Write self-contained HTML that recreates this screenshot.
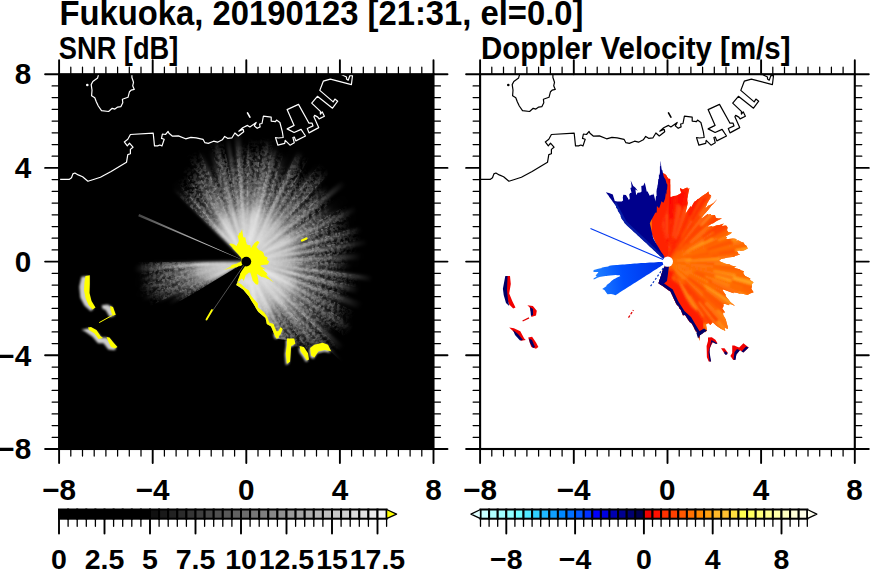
<!DOCTYPE html><html><head><meta charset="utf-8"><style>html,body{margin:0;padding:0;background:#fff;overflow:hidden}svg{display:block}text{font-family:"Liberation Sans",sans-serif;font-weight:bold}</style></head><body>
<svg width="870" height="570" viewBox="0 0 870 570">
<rect width="870" height="570" fill="#fff"/>
<text x="59.5" y="24.8" font-size="34.4" textLength="524" lengthAdjust="spacingAndGlyphs">Fukuoka, 20190123 [21:31, el=0.0]</text>
<text x="58.8" y="58.8" font-size="31.2" textLength="119.5" lengthAdjust="spacingAndGlyphs">SNR [dB]</text>
<text x="481" y="58.8" font-size="31.2" textLength="309.5" lengthAdjust="spacingAndGlyphs">Doppler Velocity [m/s]</text>
<rect x="59.1" y="74.2" width="374.4" height="374.8" fill="#000"/>
<defs><radialGradient id="g1" gradientUnits="userSpaceOnUse" cx="246.3" cy="261.6" r="99.5"><stop offset="0" stop-color="#fff" stop-opacity="0.79"/><stop offset="0.2" stop-color="#fff" stop-opacity="0.79"/><stop offset="0.4" stop-color="#fff" stop-opacity="0.55"/><stop offset="0.5" stop-color="#fff" stop-opacity="0.26"/><stop offset="0.7" stop-color="#fff" stop-opacity="0.08"/><stop offset="0.9" stop-color="#fff" stop-opacity="0.02"/><stop offset="1" stop-color="#fff" stop-opacity="0.00"/></radialGradient><radialGradient id="g2" gradientUnits="userSpaceOnUse" cx="246.3" cy="261.6" r="91.7"><stop offset="0" stop-color="#fff" stop-opacity="0.84"/><stop offset="0.2" stop-color="#fff" stop-opacity="0.84"/><stop offset="0.4" stop-color="#fff" stop-opacity="0.59"/><stop offset="0.5" stop-color="#fff" stop-opacity="0.28"/><stop offset="0.7" stop-color="#fff" stop-opacity="0.08"/><stop offset="0.9" stop-color="#fff" stop-opacity="0.02"/><stop offset="1" stop-color="#fff" stop-opacity="0.00"/></radialGradient><radialGradient id="g3" gradientUnits="userSpaceOnUse" cx="246.3" cy="261.6" r="99.2"><stop offset="0" stop-color="#fff" stop-opacity="0.75"/><stop offset="0.2" stop-color="#fff" stop-opacity="0.75"/><stop offset="0.4" stop-color="#fff" stop-opacity="0.53"/><stop offset="0.5" stop-color="#fff" stop-opacity="0.25"/><stop offset="0.7" stop-color="#fff" stop-opacity="0.08"/><stop offset="0.9" stop-color="#fff" stop-opacity="0.02"/><stop offset="1" stop-color="#fff" stop-opacity="0.00"/></radialGradient><radialGradient id="g4" gradientUnits="userSpaceOnUse" cx="246.3" cy="261.6" r="90.6"><stop offset="0" stop-color="#fff" stop-opacity="0.71"/><stop offset="0.2" stop-color="#fff" stop-opacity="0.71"/><stop offset="0.4" stop-color="#fff" stop-opacity="0.50"/><stop offset="0.5" stop-color="#fff" stop-opacity="0.23"/><stop offset="0.7" stop-color="#fff" stop-opacity="0.07"/><stop offset="0.9" stop-color="#fff" stop-opacity="0.01"/><stop offset="1" stop-color="#fff" stop-opacity="0.00"/></radialGradient><radialGradient id="g5" gradientUnits="userSpaceOnUse" cx="246.3" cy="261.6" r="93.3"><stop offset="0" stop-color="#fff" stop-opacity="0.84"/><stop offset="0.2" stop-color="#fff" stop-opacity="0.84"/><stop offset="0.4" stop-color="#fff" stop-opacity="0.59"/><stop offset="0.5" stop-color="#fff" stop-opacity="0.28"/><stop offset="0.7" stop-color="#fff" stop-opacity="0.08"/><stop offset="0.9" stop-color="#fff" stop-opacity="0.02"/><stop offset="1" stop-color="#fff" stop-opacity="0.00"/></radialGradient><radialGradient id="g6" gradientUnits="userSpaceOnUse" cx="246.3" cy="261.6" r="98"><stop offset="0" stop-color="#fff" stop-opacity="0.61"/><stop offset="0.2" stop-color="#fff" stop-opacity="0.61"/><stop offset="0.4" stop-color="#fff" stop-opacity="0.43"/><stop offset="0.5" stop-color="#fff" stop-opacity="0.20"/><stop offset="0.7" stop-color="#fff" stop-opacity="0.06"/><stop offset="0.9" stop-color="#fff" stop-opacity="0.01"/><stop offset="1" stop-color="#fff" stop-opacity="0.00"/></radialGradient><radialGradient id="g7" gradientUnits="userSpaceOnUse" cx="246.3" cy="261.6" r="110.3"><stop offset="0" stop-color="#fff" stop-opacity="0.86"/><stop offset="0.2" stop-color="#fff" stop-opacity="0.86"/><stop offset="0.4" stop-color="#fff" stop-opacity="0.60"/><stop offset="0.5" stop-color="#fff" stop-opacity="0.28"/><stop offset="0.7" stop-color="#fff" stop-opacity="0.09"/><stop offset="0.9" stop-color="#fff" stop-opacity="0.02"/><stop offset="1" stop-color="#fff" stop-opacity="0.00"/></radialGradient><radialGradient id="g8" gradientUnits="userSpaceOnUse" cx="246.3" cy="261.6" r="97.2"><stop offset="0" stop-color="#fff" stop-opacity="0.70"/><stop offset="0.2" stop-color="#fff" stop-opacity="0.70"/><stop offset="0.4" stop-color="#fff" stop-opacity="0.49"/><stop offset="0.5" stop-color="#fff" stop-opacity="0.23"/><stop offset="0.7" stop-color="#fff" stop-opacity="0.07"/><stop offset="0.9" stop-color="#fff" stop-opacity="0.01"/><stop offset="1" stop-color="#fff" stop-opacity="0.00"/></radialGradient><radialGradient id="g9" gradientUnits="userSpaceOnUse" cx="246.3" cy="261.6" r="100.4"><stop offset="0" stop-color="#fff" stop-opacity="0.89"/><stop offset="0.2" stop-color="#fff" stop-opacity="0.89"/><stop offset="0.4" stop-color="#fff" stop-opacity="0.62"/><stop offset="0.5" stop-color="#fff" stop-opacity="0.29"/><stop offset="0.7" stop-color="#fff" stop-opacity="0.09"/><stop offset="0.9" stop-color="#fff" stop-opacity="0.02"/><stop offset="1" stop-color="#fff" stop-opacity="0.00"/></radialGradient><radialGradient id="g10" gradientUnits="userSpaceOnUse" cx="246.3" cy="261.6" r="102.7"><stop offset="0" stop-color="#fff" stop-opacity="0.85"/><stop offset="0.2" stop-color="#fff" stop-opacity="0.85"/><stop offset="0.4" stop-color="#fff" stop-opacity="0.59"/><stop offset="0.5" stop-color="#fff" stop-opacity="0.28"/><stop offset="0.7" stop-color="#fff" stop-opacity="0.08"/><stop offset="0.9" stop-color="#fff" stop-opacity="0.02"/><stop offset="1" stop-color="#fff" stop-opacity="0.00"/></radialGradient><radialGradient id="g11" gradientUnits="userSpaceOnUse" cx="246.3" cy="261.6" r="121.2"><stop offset="0" stop-color="#fff" stop-opacity="0.74"/><stop offset="0.2" stop-color="#fff" stop-opacity="0.74"/><stop offset="0.4" stop-color="#fff" stop-opacity="0.52"/><stop offset="0.5" stop-color="#fff" stop-opacity="0.24"/><stop offset="0.7" stop-color="#fff" stop-opacity="0.07"/><stop offset="0.9" stop-color="#fff" stop-opacity="0.01"/><stop offset="1" stop-color="#fff" stop-opacity="0.00"/></radialGradient><radialGradient id="g12" gradientUnits="userSpaceOnUse" cx="246.3" cy="261.6" r="109.5"><stop offset="0" stop-color="#fff" stop-opacity="0.75"/><stop offset="0.2" stop-color="#fff" stop-opacity="0.75"/><stop offset="0.4" stop-color="#fff" stop-opacity="0.52"/><stop offset="0.5" stop-color="#fff" stop-opacity="0.25"/><stop offset="0.7" stop-color="#fff" stop-opacity="0.07"/><stop offset="0.9" stop-color="#fff" stop-opacity="0.01"/><stop offset="1" stop-color="#fff" stop-opacity="0.00"/></radialGradient><radialGradient id="g13" gradientUnits="userSpaceOnUse" cx="246.3" cy="261.6" r="103.9"><stop offset="0" stop-color="#fff" stop-opacity="0.86"/><stop offset="0.2" stop-color="#fff" stop-opacity="0.86"/><stop offset="0.4" stop-color="#fff" stop-opacity="0.60"/><stop offset="0.5" stop-color="#fff" stop-opacity="0.28"/><stop offset="0.7" stop-color="#fff" stop-opacity="0.09"/><stop offset="0.9" stop-color="#fff" stop-opacity="0.02"/><stop offset="1" stop-color="#fff" stop-opacity="0.00"/></radialGradient><radialGradient id="g14" gradientUnits="userSpaceOnUse" cx="246.3" cy="261.6" r="122.3"><stop offset="0" stop-color="#fff" stop-opacity="0.66"/><stop offset="0.2" stop-color="#fff" stop-opacity="0.66"/><stop offset="0.4" stop-color="#fff" stop-opacity="0.46"/><stop offset="0.5" stop-color="#fff" stop-opacity="0.22"/><stop offset="0.7" stop-color="#fff" stop-opacity="0.07"/><stop offset="0.9" stop-color="#fff" stop-opacity="0.01"/><stop offset="1" stop-color="#fff" stop-opacity="0.00"/></radialGradient><radialGradient id="g15" gradientUnits="userSpaceOnUse" cx="246.3" cy="261.6" r="126.7"><stop offset="0" stop-color="#fff" stop-opacity="0.83"/><stop offset="0.2" stop-color="#fff" stop-opacity="0.83"/><stop offset="0.4" stop-color="#fff" stop-opacity="0.58"/><stop offset="0.5" stop-color="#fff" stop-opacity="0.27"/><stop offset="0.7" stop-color="#fff" stop-opacity="0.08"/><stop offset="0.9" stop-color="#fff" stop-opacity="0.02"/><stop offset="1" stop-color="#fff" stop-opacity="0.00"/></radialGradient><radialGradient id="g16" gradientUnits="userSpaceOnUse" cx="246.3" cy="261.6" r="121.4"><stop offset="0" stop-color="#fff" stop-opacity="0.82"/><stop offset="0.2" stop-color="#fff" stop-opacity="0.82"/><stop offset="0.4" stop-color="#fff" stop-opacity="0.57"/><stop offset="0.5" stop-color="#fff" stop-opacity="0.27"/><stop offset="0.7" stop-color="#fff" stop-opacity="0.08"/><stop offset="0.9" stop-color="#fff" stop-opacity="0.02"/><stop offset="1" stop-color="#fff" stop-opacity="0.00"/></radialGradient><radialGradient id="g17" gradientUnits="userSpaceOnUse" cx="246.3" cy="261.6" r="120.4"><stop offset="0" stop-color="#fff" stop-opacity="0.85"/><stop offset="0.2" stop-color="#fff" stop-opacity="0.85"/><stop offset="0.4" stop-color="#fff" stop-opacity="0.59"/><stop offset="0.5" stop-color="#fff" stop-opacity="0.28"/><stop offset="0.7" stop-color="#fff" stop-opacity="0.08"/><stop offset="0.9" stop-color="#fff" stop-opacity="0.02"/><stop offset="1" stop-color="#fff" stop-opacity="0.00"/></radialGradient><radialGradient id="g18" gradientUnits="userSpaceOnUse" cx="246.3" cy="261.6" r="132.5"><stop offset="0" stop-color="#fff" stop-opacity="0.87"/><stop offset="0.2" stop-color="#fff" stop-opacity="0.87"/><stop offset="0.4" stop-color="#fff" stop-opacity="0.61"/><stop offset="0.5" stop-color="#fff" stop-opacity="0.29"/><stop offset="0.7" stop-color="#fff" stop-opacity="0.09"/><stop offset="0.9" stop-color="#fff" stop-opacity="0.02"/><stop offset="1" stop-color="#fff" stop-opacity="0.00"/></radialGradient><radialGradient id="g19" gradientUnits="userSpaceOnUse" cx="246.3" cy="261.6" r="119.8"><stop offset="0" stop-color="#fff" stop-opacity="0.74"/><stop offset="0.2" stop-color="#fff" stop-opacity="0.74"/><stop offset="0.4" stop-color="#fff" stop-opacity="0.51"/><stop offset="0.5" stop-color="#fff" stop-opacity="0.24"/><stop offset="0.7" stop-color="#fff" stop-opacity="0.07"/><stop offset="0.9" stop-color="#fff" stop-opacity="0.01"/><stop offset="1" stop-color="#fff" stop-opacity="0.00"/></radialGradient><radialGradient id="g20" gradientUnits="userSpaceOnUse" cx="246.3" cy="261.6" r="135.1"><stop offset="0" stop-color="#fff" stop-opacity="0.72"/><stop offset="0.2" stop-color="#fff" stop-opacity="0.72"/><stop offset="0.4" stop-color="#fff" stop-opacity="0.50"/><stop offset="0.5" stop-color="#fff" stop-opacity="0.24"/><stop offset="0.7" stop-color="#fff" stop-opacity="0.07"/><stop offset="0.9" stop-color="#fff" stop-opacity="0.01"/><stop offset="1" stop-color="#fff" stop-opacity="0.00"/></radialGradient><radialGradient id="g21" gradientUnits="userSpaceOnUse" cx="246.3" cy="261.6" r="112.7"><stop offset="0" stop-color="#fff" stop-opacity="0.82"/><stop offset="0.2" stop-color="#fff" stop-opacity="0.82"/><stop offset="0.4" stop-color="#fff" stop-opacity="0.57"/><stop offset="0.5" stop-color="#fff" stop-opacity="0.27"/><stop offset="0.7" stop-color="#fff" stop-opacity="0.08"/><stop offset="0.9" stop-color="#fff" stop-opacity="0.02"/><stop offset="1" stop-color="#fff" stop-opacity="0.00"/></radialGradient><radialGradient id="g22" gradientUnits="userSpaceOnUse" cx="246.3" cy="261.6" r="122.3"><stop offset="0" stop-color="#fff" stop-opacity="0.75"/><stop offset="0.2" stop-color="#fff" stop-opacity="0.75"/><stop offset="0.4" stop-color="#fff" stop-opacity="0.52"/><stop offset="0.5" stop-color="#fff" stop-opacity="0.25"/><stop offset="0.7" stop-color="#fff" stop-opacity="0.07"/><stop offset="0.9" stop-color="#fff" stop-opacity="0.01"/><stop offset="1" stop-color="#fff" stop-opacity="0.00"/></radialGradient><radialGradient id="g23" gradientUnits="userSpaceOnUse" cx="246.3" cy="261.6" r="128.2"><stop offset="0" stop-color="#fff" stop-opacity="0.67"/><stop offset="0.2" stop-color="#fff" stop-opacity="0.67"/><stop offset="0.4" stop-color="#fff" stop-opacity="0.47"/><stop offset="0.5" stop-color="#fff" stop-opacity="0.22"/><stop offset="0.7" stop-color="#fff" stop-opacity="0.07"/><stop offset="0.9" stop-color="#fff" stop-opacity="0.01"/><stop offset="1" stop-color="#fff" stop-opacity="0.00"/></radialGradient><radialGradient id="g24" gradientUnits="userSpaceOnUse" cx="246.3" cy="261.6" r="123.2"><stop offset="0" stop-color="#fff" stop-opacity="0.79"/><stop offset="0.2" stop-color="#fff" stop-opacity="0.79"/><stop offset="0.4" stop-color="#fff" stop-opacity="0.55"/><stop offset="0.5" stop-color="#fff" stop-opacity="0.26"/><stop offset="0.7" stop-color="#fff" stop-opacity="0.08"/><stop offset="0.9" stop-color="#fff" stop-opacity="0.02"/><stop offset="1" stop-color="#fff" stop-opacity="0.00"/></radialGradient><radialGradient id="g25" gradientUnits="userSpaceOnUse" cx="246.3" cy="261.6" r="113.6"><stop offset="0" stop-color="#fff" stop-opacity="0.70"/><stop offset="0.2" stop-color="#fff" stop-opacity="0.70"/><stop offset="0.4" stop-color="#fff" stop-opacity="0.49"/><stop offset="0.5" stop-color="#fff" stop-opacity="0.23"/><stop offset="0.7" stop-color="#fff" stop-opacity="0.07"/><stop offset="0.9" stop-color="#fff" stop-opacity="0.01"/><stop offset="1" stop-color="#fff" stop-opacity="0.00"/></radialGradient><radialGradient id="g26" gradientUnits="userSpaceOnUse" cx="246.3" cy="261.6" r="117.6"><stop offset="0" stop-color="#fff" stop-opacity="0.78"/><stop offset="0.2" stop-color="#fff" stop-opacity="0.78"/><stop offset="0.4" stop-color="#fff" stop-opacity="0.55"/><stop offset="0.5" stop-color="#fff" stop-opacity="0.26"/><stop offset="0.7" stop-color="#fff" stop-opacity="0.08"/><stop offset="0.9" stop-color="#fff" stop-opacity="0.02"/><stop offset="1" stop-color="#fff" stop-opacity="0.00"/></radialGradient><radialGradient id="g27" gradientUnits="userSpaceOnUse" cx="246.3" cy="261.6" r="111.4"><stop offset="0" stop-color="#fff" stop-opacity="0.62"/><stop offset="0.2" stop-color="#fff" stop-opacity="0.62"/><stop offset="0.4" stop-color="#fff" stop-opacity="0.43"/><stop offset="0.5" stop-color="#fff" stop-opacity="0.20"/><stop offset="0.7" stop-color="#fff" stop-opacity="0.06"/><stop offset="0.9" stop-color="#fff" stop-opacity="0.01"/><stop offset="1" stop-color="#fff" stop-opacity="0.00"/></radialGradient><radialGradient id="g28" gradientUnits="userSpaceOnUse" cx="246.3" cy="261.6" r="127.5"><stop offset="0" stop-color="#fff" stop-opacity="0.71"/><stop offset="0.2" stop-color="#fff" stop-opacity="0.71"/><stop offset="0.4" stop-color="#fff" stop-opacity="0.50"/><stop offset="0.5" stop-color="#fff" stop-opacity="0.24"/><stop offset="0.7" stop-color="#fff" stop-opacity="0.07"/><stop offset="0.9" stop-color="#fff" stop-opacity="0.01"/><stop offset="1" stop-color="#fff" stop-opacity="0.00"/></radialGradient><radialGradient id="g29" gradientUnits="userSpaceOnUse" cx="246.3" cy="261.6" r="124.7"><stop offset="0" stop-color="#fff" stop-opacity="0.87"/><stop offset="0.2" stop-color="#fff" stop-opacity="0.87"/><stop offset="0.4" stop-color="#fff" stop-opacity="0.61"/><stop offset="0.5" stop-color="#fff" stop-opacity="0.29"/><stop offset="0.7" stop-color="#fff" stop-opacity="0.09"/><stop offset="0.9" stop-color="#fff" stop-opacity="0.02"/><stop offset="1" stop-color="#fff" stop-opacity="0.00"/></radialGradient><radialGradient id="g30" gradientUnits="userSpaceOnUse" cx="246.3" cy="261.6" r="117.1"><stop offset="0" stop-color="#fff" stop-opacity="0.90"/><stop offset="0.2" stop-color="#fff" stop-opacity="0.90"/><stop offset="0.4" stop-color="#fff" stop-opacity="0.63"/><stop offset="0.5" stop-color="#fff" stop-opacity="0.30"/><stop offset="0.7" stop-color="#fff" stop-opacity="0.09"/><stop offset="0.9" stop-color="#fff" stop-opacity="0.02"/><stop offset="1" stop-color="#fff" stop-opacity="0.00"/></radialGradient><radialGradient id="g31" gradientUnits="userSpaceOnUse" cx="246.3" cy="261.6" r="119.9"><stop offset="0" stop-color="#fff" stop-opacity="0.86"/><stop offset="0.2" stop-color="#fff" stop-opacity="0.86"/><stop offset="0.4" stop-color="#fff" stop-opacity="0.61"/><stop offset="0.5" stop-color="#fff" stop-opacity="0.29"/><stop offset="0.7" stop-color="#fff" stop-opacity="0.09"/><stop offset="0.9" stop-color="#fff" stop-opacity="0.02"/><stop offset="1" stop-color="#fff" stop-opacity="0.00"/></radialGradient><radialGradient id="g32" gradientUnits="userSpaceOnUse" cx="246.3" cy="261.6" r="113.6"><stop offset="0" stop-color="#fff" stop-opacity="0.67"/><stop offset="0.2" stop-color="#fff" stop-opacity="0.67"/><stop offset="0.4" stop-color="#fff" stop-opacity="0.47"/><stop offset="0.5" stop-color="#fff" stop-opacity="0.22"/><stop offset="0.7" stop-color="#fff" stop-opacity="0.07"/><stop offset="0.9" stop-color="#fff" stop-opacity="0.01"/><stop offset="1" stop-color="#fff" stop-opacity="0.00"/></radialGradient><radialGradient id="g33" gradientUnits="userSpaceOnUse" cx="246.3" cy="261.6" r="107.5"><stop offset="0" stop-color="#fff" stop-opacity="0.62"/><stop offset="0.2" stop-color="#fff" stop-opacity="0.62"/><stop offset="0.4" stop-color="#fff" stop-opacity="0.43"/><stop offset="0.5" stop-color="#fff" stop-opacity="0.20"/><stop offset="0.7" stop-color="#fff" stop-opacity="0.06"/><stop offset="0.9" stop-color="#fff" stop-opacity="0.01"/><stop offset="1" stop-color="#fff" stop-opacity="0.00"/></radialGradient><radialGradient id="g34" gradientUnits="userSpaceOnUse" cx="246.3" cy="261.6" r="120.1"><stop offset="0" stop-color="#fff" stop-opacity="0.74"/><stop offset="0.2" stop-color="#fff" stop-opacity="0.74"/><stop offset="0.4" stop-color="#fff" stop-opacity="0.52"/><stop offset="0.5" stop-color="#fff" stop-opacity="0.25"/><stop offset="0.7" stop-color="#fff" stop-opacity="0.07"/><stop offset="0.9" stop-color="#fff" stop-opacity="0.01"/><stop offset="1" stop-color="#fff" stop-opacity="0.00"/></radialGradient><radialGradient id="g35" gradientUnits="userSpaceOnUse" cx="246.3" cy="261.6" r="102.5"><stop offset="0" stop-color="#fff" stop-opacity="0.68"/><stop offset="0.2" stop-color="#fff" stop-opacity="0.68"/><stop offset="0.4" stop-color="#fff" stop-opacity="0.47"/><stop offset="0.5" stop-color="#fff" stop-opacity="0.22"/><stop offset="0.7" stop-color="#fff" stop-opacity="0.07"/><stop offset="0.9" stop-color="#fff" stop-opacity="0.01"/><stop offset="1" stop-color="#fff" stop-opacity="0.00"/></radialGradient><radialGradient id="g36" gradientUnits="userSpaceOnUse" cx="246.3" cy="261.6" r="109.6"><stop offset="0" stop-color="#fff" stop-opacity="0.65"/><stop offset="0.2" stop-color="#fff" stop-opacity="0.65"/><stop offset="0.4" stop-color="#fff" stop-opacity="0.46"/><stop offset="0.5" stop-color="#fff" stop-opacity="0.21"/><stop offset="0.7" stop-color="#fff" stop-opacity="0.07"/><stop offset="0.9" stop-color="#fff" stop-opacity="0.01"/><stop offset="1" stop-color="#fff" stop-opacity="0.00"/></radialGradient><radialGradient id="g37" gradientUnits="userSpaceOnUse" cx="246.3" cy="261.6" r="106.9"><stop offset="0" stop-color="#fff" stop-opacity="0.87"/><stop offset="0.2" stop-color="#fff" stop-opacity="0.87"/><stop offset="0.4" stop-color="#fff" stop-opacity="0.61"/><stop offset="0.5" stop-color="#fff" stop-opacity="0.29"/><stop offset="0.7" stop-color="#fff" stop-opacity="0.09"/><stop offset="0.9" stop-color="#fff" stop-opacity="0.02"/><stop offset="1" stop-color="#fff" stop-opacity="0.00"/></radialGradient><radialGradient id="g38" gradientUnits="userSpaceOnUse" cx="246.3" cy="261.6" r="114.7"><stop offset="0" stop-color="#fff" stop-opacity="0.74"/><stop offset="0.2" stop-color="#fff" stop-opacity="0.74"/><stop offset="0.4" stop-color="#fff" stop-opacity="0.52"/><stop offset="0.5" stop-color="#fff" stop-opacity="0.25"/><stop offset="0.7" stop-color="#fff" stop-opacity="0.07"/><stop offset="0.9" stop-color="#fff" stop-opacity="0.01"/><stop offset="1" stop-color="#fff" stop-opacity="0.00"/></radialGradient><radialGradient id="g39" gradientUnits="userSpaceOnUse" cx="246.3" cy="261.6" r="119.5"><stop offset="0" stop-color="#fff" stop-opacity="0.76"/><stop offset="0.2" stop-color="#fff" stop-opacity="0.76"/><stop offset="0.4" stop-color="#fff" stop-opacity="0.53"/><stop offset="0.5" stop-color="#fff" stop-opacity="0.25"/><stop offset="0.7" stop-color="#fff" stop-opacity="0.08"/><stop offset="0.9" stop-color="#fff" stop-opacity="0.02"/><stop offset="1" stop-color="#fff" stop-opacity="0.00"/></radialGradient><radialGradient id="g40" gradientUnits="userSpaceOnUse" cx="246.3" cy="261.6" r="99.4"><stop offset="0" stop-color="#fff" stop-opacity="0.66"/><stop offset="0.2" stop-color="#fff" stop-opacity="0.66"/><stop offset="0.4" stop-color="#fff" stop-opacity="0.46"/><stop offset="0.5" stop-color="#fff" stop-opacity="0.22"/><stop offset="0.7" stop-color="#fff" stop-opacity="0.07"/><stop offset="0.9" stop-color="#fff" stop-opacity="0.01"/><stop offset="1" stop-color="#fff" stop-opacity="0.00"/></radialGradient><radialGradient id="g41" gradientUnits="userSpaceOnUse" cx="246.3" cy="261.6" r="116.6"><stop offset="0" stop-color="#fff" stop-opacity="0.86"/><stop offset="0.2" stop-color="#fff" stop-opacity="0.86"/><stop offset="0.4" stop-color="#fff" stop-opacity="0.61"/><stop offset="0.5" stop-color="#fff" stop-opacity="0.29"/><stop offset="0.7" stop-color="#fff" stop-opacity="0.09"/><stop offset="0.9" stop-color="#fff" stop-opacity="0.02"/><stop offset="1" stop-color="#fff" stop-opacity="0.00"/></radialGradient><radialGradient id="g42" gradientUnits="userSpaceOnUse" cx="246.3" cy="261.6" r="108.8"><stop offset="0" stop-color="#fff" stop-opacity="0.77"/><stop offset="0.2" stop-color="#fff" stop-opacity="0.77"/><stop offset="0.4" stop-color="#fff" stop-opacity="0.54"/><stop offset="0.5" stop-color="#fff" stop-opacity="0.26"/><stop offset="0.7" stop-color="#fff" stop-opacity="0.08"/><stop offset="0.9" stop-color="#fff" stop-opacity="0.02"/><stop offset="1" stop-color="#fff" stop-opacity="0.00"/></radialGradient><radialGradient id="g43" gradientUnits="userSpaceOnUse" cx="246.3" cy="261.6" r="106.5"><stop offset="0" stop-color="#fff" stop-opacity="0.76"/><stop offset="0.2" stop-color="#fff" stop-opacity="0.76"/><stop offset="0.4" stop-color="#fff" stop-opacity="0.53"/><stop offset="0.5" stop-color="#fff" stop-opacity="0.25"/><stop offset="0.7" stop-color="#fff" stop-opacity="0.08"/><stop offset="0.9" stop-color="#fff" stop-opacity="0.02"/><stop offset="1" stop-color="#fff" stop-opacity="0.00"/></radialGradient><radialGradient id="g44" gradientUnits="userSpaceOnUse" cx="246.3" cy="261.6" r="117"><stop offset="0" stop-color="#fff" stop-opacity="0.60"/><stop offset="0.2" stop-color="#fff" stop-opacity="0.60"/><stop offset="0.4" stop-color="#fff" stop-opacity="0.42"/><stop offset="0.5" stop-color="#fff" stop-opacity="0.20"/><stop offset="0.7" stop-color="#fff" stop-opacity="0.06"/><stop offset="0.9" stop-color="#fff" stop-opacity="0.01"/><stop offset="1" stop-color="#fff" stop-opacity="0.00"/></radialGradient><radialGradient id="g45" gradientUnits="userSpaceOnUse" cx="246.3" cy="261.6" r="121.4"><stop offset="0" stop-color="#fff" stop-opacity="0.61"/><stop offset="0.2" stop-color="#fff" stop-opacity="0.61"/><stop offset="0.4" stop-color="#fff" stop-opacity="0.42"/><stop offset="0.5" stop-color="#fff" stop-opacity="0.20"/><stop offset="0.7" stop-color="#fff" stop-opacity="0.06"/><stop offset="0.9" stop-color="#fff" stop-opacity="0.01"/><stop offset="1" stop-color="#fff" stop-opacity="0.00"/></radialGradient><radialGradient id="g46" gradientUnits="userSpaceOnUse" cx="246.3" cy="261.6" r="114.8"><stop offset="0" stop-color="#fff" stop-opacity="0.86"/><stop offset="0.2" stop-color="#fff" stop-opacity="0.86"/><stop offset="0.4" stop-color="#fff" stop-opacity="0.60"/><stop offset="0.5" stop-color="#fff" stop-opacity="0.28"/><stop offset="0.7" stop-color="#fff" stop-opacity="0.09"/><stop offset="0.9" stop-color="#fff" stop-opacity="0.02"/><stop offset="1" stop-color="#fff" stop-opacity="0.00"/></radialGradient><radialGradient id="g47" gradientUnits="userSpaceOnUse" cx="246.3" cy="261.6" r="106.5"><stop offset="0" stop-color="#fff" stop-opacity="0.72"/><stop offset="0.2" stop-color="#fff" stop-opacity="0.72"/><stop offset="0.4" stop-color="#fff" stop-opacity="0.51"/><stop offset="0.5" stop-color="#fff" stop-opacity="0.24"/><stop offset="0.7" stop-color="#fff" stop-opacity="0.07"/><stop offset="0.9" stop-color="#fff" stop-opacity="0.01"/><stop offset="1" stop-color="#fff" stop-opacity="0.00"/></radialGradient><radialGradient id="g48" gradientUnits="userSpaceOnUse" cx="246.3" cy="261.6" r="121.3"><stop offset="0" stop-color="#fff" stop-opacity="0.64"/><stop offset="0.2" stop-color="#fff" stop-opacity="0.64"/><stop offset="0.4" stop-color="#fff" stop-opacity="0.45"/><stop offset="0.5" stop-color="#fff" stop-opacity="0.21"/><stop offset="0.7" stop-color="#fff" stop-opacity="0.06"/><stop offset="0.9" stop-color="#fff" stop-opacity="0.01"/><stop offset="1" stop-color="#fff" stop-opacity="0.00"/></radialGradient><radialGradient id="g49" gradientUnits="userSpaceOnUse" cx="246.3" cy="261.6" r="103.4"><stop offset="0" stop-color="#fff" stop-opacity="0.61"/><stop offset="0.2" stop-color="#fff" stop-opacity="0.61"/><stop offset="0.4" stop-color="#fff" stop-opacity="0.43"/><stop offset="0.5" stop-color="#fff" stop-opacity="0.20"/><stop offset="0.7" stop-color="#fff" stop-opacity="0.06"/><stop offset="0.9" stop-color="#fff" stop-opacity="0.01"/><stop offset="1" stop-color="#fff" stop-opacity="0.00"/></radialGradient><radialGradient id="g50" gradientUnits="userSpaceOnUse" cx="246.3" cy="261.6" r="104.6"><stop offset="0" stop-color="#fff" stop-opacity="0.86"/><stop offset="0.2" stop-color="#fff" stop-opacity="0.86"/><stop offset="0.4" stop-color="#fff" stop-opacity="0.60"/><stop offset="0.5" stop-color="#fff" stop-opacity="0.28"/><stop offset="0.7" stop-color="#fff" stop-opacity="0.09"/><stop offset="0.9" stop-color="#fff" stop-opacity="0.02"/><stop offset="1" stop-color="#fff" stop-opacity="0.00"/></radialGradient><radialGradient id="g51" gradientUnits="userSpaceOnUse" cx="246.3" cy="261.6" r="104.6"><stop offset="0" stop-color="#fff" stop-opacity="0.76"/><stop offset="0.2" stop-color="#fff" stop-opacity="0.76"/><stop offset="0.4" stop-color="#fff" stop-opacity="0.53"/><stop offset="0.5" stop-color="#fff" stop-opacity="0.25"/><stop offset="0.7" stop-color="#fff" stop-opacity="0.08"/><stop offset="0.9" stop-color="#fff" stop-opacity="0.02"/><stop offset="1" stop-color="#fff" stop-opacity="0.00"/></radialGradient><radialGradient id="g52" gradientUnits="userSpaceOnUse" cx="246.3" cy="261.6" r="113.2"><stop offset="0" stop-color="#fff" stop-opacity="0.67"/><stop offset="0.2" stop-color="#fff" stop-opacity="0.67"/><stop offset="0.4" stop-color="#fff" stop-opacity="0.47"/><stop offset="0.5" stop-color="#fff" stop-opacity="0.22"/><stop offset="0.7" stop-color="#fff" stop-opacity="0.07"/><stop offset="0.9" stop-color="#fff" stop-opacity="0.01"/><stop offset="1" stop-color="#fff" stop-opacity="0.00"/></radialGradient><radialGradient id="g53" gradientUnits="userSpaceOnUse" cx="246.3" cy="261.6" r="106.4"><stop offset="0" stop-color="#fff" stop-opacity="0.71"/><stop offset="0.2" stop-color="#fff" stop-opacity="0.71"/><stop offset="0.4" stop-color="#fff" stop-opacity="0.50"/><stop offset="0.5" stop-color="#fff" stop-opacity="0.24"/><stop offset="0.7" stop-color="#fff" stop-opacity="0.07"/><stop offset="0.9" stop-color="#fff" stop-opacity="0.01"/><stop offset="1" stop-color="#fff" stop-opacity="0.00"/></radialGradient><radialGradient id="g54" gradientUnits="userSpaceOnUse" cx="246.3" cy="261.6" r="115"><stop offset="0" stop-color="#fff" stop-opacity="0.61"/><stop offset="0.2" stop-color="#fff" stop-opacity="0.61"/><stop offset="0.4" stop-color="#fff" stop-opacity="0.43"/><stop offset="0.5" stop-color="#fff" stop-opacity="0.20"/><stop offset="0.7" stop-color="#fff" stop-opacity="0.06"/><stop offset="0.9" stop-color="#fff" stop-opacity="0.01"/><stop offset="1" stop-color="#fff" stop-opacity="0.00"/></radialGradient><radialGradient id="g55" gradientUnits="userSpaceOnUse" cx="246.3" cy="261.6" r="122.7"><stop offset="0" stop-color="#fff" stop-opacity="0.83"/><stop offset="0.2" stop-color="#fff" stop-opacity="0.83"/><stop offset="0.4" stop-color="#fff" stop-opacity="0.58"/><stop offset="0.5" stop-color="#fff" stop-opacity="0.27"/><stop offset="0.7" stop-color="#fff" stop-opacity="0.08"/><stop offset="0.9" stop-color="#fff" stop-opacity="0.02"/><stop offset="1" stop-color="#fff" stop-opacity="0.00"/></radialGradient><radialGradient id="g56" gradientUnits="userSpaceOnUse" cx="246.3" cy="261.6" r="103.2"><stop offset="0" stop-color="#fff" stop-opacity="0.74"/><stop offset="0.2" stop-color="#fff" stop-opacity="0.74"/><stop offset="0.4" stop-color="#fff" stop-opacity="0.52"/><stop offset="0.5" stop-color="#fff" stop-opacity="0.24"/><stop offset="0.7" stop-color="#fff" stop-opacity="0.07"/><stop offset="0.9" stop-color="#fff" stop-opacity="0.01"/><stop offset="1" stop-color="#fff" stop-opacity="0.00"/></radialGradient><radialGradient id="g57" gradientUnits="userSpaceOnUse" cx="246.3" cy="261.6" r="120.8"><stop offset="0" stop-color="#fff" stop-opacity="0.65"/><stop offset="0.2" stop-color="#fff" stop-opacity="0.65"/><stop offset="0.4" stop-color="#fff" stop-opacity="0.46"/><stop offset="0.5" stop-color="#fff" stop-opacity="0.22"/><stop offset="0.7" stop-color="#fff" stop-opacity="0.07"/><stop offset="0.9" stop-color="#fff" stop-opacity="0.01"/><stop offset="1" stop-color="#fff" stop-opacity="0.00"/></radialGradient><radialGradient id="g58" gradientUnits="userSpaceOnUse" cx="246.3" cy="261.6" r="109.3"><stop offset="0" stop-color="#fff" stop-opacity="0.81"/><stop offset="0.2" stop-color="#fff" stop-opacity="0.81"/><stop offset="0.4" stop-color="#fff" stop-opacity="0.57"/><stop offset="0.5" stop-color="#fff" stop-opacity="0.27"/><stop offset="0.7" stop-color="#fff" stop-opacity="0.08"/><stop offset="0.9" stop-color="#fff" stop-opacity="0.02"/><stop offset="1" stop-color="#fff" stop-opacity="0.00"/></radialGradient><radialGradient id="g59" gradientUnits="userSpaceOnUse" cx="246.3" cy="261.6" r="104.7"><stop offset="0" stop-color="#fff" stop-opacity="0.72"/><stop offset="0.2" stop-color="#fff" stop-opacity="0.72"/><stop offset="0.4" stop-color="#fff" stop-opacity="0.50"/><stop offset="0.5" stop-color="#fff" stop-opacity="0.24"/><stop offset="0.7" stop-color="#fff" stop-opacity="0.07"/><stop offset="0.9" stop-color="#fff" stop-opacity="0.01"/><stop offset="1" stop-color="#fff" stop-opacity="0.00"/></radialGradient><radialGradient id="g60" gradientUnits="userSpaceOnUse" cx="246.3" cy="261.6" r="124.8"><stop offset="0" stop-color="#fff" stop-opacity="0.69"/><stop offset="0.2" stop-color="#fff" stop-opacity="0.69"/><stop offset="0.4" stop-color="#fff" stop-opacity="0.48"/><stop offset="0.5" stop-color="#fff" stop-opacity="0.23"/><stop offset="0.7" stop-color="#fff" stop-opacity="0.07"/><stop offset="0.9" stop-color="#fff" stop-opacity="0.01"/><stop offset="1" stop-color="#fff" stop-opacity="0.00"/></radialGradient><radialGradient id="g61" gradientUnits="userSpaceOnUse" cx="246.3" cy="261.6" r="116.9"><stop offset="0" stop-color="#fff" stop-opacity="0.88"/><stop offset="0.2" stop-color="#fff" stop-opacity="0.88"/><stop offset="0.4" stop-color="#fff" stop-opacity="0.62"/><stop offset="0.5" stop-color="#fff" stop-opacity="0.29"/><stop offset="0.7" stop-color="#fff" stop-opacity="0.09"/><stop offset="0.9" stop-color="#fff" stop-opacity="0.02"/><stop offset="1" stop-color="#fff" stop-opacity="0.00"/></radialGradient><radialGradient id="g62" gradientUnits="userSpaceOnUse" cx="246.3" cy="261.6" r="118.4"><stop offset="0" stop-color="#fff" stop-opacity="0.75"/><stop offset="0.2" stop-color="#fff" stop-opacity="0.75"/><stop offset="0.4" stop-color="#fff" stop-opacity="0.53"/><stop offset="0.5" stop-color="#fff" stop-opacity="0.25"/><stop offset="0.7" stop-color="#fff" stop-opacity="0.08"/><stop offset="0.9" stop-color="#fff" stop-opacity="0.02"/><stop offset="1" stop-color="#fff" stop-opacity="0.00"/></radialGradient><radialGradient id="g63" gradientUnits="userSpaceOnUse" cx="246.3" cy="261.6" r="127.1"><stop offset="0" stop-color="#fff" stop-opacity="0.69"/><stop offset="0.2" stop-color="#fff" stop-opacity="0.69"/><stop offset="0.4" stop-color="#fff" stop-opacity="0.49"/><stop offset="0.5" stop-color="#fff" stop-opacity="0.23"/><stop offset="0.7" stop-color="#fff" stop-opacity="0.07"/><stop offset="0.9" stop-color="#fff" stop-opacity="0.01"/><stop offset="1" stop-color="#fff" stop-opacity="0.00"/></radialGradient><radialGradient id="g64" gradientUnits="userSpaceOnUse" cx="246.3" cy="261.6" r="117.2"><stop offset="0" stop-color="#fff" stop-opacity="0.77"/><stop offset="0.2" stop-color="#fff" stop-opacity="0.77"/><stop offset="0.4" stop-color="#fff" stop-opacity="0.54"/><stop offset="0.5" stop-color="#fff" stop-opacity="0.25"/><stop offset="0.7" stop-color="#fff" stop-opacity="0.08"/><stop offset="0.9" stop-color="#fff" stop-opacity="0.02"/><stop offset="1" stop-color="#fff" stop-opacity="0.00"/></radialGradient><radialGradient id="g65" gradientUnits="userSpaceOnUse" cx="246.3" cy="261.6" r="124.2"><stop offset="0" stop-color="#fff" stop-opacity="0.89"/><stop offset="0.2" stop-color="#fff" stop-opacity="0.89"/><stop offset="0.4" stop-color="#fff" stop-opacity="0.63"/><stop offset="0.5" stop-color="#fff" stop-opacity="0.29"/><stop offset="0.7" stop-color="#fff" stop-opacity="0.09"/><stop offset="0.9" stop-color="#fff" stop-opacity="0.02"/><stop offset="1" stop-color="#fff" stop-opacity="0.00"/></radialGradient><radialGradient id="g66" gradientUnits="userSpaceOnUse" cx="246.3" cy="261.6" r="112.8"><stop offset="0" stop-color="#fff" stop-opacity="0.90"/><stop offset="0.2" stop-color="#fff" stop-opacity="0.90"/><stop offset="0.4" stop-color="#fff" stop-opacity="0.63"/><stop offset="0.5" stop-color="#fff" stop-opacity="0.30"/><stop offset="0.7" stop-color="#fff" stop-opacity="0.09"/><stop offset="0.9" stop-color="#fff" stop-opacity="0.02"/><stop offset="1" stop-color="#fff" stop-opacity="0.00"/></radialGradient><radialGradient id="g67" gradientUnits="userSpaceOnUse" cx="246.3" cy="261.6" r="107.4"><stop offset="0" stop-color="#fff" stop-opacity="0.62"/><stop offset="0.2" stop-color="#fff" stop-opacity="0.62"/><stop offset="0.4" stop-color="#fff" stop-opacity="0.44"/><stop offset="0.5" stop-color="#fff" stop-opacity="0.21"/><stop offset="0.7" stop-color="#fff" stop-opacity="0.06"/><stop offset="0.9" stop-color="#fff" stop-opacity="0.01"/><stop offset="1" stop-color="#fff" stop-opacity="0.00"/></radialGradient><radialGradient id="g68" gradientUnits="userSpaceOnUse" cx="246.3" cy="261.6" r="123.7"><stop offset="0" stop-color="#fff" stop-opacity="0.73"/><stop offset="0.2" stop-color="#fff" stop-opacity="0.73"/><stop offset="0.4" stop-color="#fff" stop-opacity="0.51"/><stop offset="0.5" stop-color="#fff" stop-opacity="0.24"/><stop offset="0.7" stop-color="#fff" stop-opacity="0.07"/><stop offset="0.9" stop-color="#fff" stop-opacity="0.01"/><stop offset="1" stop-color="#fff" stop-opacity="0.00"/></radialGradient><radialGradient id="g69" gradientUnits="userSpaceOnUse" cx="246.3" cy="261.6" r="105.6"><stop offset="0" stop-color="#fff" stop-opacity="0.79"/><stop offset="0.2" stop-color="#fff" stop-opacity="0.79"/><stop offset="0.4" stop-color="#fff" stop-opacity="0.56"/><stop offset="0.5" stop-color="#fff" stop-opacity="0.26"/><stop offset="0.7" stop-color="#fff" stop-opacity="0.08"/><stop offset="0.9" stop-color="#fff" stop-opacity="0.02"/><stop offset="1" stop-color="#fff" stop-opacity="0.00"/></radialGradient><radialGradient id="g70" gradientUnits="userSpaceOnUse" cx="246.3" cy="261.6" r="116.6"><stop offset="0" stop-color="#fff" stop-opacity="0.72"/><stop offset="0.2" stop-color="#fff" stop-opacity="0.72"/><stop offset="0.4" stop-color="#fff" stop-opacity="0.50"/><stop offset="0.5" stop-color="#fff" stop-opacity="0.24"/><stop offset="0.7" stop-color="#fff" stop-opacity="0.07"/><stop offset="0.9" stop-color="#fff" stop-opacity="0.01"/><stop offset="1" stop-color="#fff" stop-opacity="0.00"/></radialGradient><radialGradient id="g71" gradientUnits="userSpaceOnUse" cx="246.3" cy="261.6" r="109.2"><stop offset="0" stop-color="#fff" stop-opacity="0.61"/><stop offset="0.2" stop-color="#fff" stop-opacity="0.61"/><stop offset="0.4" stop-color="#fff" stop-opacity="0.43"/><stop offset="0.5" stop-color="#fff" stop-opacity="0.20"/><stop offset="0.7" stop-color="#fff" stop-opacity="0.06"/><stop offset="0.9" stop-color="#fff" stop-opacity="0.01"/><stop offset="1" stop-color="#fff" stop-opacity="0.00"/></radialGradient><radialGradient id="g72" gradientUnits="userSpaceOnUse" cx="246.3" cy="261.6" r="109.1"><stop offset="0" stop-color="#fff" stop-opacity="0.81"/><stop offset="0.2" stop-color="#fff" stop-opacity="0.81"/><stop offset="0.4" stop-color="#fff" stop-opacity="0.57"/><stop offset="0.5" stop-color="#fff" stop-opacity="0.27"/><stop offset="0.7" stop-color="#fff" stop-opacity="0.08"/><stop offset="0.9" stop-color="#fff" stop-opacity="0.02"/><stop offset="1" stop-color="#fff" stop-opacity="0.00"/></radialGradient><radialGradient id="g73" gradientUnits="userSpaceOnUse" cx="246.3" cy="261.6" r="119.3"><stop offset="0" stop-color="#fff" stop-opacity="0.74"/><stop offset="0.2" stop-color="#fff" stop-opacity="0.74"/><stop offset="0.4" stop-color="#fff" stop-opacity="0.52"/><stop offset="0.5" stop-color="#fff" stop-opacity="0.24"/><stop offset="0.7" stop-color="#fff" stop-opacity="0.07"/><stop offset="0.9" stop-color="#fff" stop-opacity="0.01"/><stop offset="1" stop-color="#fff" stop-opacity="0.00"/></radialGradient><radialGradient id="g74" gradientUnits="userSpaceOnUse" cx="246.3" cy="261.6" r="110.9"><stop offset="0" stop-color="#fff" stop-opacity="0.75"/><stop offset="0.2" stop-color="#fff" stop-opacity="0.75"/><stop offset="0.4" stop-color="#fff" stop-opacity="0.52"/><stop offset="0.5" stop-color="#fff" stop-opacity="0.25"/><stop offset="0.7" stop-color="#fff" stop-opacity="0.07"/><stop offset="0.9" stop-color="#fff" stop-opacity="0.01"/><stop offset="1" stop-color="#fff" stop-opacity="0.00"/></radialGradient><radialGradient id="g75" gradientUnits="userSpaceOnUse" cx="246.3" cy="261.6" r="123.3"><stop offset="0" stop-color="#fff" stop-opacity="0.63"/><stop offset="0.2" stop-color="#fff" stop-opacity="0.63"/><stop offset="0.4" stop-color="#fff" stop-opacity="0.44"/><stop offset="0.5" stop-color="#fff" stop-opacity="0.21"/><stop offset="0.7" stop-color="#fff" stop-opacity="0.06"/><stop offset="0.9" stop-color="#fff" stop-opacity="0.01"/><stop offset="1" stop-color="#fff" stop-opacity="0.00"/></radialGradient><radialGradient id="g76" gradientUnits="userSpaceOnUse" cx="246.3" cy="261.6" r="112"><stop offset="0" stop-color="#fff" stop-opacity="0.82"/><stop offset="0.2" stop-color="#fff" stop-opacity="0.82"/><stop offset="0.4" stop-color="#fff" stop-opacity="0.57"/><stop offset="0.5" stop-color="#fff" stop-opacity="0.27"/><stop offset="0.7" stop-color="#fff" stop-opacity="0.08"/><stop offset="0.9" stop-color="#fff" stop-opacity="0.02"/><stop offset="1" stop-color="#fff" stop-opacity="0.00"/></radialGradient><radialGradient id="g77" gradientUnits="userSpaceOnUse" cx="246.3" cy="261.6" r="116.2"><stop offset="0" stop-color="#fff" stop-opacity="0.79"/><stop offset="0.2" stop-color="#fff" stop-opacity="0.79"/><stop offset="0.4" stop-color="#fff" stop-opacity="0.55"/><stop offset="0.5" stop-color="#fff" stop-opacity="0.26"/><stop offset="0.7" stop-color="#fff" stop-opacity="0.08"/><stop offset="0.9" stop-color="#fff" stop-opacity="0.02"/><stop offset="1" stop-color="#fff" stop-opacity="0.00"/></radialGradient><radialGradient id="g78" gradientUnits="userSpaceOnUse" cx="246.3" cy="261.6" r="111"><stop offset="0" stop-color="#fff" stop-opacity="0.86"/><stop offset="0.2" stop-color="#fff" stop-opacity="0.86"/><stop offset="0.4" stop-color="#fff" stop-opacity="0.60"/><stop offset="0.5" stop-color="#fff" stop-opacity="0.28"/><stop offset="0.7" stop-color="#fff" stop-opacity="0.09"/><stop offset="0.9" stop-color="#fff" stop-opacity="0.02"/><stop offset="1" stop-color="#fff" stop-opacity="0.00"/></radialGradient><radialGradient id="g79" gradientUnits="userSpaceOnUse" cx="246.3" cy="261.6" r="108.7"><stop offset="0" stop-color="#fff" stop-opacity="0.67"/><stop offset="0.2" stop-color="#fff" stop-opacity="0.67"/><stop offset="0.4" stop-color="#fff" stop-opacity="0.47"/><stop offset="0.5" stop-color="#fff" stop-opacity="0.22"/><stop offset="0.7" stop-color="#fff" stop-opacity="0.07"/><stop offset="0.9" stop-color="#fff" stop-opacity="0.01"/><stop offset="1" stop-color="#fff" stop-opacity="0.00"/></radialGradient><radialGradient id="g80" gradientUnits="userSpaceOnUse" cx="246.3" cy="261.6" r="99.9"><stop offset="0" stop-color="#fff" stop-opacity="0.78"/><stop offset="0.2" stop-color="#fff" stop-opacity="0.78"/><stop offset="0.4" stop-color="#fff" stop-opacity="0.55"/><stop offset="0.5" stop-color="#fff" stop-opacity="0.26"/><stop offset="0.7" stop-color="#fff" stop-opacity="0.08"/><stop offset="0.9" stop-color="#fff" stop-opacity="0.02"/><stop offset="1" stop-color="#fff" stop-opacity="0.00"/></radialGradient><radialGradient id="g81" gradientUnits="userSpaceOnUse" cx="246.3" cy="261.6" r="108.7"><stop offset="0" stop-color="#fff" stop-opacity="0.90"/><stop offset="0.2" stop-color="#fff" stop-opacity="0.90"/><stop offset="0.4" stop-color="#fff" stop-opacity="0.63"/><stop offset="0.5" stop-color="#fff" stop-opacity="0.30"/><stop offset="0.7" stop-color="#fff" stop-opacity="0.09"/><stop offset="0.9" stop-color="#fff" stop-opacity="0.02"/><stop offset="1" stop-color="#fff" stop-opacity="0.00"/></radialGradient><radialGradient id="g82" gradientUnits="userSpaceOnUse" cx="246.3" cy="261.6" r="93.9"><stop offset="0" stop-color="#fff" stop-opacity="0.69"/><stop offset="0.2" stop-color="#fff" stop-opacity="0.69"/><stop offset="0.4" stop-color="#fff" stop-opacity="0.49"/><stop offset="0.5" stop-color="#fff" stop-opacity="0.23"/><stop offset="0.7" stop-color="#fff" stop-opacity="0.07"/><stop offset="0.9" stop-color="#fff" stop-opacity="0.01"/><stop offset="1" stop-color="#fff" stop-opacity="0.00"/></radialGradient><radialGradient id="g83" gradientUnits="userSpaceOnUse" cx="246.3" cy="261.6" r="109.4"><stop offset="0" stop-color="#fff" stop-opacity="0.77"/><stop offset="0.2" stop-color="#fff" stop-opacity="0.77"/><stop offset="0.4" stop-color="#fff" stop-opacity="0.54"/><stop offset="0.5" stop-color="#fff" stop-opacity="0.25"/><stop offset="0.7" stop-color="#fff" stop-opacity="0.08"/><stop offset="0.9" stop-color="#fff" stop-opacity="0.02"/><stop offset="1" stop-color="#fff" stop-opacity="0.00"/></radialGradient><radialGradient id="g84" gradientUnits="userSpaceOnUse" cx="246.3" cy="261.6" r="111.5"><stop offset="0" stop-color="#fff" stop-opacity="0.88"/><stop offset="0.2" stop-color="#fff" stop-opacity="0.88"/><stop offset="0.4" stop-color="#fff" stop-opacity="0.62"/><stop offset="0.5" stop-color="#fff" stop-opacity="0.29"/><stop offset="0.7" stop-color="#fff" stop-opacity="0.09"/><stop offset="0.9" stop-color="#fff" stop-opacity="0.02"/><stop offset="1" stop-color="#fff" stop-opacity="0.00"/></radialGradient><radialGradient id="g85" gradientUnits="userSpaceOnUse" cx="246.3" cy="261.6" r="113.4"><stop offset="0" stop-color="#fff" stop-opacity="0.63"/><stop offset="0.2" stop-color="#fff" stop-opacity="0.63"/><stop offset="0.4" stop-color="#fff" stop-opacity="0.44"/><stop offset="0.5" stop-color="#fff" stop-opacity="0.21"/><stop offset="0.7" stop-color="#fff" stop-opacity="0.06"/><stop offset="0.9" stop-color="#fff" stop-opacity="0.01"/><stop offset="1" stop-color="#fff" stop-opacity="0.00"/></radialGradient><radialGradient id="g86" gradientUnits="userSpaceOnUse" cx="246.3" cy="261.6" r="116.3"><stop offset="0" stop-color="#fff" stop-opacity="0.66"/><stop offset="0.2" stop-color="#fff" stop-opacity="0.66"/><stop offset="0.4" stop-color="#fff" stop-opacity="0.46"/><stop offset="0.5" stop-color="#fff" stop-opacity="0.22"/><stop offset="0.7" stop-color="#fff" stop-opacity="0.07"/><stop offset="0.9" stop-color="#fff" stop-opacity="0.01"/><stop offset="1" stop-color="#fff" stop-opacity="0.00"/></radialGradient><radialGradient id="g87" gradientUnits="userSpaceOnUse" cx="246.3" cy="261.6" r="112.7"><stop offset="0" stop-color="#fff" stop-opacity="0.80"/><stop offset="0.2" stop-color="#fff" stop-opacity="0.80"/><stop offset="0.4" stop-color="#fff" stop-opacity="0.56"/><stop offset="0.5" stop-color="#fff" stop-opacity="0.27"/><stop offset="0.7" stop-color="#fff" stop-opacity="0.08"/><stop offset="0.9" stop-color="#fff" stop-opacity="0.02"/><stop offset="1" stop-color="#fff" stop-opacity="0.00"/></radialGradient><radialGradient id="g88" gradientUnits="userSpaceOnUse" cx="246.3" cy="261.6" r="117.6"><stop offset="0" stop-color="#fff" stop-opacity="0.70"/><stop offset="0.2" stop-color="#fff" stop-opacity="0.70"/><stop offset="0.4" stop-color="#fff" stop-opacity="0.49"/><stop offset="0.5" stop-color="#fff" stop-opacity="0.23"/><stop offset="0.7" stop-color="#fff" stop-opacity="0.07"/><stop offset="0.9" stop-color="#fff" stop-opacity="0.01"/><stop offset="1" stop-color="#fff" stop-opacity="0.00"/></radialGradient><radialGradient id="g89" gradientUnits="userSpaceOnUse" cx="246.3" cy="261.6" r="113.5"><stop offset="0" stop-color="#fff" stop-opacity="0.65"/><stop offset="0.2" stop-color="#fff" stop-opacity="0.65"/><stop offset="0.4" stop-color="#fff" stop-opacity="0.45"/><stop offset="0.5" stop-color="#fff" stop-opacity="0.21"/><stop offset="0.7" stop-color="#fff" stop-opacity="0.06"/><stop offset="0.9" stop-color="#fff" stop-opacity="0.01"/><stop offset="1" stop-color="#fff" stop-opacity="0.00"/></radialGradient><radialGradient id="g90" gradientUnits="userSpaceOnUse" cx="246.3" cy="261.6" r="95"><stop offset="0" stop-color="#fff" stop-opacity="0.78"/><stop offset="0.2" stop-color="#fff" stop-opacity="0.78"/><stop offset="0.4" stop-color="#fff" stop-opacity="0.55"/><stop offset="0.5" stop-color="#fff" stop-opacity="0.26"/><stop offset="0.7" stop-color="#fff" stop-opacity="0.08"/><stop offset="0.9" stop-color="#fff" stop-opacity="0.02"/><stop offset="1" stop-color="#fff" stop-opacity="0.00"/></radialGradient><radialGradient id="g91" gradientUnits="userSpaceOnUse" cx="246.3" cy="261.6" r="89.5"><stop offset="0" stop-color="#fff" stop-opacity="0.88"/><stop offset="0.2" stop-color="#fff" stop-opacity="0.88"/><stop offset="0.4" stop-color="#fff" stop-opacity="0.62"/><stop offset="0.5" stop-color="#fff" stop-opacity="0.29"/><stop offset="0.7" stop-color="#fff" stop-opacity="0.09"/><stop offset="0.9" stop-color="#fff" stop-opacity="0.02"/><stop offset="1" stop-color="#fff" stop-opacity="0.00"/></radialGradient><radialGradient id="g92" gradientUnits="userSpaceOnUse" cx="246.3" cy="261.6" r="81.9"><stop offset="0" stop-color="#fff" stop-opacity="0.79"/><stop offset="0.2" stop-color="#fff" stop-opacity="0.79"/><stop offset="0.4" stop-color="#fff" stop-opacity="0.55"/><stop offset="0.5" stop-color="#fff" stop-opacity="0.26"/><stop offset="0.7" stop-color="#fff" stop-opacity="0.08"/><stop offset="0.9" stop-color="#fff" stop-opacity="0.02"/><stop offset="1" stop-color="#fff" stop-opacity="0.00"/></radialGradient><radialGradient id="g93" gradientUnits="userSpaceOnUse" cx="246.3" cy="261.6" r="69.4"><stop offset="0" stop-color="#fff" stop-opacity="0.72"/><stop offset="0.2" stop-color="#fff" stop-opacity="0.72"/><stop offset="0.4" stop-color="#fff" stop-opacity="0.50"/><stop offset="0.5" stop-color="#fff" stop-opacity="0.24"/><stop offset="0.7" stop-color="#fff" stop-opacity="0.07"/><stop offset="0.9" stop-color="#fff" stop-opacity="0.01"/><stop offset="1" stop-color="#fff" stop-opacity="0.00"/></radialGradient><radialGradient id="g94" gradientUnits="userSpaceOnUse" cx="246.3" cy="261.6" r="65.7"><stop offset="0" stop-color="#fff" stop-opacity="0.89"/><stop offset="0.2" stop-color="#fff" stop-opacity="0.89"/><stop offset="0.4" stop-color="#fff" stop-opacity="0.62"/><stop offset="0.5" stop-color="#fff" stop-opacity="0.29"/><stop offset="0.7" stop-color="#fff" stop-opacity="0.09"/><stop offset="0.9" stop-color="#fff" stop-opacity="0.02"/><stop offset="1" stop-color="#fff" stop-opacity="0.00"/></radialGradient><radialGradient id="g95" gradientUnits="userSpaceOnUse" cx="246.3" cy="261.6" r="108.6"><stop offset="0" stop-color="#fff" stop-opacity="0.88"/><stop offset="0.4" stop-color="#fff" stop-opacity="0.88"/><stop offset="0.5" stop-color="#fff" stop-opacity="0.66"/><stop offset="0.7" stop-color="#fff" stop-opacity="0.35"/><stop offset="0.9" stop-color="#fff" stop-opacity="0.13"/><stop offset="1" stop-color="#fff" stop-opacity="0.00"/></radialGradient><radialGradient id="g96" gradientUnits="userSpaceOnUse" cx="246.3" cy="261.6" r="84.6"><stop offset="0" stop-color="#fff" stop-opacity="0.84"/><stop offset="0.4" stop-color="#fff" stop-opacity="0.84"/><stop offset="0.5" stop-color="#fff" stop-opacity="0.63"/><stop offset="0.7" stop-color="#fff" stop-opacity="0.34"/><stop offset="0.9" stop-color="#fff" stop-opacity="0.13"/><stop offset="1" stop-color="#fff" stop-opacity="0.00"/></radialGradient><radialGradient id="g97" gradientUnits="userSpaceOnUse" cx="246.3" cy="261.6" r="86"><stop offset="0" stop-color="#fff" stop-opacity="0.82"/><stop offset="0.4" stop-color="#fff" stop-opacity="0.82"/><stop offset="0.5" stop-color="#fff" stop-opacity="0.61"/><stop offset="0.7" stop-color="#fff" stop-opacity="0.33"/><stop offset="0.9" stop-color="#fff" stop-opacity="0.12"/><stop offset="1" stop-color="#fff" stop-opacity="0.00"/></radialGradient><radialGradient id="g98" gradientUnits="userSpaceOnUse" cx="246.3" cy="261.6" r="101.3"><stop offset="0" stop-color="#fff" stop-opacity="0.96"/><stop offset="0.4" stop-color="#fff" stop-opacity="0.96"/><stop offset="0.5" stop-color="#fff" stop-opacity="0.72"/><stop offset="0.7" stop-color="#fff" stop-opacity="0.38"/><stop offset="0.9" stop-color="#fff" stop-opacity="0.14"/><stop offset="1" stop-color="#fff" stop-opacity="0.00"/></radialGradient><radialGradient id="g99" gradientUnits="userSpaceOnUse" cx="246.3" cy="261.6" r="114"><stop offset="0" stop-color="#fff" stop-opacity="0.93"/><stop offset="0.4" stop-color="#fff" stop-opacity="0.93"/><stop offset="0.5" stop-color="#fff" stop-opacity="0.70"/><stop offset="0.7" stop-color="#fff" stop-opacity="0.37"/><stop offset="0.9" stop-color="#fff" stop-opacity="0.14"/><stop offset="1" stop-color="#fff" stop-opacity="0.00"/></radialGradient><radialGradient id="g100" gradientUnits="userSpaceOnUse" cx="246.3" cy="261.6" r="97.1"><stop offset="0" stop-color="#fff" stop-opacity="0.76"/><stop offset="0.4" stop-color="#fff" stop-opacity="0.76"/><stop offset="0.5" stop-color="#fff" stop-opacity="0.57"/><stop offset="0.7" stop-color="#fff" stop-opacity="0.30"/><stop offset="0.9" stop-color="#fff" stop-opacity="0.11"/><stop offset="1" stop-color="#fff" stop-opacity="0.00"/></radialGradient><radialGradient id="g101" gradientUnits="userSpaceOnUse" cx="246.3" cy="261.6" r="119.4"><stop offset="0" stop-color="#fff" stop-opacity="0.94"/><stop offset="0.4" stop-color="#fff" stop-opacity="0.94"/><stop offset="0.5" stop-color="#fff" stop-opacity="0.70"/><stop offset="0.7" stop-color="#fff" stop-opacity="0.37"/><stop offset="0.9" stop-color="#fff" stop-opacity="0.14"/><stop offset="1" stop-color="#fff" stop-opacity="0.00"/></radialGradient><radialGradient id="g102" gradientUnits="userSpaceOnUse" cx="246.3" cy="261.6" r="96.5"><stop offset="0" stop-color="#fff" stop-opacity="0.83"/><stop offset="0.4" stop-color="#fff" stop-opacity="0.83"/><stop offset="0.5" stop-color="#fff" stop-opacity="0.62"/><stop offset="0.7" stop-color="#fff" stop-opacity="0.33"/><stop offset="0.9" stop-color="#fff" stop-opacity="0.12"/><stop offset="1" stop-color="#fff" stop-opacity="0.00"/></radialGradient><radialGradient id="g103" gradientUnits="userSpaceOnUse" cx="246.3" cy="261.6" r="123.7"><stop offset="0" stop-color="#fff" stop-opacity="0.90"/><stop offset="0.4" stop-color="#fff" stop-opacity="0.90"/><stop offset="0.5" stop-color="#fff" stop-opacity="0.68"/><stop offset="0.7" stop-color="#fff" stop-opacity="0.36"/><stop offset="0.9" stop-color="#fff" stop-opacity="0.14"/><stop offset="1" stop-color="#fff" stop-opacity="0.00"/></radialGradient><radialGradient id="g104" gradientUnits="userSpaceOnUse" cx="246.3" cy="261.6" r="128.4"><stop offset="0" stop-color="#fff" stop-opacity="0.84"/><stop offset="0.4" stop-color="#fff" stop-opacity="0.84"/><stop offset="0.5" stop-color="#fff" stop-opacity="0.63"/><stop offset="0.7" stop-color="#fff" stop-opacity="0.34"/><stop offset="0.9" stop-color="#fff" stop-opacity="0.13"/><stop offset="1" stop-color="#fff" stop-opacity="0.00"/></radialGradient><radialGradient id="g105" gradientUnits="userSpaceOnUse" cx="246.3" cy="261.6" r="130.7"><stop offset="0" stop-color="#fff" stop-opacity="0.74"/><stop offset="0.4" stop-color="#fff" stop-opacity="0.74"/><stop offset="0.5" stop-color="#fff" stop-opacity="0.55"/><stop offset="0.7" stop-color="#fff" stop-opacity="0.29"/><stop offset="0.9" stop-color="#fff" stop-opacity="0.11"/><stop offset="1" stop-color="#fff" stop-opacity="0.00"/></radialGradient><radialGradient id="g106" gradientUnits="userSpaceOnUse" cx="246.3" cy="261.6" r="114.7"><stop offset="0" stop-color="#fff" stop-opacity="0.85"/><stop offset="0.4" stop-color="#fff" stop-opacity="0.85"/><stop offset="0.5" stop-color="#fff" stop-opacity="0.64"/><stop offset="0.7" stop-color="#fff" stop-opacity="0.34"/><stop offset="0.9" stop-color="#fff" stop-opacity="0.13"/><stop offset="1" stop-color="#fff" stop-opacity="0.00"/></radialGradient><radialGradient id="g107" gradientUnits="userSpaceOnUse" cx="246.3" cy="261.6" r="107"><stop offset="0" stop-color="#fff" stop-opacity="0.80"/><stop offset="0.4" stop-color="#fff" stop-opacity="0.80"/><stop offset="0.5" stop-color="#fff" stop-opacity="0.60"/><stop offset="0.7" stop-color="#fff" stop-opacity="0.32"/><stop offset="0.9" stop-color="#fff" stop-opacity="0.12"/><stop offset="1" stop-color="#fff" stop-opacity="0.00"/></radialGradient><radialGradient id="g108" gradientUnits="userSpaceOnUse" cx="246.3" cy="261.6" r="114"><stop offset="0" stop-color="#fff" stop-opacity="0.62"/><stop offset="0.4" stop-color="#fff" stop-opacity="0.62"/><stop offset="0.5" stop-color="#fff" stop-opacity="0.47"/><stop offset="0.7" stop-color="#fff" stop-opacity="0.25"/><stop offset="0.9" stop-color="#fff" stop-opacity="0.09"/><stop offset="1" stop-color="#fff" stop-opacity="0.00"/></radialGradient><radialGradient id="g109" gradientUnits="userSpaceOnUse" cx="246.3" cy="261.6" r="128.8"><stop offset="0" stop-color="#fff" stop-opacity="0.86"/><stop offset="0.4" stop-color="#fff" stop-opacity="0.86"/><stop offset="0.5" stop-color="#fff" stop-opacity="0.65"/><stop offset="0.7" stop-color="#fff" stop-opacity="0.34"/><stop offset="0.9" stop-color="#fff" stop-opacity="0.13"/><stop offset="1" stop-color="#fff" stop-opacity="0.00"/></radialGradient><radialGradient id="g110" gradientUnits="userSpaceOnUse" cx="246.3" cy="261.6" r="137.6"><stop offset="0" stop-color="#fff" stop-opacity="0.82"/><stop offset="0.4" stop-color="#fff" stop-opacity="0.82"/><stop offset="0.5" stop-color="#fff" stop-opacity="0.61"/><stop offset="0.7" stop-color="#fff" stop-opacity="0.33"/><stop offset="0.9" stop-color="#fff" stop-opacity="0.12"/><stop offset="1" stop-color="#fff" stop-opacity="0.00"/></radialGradient><radialGradient id="g111" gradientUnits="userSpaceOnUse" cx="246.3" cy="261.6" r="129.8"><stop offset="0" stop-color="#fff" stop-opacity="0.81"/><stop offset="0.4" stop-color="#fff" stop-opacity="0.81"/><stop offset="0.5" stop-color="#fff" stop-opacity="0.61"/><stop offset="0.7" stop-color="#fff" stop-opacity="0.32"/><stop offset="0.9" stop-color="#fff" stop-opacity="0.12"/><stop offset="1" stop-color="#fff" stop-opacity="0.00"/></radialGradient><radialGradient id="g112" gradientUnits="userSpaceOnUse" cx="246.3" cy="261.6" r="110.7"><stop offset="0" stop-color="#fff" stop-opacity="0.62"/><stop offset="0.4" stop-color="#fff" stop-opacity="0.62"/><stop offset="0.5" stop-color="#fff" stop-opacity="0.46"/><stop offset="0.7" stop-color="#fff" stop-opacity="0.25"/><stop offset="0.9" stop-color="#fff" stop-opacity="0.09"/><stop offset="1" stop-color="#fff" stop-opacity="0.00"/></radialGradient><radialGradient id="g113" gradientUnits="userSpaceOnUse" cx="246.3" cy="261.6" r="125.3"><stop offset="0" stop-color="#fff" stop-opacity="0.67"/><stop offset="0.4" stop-color="#fff" stop-opacity="0.67"/><stop offset="0.5" stop-color="#fff" stop-opacity="0.50"/><stop offset="0.7" stop-color="#fff" stop-opacity="0.27"/><stop offset="0.9" stop-color="#fff" stop-opacity="0.10"/><stop offset="1" stop-color="#fff" stop-opacity="0.00"/></radialGradient><radialGradient id="g114" gradientUnits="userSpaceOnUse" cx="246.3" cy="261.6" r="107.3"><stop offset="0" stop-color="#fff" stop-opacity="0.94"/><stop offset="0.4" stop-color="#fff" stop-opacity="0.94"/><stop offset="0.5" stop-color="#fff" stop-opacity="0.71"/><stop offset="0.7" stop-color="#fff" stop-opacity="0.38"/><stop offset="0.9" stop-color="#fff" stop-opacity="0.14"/><stop offset="1" stop-color="#fff" stop-opacity="0.00"/></radialGradient><radialGradient id="g115" gradientUnits="userSpaceOnUse" cx="246.3" cy="261.6" r="123.4"><stop offset="0" stop-color="#fff" stop-opacity="0.69"/><stop offset="0.4" stop-color="#fff" stop-opacity="0.69"/><stop offset="0.5" stop-color="#fff" stop-opacity="0.52"/><stop offset="0.7" stop-color="#fff" stop-opacity="0.27"/><stop offset="0.9" stop-color="#fff" stop-opacity="0.10"/><stop offset="1" stop-color="#fff" stop-opacity="0.00"/></radialGradient><radialGradient id="g116" gradientUnits="userSpaceOnUse" cx="246.3" cy="261.6" r="115.8"><stop offset="0" stop-color="#fff" stop-opacity="0.96"/><stop offset="0.4" stop-color="#fff" stop-opacity="0.96"/><stop offset="0.5" stop-color="#fff" stop-opacity="0.72"/><stop offset="0.7" stop-color="#fff" stop-opacity="0.39"/><stop offset="0.9" stop-color="#fff" stop-opacity="0.14"/><stop offset="1" stop-color="#fff" stop-opacity="0.00"/></radialGradient><radialGradient id="g117" gradientUnits="userSpaceOnUse" cx="246.3" cy="261.6" r="127"><stop offset="0" stop-color="#fff" stop-opacity="0.97"/><stop offset="0.4" stop-color="#fff" stop-opacity="0.97"/><stop offset="0.5" stop-color="#fff" stop-opacity="0.73"/><stop offset="0.7" stop-color="#fff" stop-opacity="0.39"/><stop offset="0.9" stop-color="#fff" stop-opacity="0.15"/><stop offset="1" stop-color="#fff" stop-opacity="0.00"/></radialGradient><radialGradient id="g118" gradientUnits="userSpaceOnUse" cx="246.3" cy="261.6" r="105.2"><stop offset="0" stop-color="#fff" stop-opacity="0.85"/><stop offset="0.4" stop-color="#fff" stop-opacity="0.85"/><stop offset="0.5" stop-color="#fff" stop-opacity="0.63"/><stop offset="0.7" stop-color="#fff" stop-opacity="0.34"/><stop offset="0.9" stop-color="#fff" stop-opacity="0.13"/><stop offset="1" stop-color="#fff" stop-opacity="0.00"/></radialGradient><radialGradient id="g119" gradientUnits="userSpaceOnUse" cx="246.3" cy="261.6" r="114.3"><stop offset="0" stop-color="#fff" stop-opacity="0.66"/><stop offset="0.4" stop-color="#fff" stop-opacity="0.66"/><stop offset="0.5" stop-color="#fff" stop-opacity="0.50"/><stop offset="0.7" stop-color="#fff" stop-opacity="0.27"/><stop offset="0.9" stop-color="#fff" stop-opacity="0.10"/><stop offset="1" stop-color="#fff" stop-opacity="0.00"/></radialGradient><radialGradient id="g120" gradientUnits="userSpaceOnUse" cx="246.3" cy="261.6" r="122.7"><stop offset="0" stop-color="#fff" stop-opacity="0.68"/><stop offset="0.4" stop-color="#fff" stop-opacity="0.68"/><stop offset="0.5" stop-color="#fff" stop-opacity="0.51"/><stop offset="0.7" stop-color="#fff" stop-opacity="0.27"/><stop offset="0.9" stop-color="#fff" stop-opacity="0.10"/><stop offset="1" stop-color="#fff" stop-opacity="0.00"/></radialGradient><radialGradient id="g121" gradientUnits="userSpaceOnUse" cx="246.3" cy="261.6" r="119.8"><stop offset="0" stop-color="#fff" stop-opacity="0.90"/><stop offset="0.4" stop-color="#fff" stop-opacity="0.90"/><stop offset="0.5" stop-color="#fff" stop-opacity="0.67"/><stop offset="0.7" stop-color="#fff" stop-opacity="0.36"/><stop offset="0.9" stop-color="#fff" stop-opacity="0.13"/><stop offset="1" stop-color="#fff" stop-opacity="0.00"/></radialGradient><radialGradient id="g122" gradientUnits="userSpaceOnUse" cx="246.3" cy="261.6" r="97.3"><stop offset="0" stop-color="#fff" stop-opacity="0.76"/><stop offset="0.4" stop-color="#fff" stop-opacity="0.76"/><stop offset="0.5" stop-color="#fff" stop-opacity="0.57"/><stop offset="0.7" stop-color="#fff" stop-opacity="0.30"/><stop offset="0.9" stop-color="#fff" stop-opacity="0.11"/><stop offset="1" stop-color="#fff" stop-opacity="0.00"/></radialGradient><radialGradient id="g123" gradientUnits="userSpaceOnUse" cx="246.3" cy="261.6" r="122.1"><stop offset="0" stop-color="#fff" stop-opacity="0.74"/><stop offset="0.4" stop-color="#fff" stop-opacity="0.74"/><stop offset="0.5" stop-color="#fff" stop-opacity="0.56"/><stop offset="0.7" stop-color="#fff" stop-opacity="0.30"/><stop offset="0.9" stop-color="#fff" stop-opacity="0.11"/><stop offset="1" stop-color="#fff" stop-opacity="0.00"/></radialGradient><radialGradient id="g124" gradientUnits="userSpaceOnUse" cx="246.3" cy="261.6" r="109.3"><stop offset="0" stop-color="#fff" stop-opacity="0.83"/><stop offset="0.4" stop-color="#fff" stop-opacity="0.83"/><stop offset="0.5" stop-color="#fff" stop-opacity="0.62"/><stop offset="0.7" stop-color="#fff" stop-opacity="0.33"/><stop offset="0.9" stop-color="#fff" stop-opacity="0.12"/><stop offset="1" stop-color="#fff" stop-opacity="0.00"/></radialGradient><radialGradient id="g125" gradientUnits="userSpaceOnUse" cx="246.3" cy="261.6" r="102.5"><stop offset="0" stop-color="#fff" stop-opacity="0.64"/><stop offset="0.4" stop-color="#fff" stop-opacity="0.64"/><stop offset="0.5" stop-color="#fff" stop-opacity="0.48"/><stop offset="0.7" stop-color="#fff" stop-opacity="0.26"/><stop offset="0.9" stop-color="#fff" stop-opacity="0.10"/><stop offset="1" stop-color="#fff" stop-opacity="0.00"/></radialGradient><radialGradient id="g126" gradientUnits="userSpaceOnUse" cx="246.3" cy="261.6" r="126.2"><stop offset="0" stop-color="#fff" stop-opacity="0.81"/><stop offset="0.4" stop-color="#fff" stop-opacity="0.81"/><stop offset="0.5" stop-color="#fff" stop-opacity="0.60"/><stop offset="0.7" stop-color="#fff" stop-opacity="0.32"/><stop offset="0.9" stop-color="#fff" stop-opacity="0.12"/><stop offset="1" stop-color="#fff" stop-opacity="0.00"/></radialGradient><radialGradient id="g127" gradientUnits="userSpaceOnUse" cx="246.3" cy="261.6" r="110.6"><stop offset="0" stop-color="#fff" stop-opacity="0.86"/><stop offset="0.4" stop-color="#fff" stop-opacity="0.86"/><stop offset="0.5" stop-color="#fff" stop-opacity="0.64"/><stop offset="0.7" stop-color="#fff" stop-opacity="0.34"/><stop offset="0.9" stop-color="#fff" stop-opacity="0.13"/><stop offset="1" stop-color="#fff" stop-opacity="0.00"/></radialGradient><radialGradient id="g128" gradientUnits="userSpaceOnUse" cx="246.3" cy="261.6" r="118.9"><stop offset="0" stop-color="#fff" stop-opacity="0.70"/><stop offset="0.4" stop-color="#fff" stop-opacity="0.70"/><stop offset="0.5" stop-color="#fff" stop-opacity="0.53"/><stop offset="0.7" stop-color="#fff" stop-opacity="0.28"/><stop offset="0.9" stop-color="#fff" stop-opacity="0.11"/><stop offset="1" stop-color="#fff" stop-opacity="0.00"/></radialGradient><radialGradient id="g129" gradientUnits="userSpaceOnUse" cx="246.3" cy="261.6" r="113.8"><stop offset="0" stop-color="#fff" stop-opacity="0.71"/><stop offset="0.4" stop-color="#fff" stop-opacity="0.71"/><stop offset="0.5" stop-color="#fff" stop-opacity="0.53"/><stop offset="0.7" stop-color="#fff" stop-opacity="0.28"/><stop offset="0.9" stop-color="#fff" stop-opacity="0.11"/><stop offset="1" stop-color="#fff" stop-opacity="0.00"/></radialGradient><radialGradient id="g130" gradientUnits="userSpaceOnUse" cx="246.3" cy="261.6" r="98.7"><stop offset="0" stop-color="#fff" stop-opacity="0.93"/><stop offset="0.4" stop-color="#fff" stop-opacity="0.93"/><stop offset="0.5" stop-color="#fff" stop-opacity="0.70"/><stop offset="0.7" stop-color="#fff" stop-opacity="0.37"/><stop offset="0.9" stop-color="#fff" stop-opacity="0.14"/><stop offset="1" stop-color="#fff" stop-opacity="0.00"/></radialGradient><radialGradient id="g131" gradientUnits="userSpaceOnUse" cx="246.3" cy="261.6" r="123.3"><stop offset="0" stop-color="#fff" stop-opacity="0.89"/><stop offset="0.4" stop-color="#fff" stop-opacity="0.89"/><stop offset="0.5" stop-color="#fff" stop-opacity="0.67"/><stop offset="0.7" stop-color="#fff" stop-opacity="0.36"/><stop offset="0.9" stop-color="#fff" stop-opacity="0.13"/><stop offset="1" stop-color="#fff" stop-opacity="0.00"/></radialGradient><radialGradient id="g132" gradientUnits="userSpaceOnUse" cx="246.3" cy="261.6" r="112.1"><stop offset="0" stop-color="#fff" stop-opacity="0.60"/><stop offset="0.4" stop-color="#fff" stop-opacity="0.60"/><stop offset="0.5" stop-color="#fff" stop-opacity="0.45"/><stop offset="0.7" stop-color="#fff" stop-opacity="0.24"/><stop offset="0.9" stop-color="#fff" stop-opacity="0.09"/><stop offset="1" stop-color="#fff" stop-opacity="0.00"/></radialGradient><radialGradient id="g133" gradientUnits="userSpaceOnUse" cx="246.3" cy="261.6" r="118.9"><stop offset="0" stop-color="#fff" stop-opacity="1.00"/><stop offset="0.4" stop-color="#fff" stop-opacity="1.00"/><stop offset="0.5" stop-color="#fff" stop-opacity="0.75"/><stop offset="0.7" stop-color="#fff" stop-opacity="0.40"/><stop offset="0.9" stop-color="#fff" stop-opacity="0.15"/><stop offset="1" stop-color="#fff" stop-opacity="0.00"/></radialGradient><radialGradient id="g134" gradientUnits="userSpaceOnUse" cx="246.3" cy="261.6" r="124.8"><stop offset="0" stop-color="#fff" stop-opacity="0.92"/><stop offset="0.4" stop-color="#fff" stop-opacity="0.92"/><stop offset="0.5" stop-color="#fff" stop-opacity="0.69"/><stop offset="0.7" stop-color="#fff" stop-opacity="0.37"/><stop offset="0.9" stop-color="#fff" stop-opacity="0.14"/><stop offset="1" stop-color="#fff" stop-opacity="0.00"/></radialGradient><radialGradient id="g135" gradientUnits="userSpaceOnUse" cx="246.3" cy="261.6" r="112.5"><stop offset="0" stop-color="#fff" stop-opacity="0.93"/><stop offset="0.4" stop-color="#fff" stop-opacity="0.93"/><stop offset="0.5" stop-color="#fff" stop-opacity="0.70"/><stop offset="0.7" stop-color="#fff" stop-opacity="0.37"/><stop offset="0.9" stop-color="#fff" stop-opacity="0.14"/><stop offset="1" stop-color="#fff" stop-opacity="0.00"/></radialGradient><radialGradient id="g136" gradientUnits="userSpaceOnUse" cx="246.3" cy="261.6" r="113.6"><stop offset="0" stop-color="#fff" stop-opacity="0.85"/><stop offset="0.4" stop-color="#fff" stop-opacity="0.85"/><stop offset="0.5" stop-color="#fff" stop-opacity="0.64"/><stop offset="0.7" stop-color="#fff" stop-opacity="0.34"/><stop offset="0.9" stop-color="#fff" stop-opacity="0.13"/><stop offset="1" stop-color="#fff" stop-opacity="0.00"/></radialGradient><radialGradient id="g137" gradientUnits="userSpaceOnUse" cx="246.3" cy="261.6" r="129.5"><stop offset="0" stop-color="#fff" stop-opacity="0.90"/><stop offset="0.4" stop-color="#fff" stop-opacity="0.90"/><stop offset="0.5" stop-color="#fff" stop-opacity="0.68"/><stop offset="0.7" stop-color="#fff" stop-opacity="0.36"/><stop offset="0.9" stop-color="#fff" stop-opacity="0.14"/><stop offset="1" stop-color="#fff" stop-opacity="0.00"/></radialGradient><radialGradient id="g138" gradientUnits="userSpaceOnUse" cx="246.3" cy="261.6" r="125.5"><stop offset="0" stop-color="#fff" stop-opacity="0.92"/><stop offset="0.4" stop-color="#fff" stop-opacity="0.92"/><stop offset="0.5" stop-color="#fff" stop-opacity="0.69"/><stop offset="0.7" stop-color="#fff" stop-opacity="0.37"/><stop offset="0.9" stop-color="#fff" stop-opacity="0.14"/><stop offset="1" stop-color="#fff" stop-opacity="0.00"/></radialGradient><radialGradient id="g139" gradientUnits="userSpaceOnUse" cx="246.3" cy="261.6" r="126.3"><stop offset="0" stop-color="#fff" stop-opacity="0.96"/><stop offset="0.4" stop-color="#fff" stop-opacity="0.96"/><stop offset="0.5" stop-color="#fff" stop-opacity="0.72"/><stop offset="0.7" stop-color="#fff" stop-opacity="0.38"/><stop offset="0.9" stop-color="#fff" stop-opacity="0.14"/><stop offset="1" stop-color="#fff" stop-opacity="0.00"/></radialGradient><radialGradient id="g140" gradientUnits="userSpaceOnUse" cx="246.3" cy="261.6" r="118.2"><stop offset="0" stop-color="#fff" stop-opacity="0.66"/><stop offset="0.4" stop-color="#fff" stop-opacity="0.66"/><stop offset="0.5" stop-color="#fff" stop-opacity="0.49"/><stop offset="0.7" stop-color="#fff" stop-opacity="0.26"/><stop offset="0.9" stop-color="#fff" stop-opacity="0.10"/><stop offset="1" stop-color="#fff" stop-opacity="0.00"/></radialGradient><radialGradient id="g141" gradientUnits="userSpaceOnUse" cx="246.3" cy="261.6" r="118.6"><stop offset="0" stop-color="#fff" stop-opacity="0.72"/><stop offset="0.4" stop-color="#fff" stop-opacity="0.72"/><stop offset="0.5" stop-color="#fff" stop-opacity="0.54"/><stop offset="0.7" stop-color="#fff" stop-opacity="0.29"/><stop offset="0.9" stop-color="#fff" stop-opacity="0.11"/><stop offset="1" stop-color="#fff" stop-opacity="0.00"/></radialGradient><radialGradient id="g142" gradientUnits="userSpaceOnUse" cx="246.3" cy="261.6" r="110.7"><stop offset="0" stop-color="#fff" stop-opacity="0.89"/><stop offset="0.4" stop-color="#fff" stop-opacity="0.89"/><stop offset="0.5" stop-color="#fff" stop-opacity="0.66"/><stop offset="0.7" stop-color="#fff" stop-opacity="0.35"/><stop offset="0.9" stop-color="#fff" stop-opacity="0.13"/><stop offset="1" stop-color="#fff" stop-opacity="0.00"/></radialGradient><radialGradient id="g143" gradientUnits="userSpaceOnUse" cx="246.3" cy="261.6" r="102.5"><stop offset="0" stop-color="#fff" stop-opacity="0.86"/><stop offset="0.4" stop-color="#fff" stop-opacity="0.86"/><stop offset="0.5" stop-color="#fff" stop-opacity="0.64"/><stop offset="0.7" stop-color="#fff" stop-opacity="0.34"/><stop offset="0.9" stop-color="#fff" stop-opacity="0.13"/><stop offset="1" stop-color="#fff" stop-opacity="0.00"/></radialGradient><radialGradient id="g144" gradientUnits="userSpaceOnUse" cx="246.3" cy="261.6" r="93.3"><stop offset="0" stop-color="#fff" stop-opacity="0.62"/><stop offset="0.4" stop-color="#fff" stop-opacity="0.62"/><stop offset="0.5" stop-color="#fff" stop-opacity="0.47"/><stop offset="0.7" stop-color="#fff" stop-opacity="0.25"/><stop offset="0.9" stop-color="#fff" stop-opacity="0.09"/><stop offset="1" stop-color="#fff" stop-opacity="0.00"/></radialGradient><radialGradient id="g145" gradientUnits="userSpaceOnUse" cx="246.3" cy="261.6" r="89.3"><stop offset="0" stop-color="#fff" stop-opacity="0.95"/><stop offset="0.4" stop-color="#fff" stop-opacity="0.95"/><stop offset="0.5" stop-color="#fff" stop-opacity="0.71"/><stop offset="0.7" stop-color="#fff" stop-opacity="0.38"/><stop offset="0.9" stop-color="#fff" stop-opacity="0.14"/><stop offset="1" stop-color="#fff" stop-opacity="0.00"/></radialGradient><radialGradient id="g146" gradientUnits="userSpaceOnUse" cx="246.3" cy="261.6" r="103.9"><stop offset="0" stop-color="#fff" stop-opacity="0.84"/><stop offset="0.4" stop-color="#fff" stop-opacity="0.84"/><stop offset="0.5" stop-color="#fff" stop-opacity="0.63"/><stop offset="0.7" stop-color="#fff" stop-opacity="0.34"/><stop offset="0.9" stop-color="#fff" stop-opacity="0.13"/><stop offset="1" stop-color="#fff" stop-opacity="0.00"/></radialGradient><radialGradient id="g147" gradientUnits="userSpaceOnUse" cx="246.3" cy="261.6" r="112.1"><stop offset="0" stop-color="#fff" stop-opacity="0.85"/><stop offset="0.4" stop-color="#fff" stop-opacity="0.85"/><stop offset="0.5" stop-color="#fff" stop-opacity="0.64"/><stop offset="0.7" stop-color="#fff" stop-opacity="0.34"/><stop offset="0.9" stop-color="#fff" stop-opacity="0.13"/><stop offset="1" stop-color="#fff" stop-opacity="0.00"/></radialGradient><radialGradient id="g148" gradientUnits="userSpaceOnUse" cx="246.3" cy="261.6" r="107.5"><stop offset="0" stop-color="#fff" stop-opacity="0.90"/><stop offset="0.4" stop-color="#fff" stop-opacity="0.90"/><stop offset="0.5" stop-color="#fff" stop-opacity="0.68"/><stop offset="0.7" stop-color="#fff" stop-opacity="0.36"/><stop offset="0.9" stop-color="#fff" stop-opacity="0.14"/><stop offset="1" stop-color="#fff" stop-opacity="0.00"/></radialGradient><radialGradient id="g149" gradientUnits="userSpaceOnUse" cx="246.3" cy="261.6" r="109.7"><stop offset="0" stop-color="#fff" stop-opacity="0.69"/><stop offset="0.4" stop-color="#fff" stop-opacity="0.69"/><stop offset="0.5" stop-color="#fff" stop-opacity="0.52"/><stop offset="0.7" stop-color="#fff" stop-opacity="0.28"/><stop offset="0.9" stop-color="#fff" stop-opacity="0.10"/><stop offset="1" stop-color="#fff" stop-opacity="0.00"/></radialGradient><radialGradient id="g150" gradientUnits="userSpaceOnUse" cx="246.3" cy="261.6" r="110.2"><stop offset="0" stop-color="#fff" stop-opacity="0.78"/><stop offset="0.4" stop-color="#fff" stop-opacity="0.78"/><stop offset="0.5" stop-color="#fff" stop-opacity="0.59"/><stop offset="0.7" stop-color="#fff" stop-opacity="0.31"/><stop offset="0.9" stop-color="#fff" stop-opacity="0.12"/><stop offset="1" stop-color="#fff" stop-opacity="0.00"/></radialGradient><radialGradient id="g151" gradientUnits="userSpaceOnUse" cx="246.3" cy="261.6" r="98.5"><stop offset="0" stop-color="#fff" stop-opacity="0.63"/><stop offset="0.4" stop-color="#fff" stop-opacity="0.63"/><stop offset="0.5" stop-color="#fff" stop-opacity="0.48"/><stop offset="0.7" stop-color="#fff" stop-opacity="0.25"/><stop offset="0.9" stop-color="#fff" stop-opacity="0.10"/><stop offset="1" stop-color="#fff" stop-opacity="0.00"/></radialGradient><radialGradient id="g152" gradientUnits="userSpaceOnUse" cx="246.3" cy="261.6" r="88.4"><stop offset="0" stop-color="#fff" stop-opacity="0.73"/><stop offset="0.4" stop-color="#fff" stop-opacity="0.73"/><stop offset="0.5" stop-color="#fff" stop-opacity="0.55"/><stop offset="0.7" stop-color="#fff" stop-opacity="0.29"/><stop offset="0.9" stop-color="#fff" stop-opacity="0.11"/><stop offset="1" stop-color="#fff" stop-opacity="0.00"/></radialGradient><radialGradient id="g153" gradientUnits="userSpaceOnUse" cx="246.3" cy="261.6" r="91.3"><stop offset="0" stop-color="#fff" stop-opacity="0.00"/><stop offset="0.4" stop-color="#fff" stop-opacity="0.08"/><stop offset="0.6" stop-color="#fff" stop-opacity="0.22"/><stop offset="0.8" stop-color="#fff" stop-opacity="0.22"/><stop offset="0.9" stop-color="#fff" stop-opacity="0.10"/><stop offset="1" stop-color="#fff" stop-opacity="0.00"/></radialGradient><radialGradient id="g154" gradientUnits="userSpaceOnUse" cx="246.3" cy="261.6" r="90.9"><stop offset="0" stop-color="#fff" stop-opacity="0.00"/><stop offset="0.4" stop-color="#fff" stop-opacity="0.08"/><stop offset="0.6" stop-color="#fff" stop-opacity="0.22"/><stop offset="0.8" stop-color="#fff" stop-opacity="0.22"/><stop offset="0.9" stop-color="#fff" stop-opacity="0.10"/><stop offset="1" stop-color="#fff" stop-opacity="0.00"/></radialGradient><radialGradient id="g155" gradientUnits="userSpaceOnUse" cx="246.3" cy="261.6" r="96.7"><stop offset="0" stop-color="#fff" stop-opacity="0.00"/><stop offset="0.4" stop-color="#fff" stop-opacity="0.08"/><stop offset="0.6" stop-color="#fff" stop-opacity="0.22"/><stop offset="0.8" stop-color="#fff" stop-opacity="0.22"/><stop offset="0.9" stop-color="#fff" stop-opacity="0.10"/><stop offset="1" stop-color="#fff" stop-opacity="0.00"/></radialGradient><radialGradient id="g156" gradientUnits="userSpaceOnUse" cx="246.3" cy="261.6" r="98.9"><stop offset="0" stop-color="#fff" stop-opacity="0.00"/><stop offset="0.4" stop-color="#fff" stop-opacity="0.08"/><stop offset="0.6" stop-color="#fff" stop-opacity="0.22"/><stop offset="0.8" stop-color="#fff" stop-opacity="0.22"/><stop offset="0.9" stop-color="#fff" stop-opacity="0.10"/><stop offset="1" stop-color="#fff" stop-opacity="0.00"/></radialGradient><radialGradient id="g157" gradientUnits="userSpaceOnUse" cx="246.3" cy="261.6" r="112.2"><stop offset="0" stop-color="#fff" stop-opacity="0.00"/><stop offset="0.4" stop-color="#fff" stop-opacity="0.08"/><stop offset="0.6" stop-color="#fff" stop-opacity="0.22"/><stop offset="0.8" stop-color="#fff" stop-opacity="0.22"/><stop offset="0.9" stop-color="#fff" stop-opacity="0.10"/><stop offset="1" stop-color="#fff" stop-opacity="0.00"/></radialGradient><radialGradient id="g158" gradientUnits="userSpaceOnUse" cx="246.3" cy="261.6" r="120.5"><stop offset="0" stop-color="#fff" stop-opacity="0.00"/><stop offset="0.4" stop-color="#fff" stop-opacity="0.08"/><stop offset="0.6" stop-color="#fff" stop-opacity="0.22"/><stop offset="0.8" stop-color="#fff" stop-opacity="0.22"/><stop offset="0.9" stop-color="#fff" stop-opacity="0.10"/><stop offset="1" stop-color="#fff" stop-opacity="0.00"/></radialGradient><radialGradient id="g159" gradientUnits="userSpaceOnUse" cx="246.3" cy="261.6" r="109.3"><stop offset="0" stop-color="#fff" stop-opacity="0.00"/><stop offset="0.4" stop-color="#fff" stop-opacity="0.08"/><stop offset="0.6" stop-color="#fff" stop-opacity="0.22"/><stop offset="0.8" stop-color="#fff" stop-opacity="0.22"/><stop offset="0.9" stop-color="#fff" stop-opacity="0.10"/><stop offset="1" stop-color="#fff" stop-opacity="0.00"/></radialGradient><radialGradient id="g160" gradientUnits="userSpaceOnUse" cx="246.3" cy="261.6" r="109.7"><stop offset="0" stop-color="#fff" stop-opacity="0.00"/><stop offset="0.4" stop-color="#fff" stop-opacity="0.08"/><stop offset="0.6" stop-color="#fff" stop-opacity="0.22"/><stop offset="0.8" stop-color="#fff" stop-opacity="0.22"/><stop offset="0.9" stop-color="#fff" stop-opacity="0.10"/><stop offset="1" stop-color="#fff" stop-opacity="0.00"/></radialGradient><radialGradient id="g161" gradientUnits="userSpaceOnUse" cx="246.3" cy="261.6" r="123"><stop offset="0" stop-color="#fff" stop-opacity="0.00"/><stop offset="0.4" stop-color="#fff" stop-opacity="0.08"/><stop offset="0.6" stop-color="#fff" stop-opacity="0.22"/><stop offset="0.8" stop-color="#fff" stop-opacity="0.22"/><stop offset="0.9" stop-color="#fff" stop-opacity="0.10"/><stop offset="1" stop-color="#fff" stop-opacity="0.00"/></radialGradient><radialGradient id="g162" gradientUnits="userSpaceOnUse" cx="246.3" cy="261.6" r="113.4"><stop offset="0" stop-color="#fff" stop-opacity="0.00"/><stop offset="0.4" stop-color="#fff" stop-opacity="0.08"/><stop offset="0.6" stop-color="#fff" stop-opacity="0.22"/><stop offset="0.8" stop-color="#fff" stop-opacity="0.22"/><stop offset="0.9" stop-color="#fff" stop-opacity="0.10"/><stop offset="1" stop-color="#fff" stop-opacity="0.00"/></radialGradient><radialGradient id="g163" gradientUnits="userSpaceOnUse" cx="246.3" cy="261.6" r="120"><stop offset="0" stop-color="#fff" stop-opacity="0.00"/><stop offset="0.4" stop-color="#fff" stop-opacity="0.08"/><stop offset="0.6" stop-color="#fff" stop-opacity="0.22"/><stop offset="0.8" stop-color="#fff" stop-opacity="0.22"/><stop offset="0.9" stop-color="#fff" stop-opacity="0.10"/><stop offset="1" stop-color="#fff" stop-opacity="0.00"/></radialGradient><radialGradient id="g164" gradientUnits="userSpaceOnUse" cx="246.3" cy="261.6" r="128.2"><stop offset="0" stop-color="#fff" stop-opacity="0.00"/><stop offset="0.4" stop-color="#fff" stop-opacity="0.08"/><stop offset="0.6" stop-color="#fff" stop-opacity="0.22"/><stop offset="0.8" stop-color="#fff" stop-opacity="0.22"/><stop offset="0.9" stop-color="#fff" stop-opacity="0.10"/><stop offset="1" stop-color="#fff" stop-opacity="0.00"/></radialGradient><radialGradient id="g165" gradientUnits="userSpaceOnUse" cx="246.3" cy="261.6" r="114.1"><stop offset="0" stop-color="#fff" stop-opacity="0.00"/><stop offset="0.4" stop-color="#fff" stop-opacity="0.08"/><stop offset="0.6" stop-color="#fff" stop-opacity="0.22"/><stop offset="0.8" stop-color="#fff" stop-opacity="0.22"/><stop offset="0.9" stop-color="#fff" stop-opacity="0.10"/><stop offset="1" stop-color="#fff" stop-opacity="0.00"/></radialGradient><radialGradient id="g166" gradientUnits="userSpaceOnUse" cx="246.3" cy="261.6" r="125.6"><stop offset="0" stop-color="#fff" stop-opacity="0.00"/><stop offset="0.4" stop-color="#fff" stop-opacity="0.08"/><stop offset="0.6" stop-color="#fff" stop-opacity="0.22"/><stop offset="0.8" stop-color="#fff" stop-opacity="0.22"/><stop offset="0.9" stop-color="#fff" stop-opacity="0.10"/><stop offset="1" stop-color="#fff" stop-opacity="0.00"/></radialGradient><radialGradient id="g167" gradientUnits="userSpaceOnUse" cx="246.3" cy="261.6" r="120.6"><stop offset="0" stop-color="#fff" stop-opacity="0.00"/><stop offset="0.4" stop-color="#fff" stop-opacity="0.08"/><stop offset="0.6" stop-color="#fff" stop-opacity="0.22"/><stop offset="0.8" stop-color="#fff" stop-opacity="0.22"/><stop offset="0.9" stop-color="#fff" stop-opacity="0.10"/><stop offset="1" stop-color="#fff" stop-opacity="0.00"/></radialGradient><radialGradient id="g168" gradientUnits="userSpaceOnUse" cx="246.3" cy="261.6" r="107.7"><stop offset="0" stop-color="#fff" stop-opacity="0.00"/><stop offset="0.4" stop-color="#fff" stop-opacity="0.08"/><stop offset="0.6" stop-color="#fff" stop-opacity="0.22"/><stop offset="0.8" stop-color="#fff" stop-opacity="0.22"/><stop offset="0.9" stop-color="#fff" stop-opacity="0.10"/><stop offset="1" stop-color="#fff" stop-opacity="0.00"/></radialGradient><radialGradient id="g169" gradientUnits="userSpaceOnUse" cx="246.3" cy="261.6" r="109.2"><stop offset="0" stop-color="#fff" stop-opacity="0.00"/><stop offset="0.4" stop-color="#fff" stop-opacity="0.08"/><stop offset="0.6" stop-color="#fff" stop-opacity="0.22"/><stop offset="0.8" stop-color="#fff" stop-opacity="0.22"/><stop offset="0.9" stop-color="#fff" stop-opacity="0.10"/><stop offset="1" stop-color="#fff" stop-opacity="0.00"/></radialGradient><radialGradient id="g170" gradientUnits="userSpaceOnUse" cx="246.3" cy="261.6" r="115.2"><stop offset="0" stop-color="#fff" stop-opacity="0.00"/><stop offset="0.4" stop-color="#fff" stop-opacity="0.08"/><stop offset="0.6" stop-color="#fff" stop-opacity="0.22"/><stop offset="0.8" stop-color="#fff" stop-opacity="0.22"/><stop offset="0.9" stop-color="#fff" stop-opacity="0.10"/><stop offset="1" stop-color="#fff" stop-opacity="0.00"/></radialGradient><radialGradient id="g171" gradientUnits="userSpaceOnUse" cx="246.3" cy="261.6" r="101.8"><stop offset="0" stop-color="#fff" stop-opacity="0.00"/><stop offset="0.4" stop-color="#fff" stop-opacity="0.08"/><stop offset="0.6" stop-color="#fff" stop-opacity="0.22"/><stop offset="0.8" stop-color="#fff" stop-opacity="0.22"/><stop offset="0.9" stop-color="#fff" stop-opacity="0.10"/><stop offset="1" stop-color="#fff" stop-opacity="0.00"/></radialGradient><radialGradient id="g172" gradientUnits="userSpaceOnUse" cx="246.3" cy="261.6" r="102.9"><stop offset="0" stop-color="#fff" stop-opacity="0.00"/><stop offset="0.4" stop-color="#fff" stop-opacity="0.08"/><stop offset="0.6" stop-color="#fff" stop-opacity="0.22"/><stop offset="0.8" stop-color="#fff" stop-opacity="0.22"/><stop offset="0.9" stop-color="#fff" stop-opacity="0.10"/><stop offset="1" stop-color="#fff" stop-opacity="0.00"/></radialGradient><radialGradient id="g173" gradientUnits="userSpaceOnUse" cx="246.3" cy="261.6" r="111.6"><stop offset="0" stop-color="#fff" stop-opacity="0.00"/><stop offset="0.4" stop-color="#fff" stop-opacity="0.08"/><stop offset="0.6" stop-color="#fff" stop-opacity="0.22"/><stop offset="0.8" stop-color="#fff" stop-opacity="0.22"/><stop offset="0.9" stop-color="#fff" stop-opacity="0.10"/><stop offset="1" stop-color="#fff" stop-opacity="0.00"/></radialGradient><radialGradient id="g174" gradientUnits="userSpaceOnUse" cx="246.3" cy="261.6" r="117.5"><stop offset="0" stop-color="#fff" stop-opacity="0.00"/><stop offset="0.4" stop-color="#fff" stop-opacity="0.08"/><stop offset="0.6" stop-color="#fff" stop-opacity="0.22"/><stop offset="0.8" stop-color="#fff" stop-opacity="0.22"/><stop offset="0.9" stop-color="#fff" stop-opacity="0.10"/><stop offset="1" stop-color="#fff" stop-opacity="0.00"/></radialGradient><radialGradient id="g175" gradientUnits="userSpaceOnUse" cx="246.3" cy="261.6" r="111.5"><stop offset="0" stop-color="#fff" stop-opacity="0.00"/><stop offset="0.4" stop-color="#fff" stop-opacity="0.08"/><stop offset="0.6" stop-color="#fff" stop-opacity="0.22"/><stop offset="0.8" stop-color="#fff" stop-opacity="0.22"/><stop offset="0.9" stop-color="#fff" stop-opacity="0.10"/><stop offset="1" stop-color="#fff" stop-opacity="0.00"/></radialGradient><radialGradient id="g176" gradientUnits="userSpaceOnUse" cx="246.3" cy="261.6" r="115.3"><stop offset="0" stop-color="#fff" stop-opacity="0.00"/><stop offset="0.4" stop-color="#fff" stop-opacity="0.08"/><stop offset="0.6" stop-color="#fff" stop-opacity="0.22"/><stop offset="0.8" stop-color="#fff" stop-opacity="0.22"/><stop offset="0.9" stop-color="#fff" stop-opacity="0.10"/><stop offset="1" stop-color="#fff" stop-opacity="0.00"/></radialGradient><radialGradient id="g177" gradientUnits="userSpaceOnUse" cx="246.3" cy="261.6" r="101.2"><stop offset="0" stop-color="#fff" stop-opacity="0.00"/><stop offset="0.4" stop-color="#fff" stop-opacity="0.08"/><stop offset="0.6" stop-color="#fff" stop-opacity="0.22"/><stop offset="0.8" stop-color="#fff" stop-opacity="0.22"/><stop offset="0.9" stop-color="#fff" stop-opacity="0.10"/><stop offset="1" stop-color="#fff" stop-opacity="0.00"/></radialGradient><radialGradient id="g178" gradientUnits="userSpaceOnUse" cx="246.3" cy="261.6" r="108.3"><stop offset="0" stop-color="#fff" stop-opacity="0.00"/><stop offset="0.4" stop-color="#fff" stop-opacity="0.08"/><stop offset="0.6" stop-color="#fff" stop-opacity="0.22"/><stop offset="0.8" stop-color="#fff" stop-opacity="0.22"/><stop offset="0.9" stop-color="#fff" stop-opacity="0.10"/><stop offset="1" stop-color="#fff" stop-opacity="0.00"/></radialGradient><radialGradient id="g179" gradientUnits="userSpaceOnUse" cx="246.3" cy="261.6" r="109.2"><stop offset="0" stop-color="#fff" stop-opacity="0.00"/><stop offset="0.4" stop-color="#fff" stop-opacity="0.08"/><stop offset="0.6" stop-color="#fff" stop-opacity="0.22"/><stop offset="0.8" stop-color="#fff" stop-opacity="0.22"/><stop offset="0.9" stop-color="#fff" stop-opacity="0.10"/><stop offset="1" stop-color="#fff" stop-opacity="0.00"/></radialGradient><radialGradient id="g180" gradientUnits="userSpaceOnUse" cx="246.3" cy="261.6" r="123.3"><stop offset="0" stop-color="#fff" stop-opacity="0.00"/><stop offset="0.4" stop-color="#fff" stop-opacity="0.08"/><stop offset="0.6" stop-color="#fff" stop-opacity="0.22"/><stop offset="0.8" stop-color="#fff" stop-opacity="0.22"/><stop offset="0.9" stop-color="#fff" stop-opacity="0.10"/><stop offset="1" stop-color="#fff" stop-opacity="0.00"/></radialGradient><radialGradient id="g181" gradientUnits="userSpaceOnUse" cx="246.3" cy="261.6" r="111.2"><stop offset="0" stop-color="#fff" stop-opacity="0.00"/><stop offset="0.4" stop-color="#fff" stop-opacity="0.08"/><stop offset="0.6" stop-color="#fff" stop-opacity="0.22"/><stop offset="0.8" stop-color="#fff" stop-opacity="0.22"/><stop offset="0.9" stop-color="#fff" stop-opacity="0.10"/><stop offset="1" stop-color="#fff" stop-opacity="0.00"/></radialGradient><radialGradient id="g182" gradientUnits="userSpaceOnUse" cx="246.3" cy="261.6" r="121.5"><stop offset="0" stop-color="#fff" stop-opacity="0.00"/><stop offset="0.4" stop-color="#fff" stop-opacity="0.08"/><stop offset="0.6" stop-color="#fff" stop-opacity="0.22"/><stop offset="0.8" stop-color="#fff" stop-opacity="0.22"/><stop offset="0.9" stop-color="#fff" stop-opacity="0.10"/><stop offset="1" stop-color="#fff" stop-opacity="0.00"/></radialGradient><radialGradient id="g183" gradientUnits="userSpaceOnUse" cx="246.3" cy="261.6" r="104.8"><stop offset="0" stop-color="#fff" stop-opacity="0.00"/><stop offset="0.4" stop-color="#fff" stop-opacity="0.08"/><stop offset="0.6" stop-color="#fff" stop-opacity="0.22"/><stop offset="0.8" stop-color="#fff" stop-opacity="0.22"/><stop offset="0.9" stop-color="#fff" stop-opacity="0.10"/><stop offset="1" stop-color="#fff" stop-opacity="0.00"/></radialGradient><radialGradient id="g184" gradientUnits="userSpaceOnUse" cx="246.3" cy="261.6" r="116.1"><stop offset="0" stop-color="#fff" stop-opacity="0.00"/><stop offset="0.4" stop-color="#fff" stop-opacity="0.08"/><stop offset="0.6" stop-color="#fff" stop-opacity="0.22"/><stop offset="0.8" stop-color="#fff" stop-opacity="0.22"/><stop offset="0.9" stop-color="#fff" stop-opacity="0.10"/><stop offset="1" stop-color="#fff" stop-opacity="0.00"/></radialGradient><radialGradient id="g185" gradientUnits="userSpaceOnUse" cx="246.3" cy="261.6" r="125.8"><stop offset="0" stop-color="#fff" stop-opacity="0.00"/><stop offset="0.4" stop-color="#fff" stop-opacity="0.08"/><stop offset="0.6" stop-color="#fff" stop-opacity="0.22"/><stop offset="0.8" stop-color="#fff" stop-opacity="0.22"/><stop offset="0.9" stop-color="#fff" stop-opacity="0.10"/><stop offset="1" stop-color="#fff" stop-opacity="0.00"/></radialGradient><radialGradient id="g186" gradientUnits="userSpaceOnUse" cx="246.3" cy="261.6" r="123.6"><stop offset="0" stop-color="#fff" stop-opacity="0.00"/><stop offset="0.4" stop-color="#fff" stop-opacity="0.08"/><stop offset="0.6" stop-color="#fff" stop-opacity="0.22"/><stop offset="0.8" stop-color="#fff" stop-opacity="0.22"/><stop offset="0.9" stop-color="#fff" stop-opacity="0.10"/><stop offset="1" stop-color="#fff" stop-opacity="0.00"/></radialGradient><radialGradient id="g187" gradientUnits="userSpaceOnUse" cx="246.3" cy="261.6" r="119"><stop offset="0" stop-color="#fff" stop-opacity="0.00"/><stop offset="0.4" stop-color="#fff" stop-opacity="0.08"/><stop offset="0.6" stop-color="#fff" stop-opacity="0.22"/><stop offset="0.8" stop-color="#fff" stop-opacity="0.22"/><stop offset="0.9" stop-color="#fff" stop-opacity="0.10"/><stop offset="1" stop-color="#fff" stop-opacity="0.00"/></radialGradient><radialGradient id="g188" gradientUnits="userSpaceOnUse" cx="246.3" cy="261.6" r="108.4"><stop offset="0" stop-color="#fff" stop-opacity="0.00"/><stop offset="0.4" stop-color="#fff" stop-opacity="0.08"/><stop offset="0.6" stop-color="#fff" stop-opacity="0.22"/><stop offset="0.8" stop-color="#fff" stop-opacity="0.22"/><stop offset="0.9" stop-color="#fff" stop-opacity="0.10"/><stop offset="1" stop-color="#fff" stop-opacity="0.00"/></radialGradient><radialGradient id="g189" gradientUnits="userSpaceOnUse" cx="246.3" cy="261.6" r="124.2"><stop offset="0" stop-color="#fff" stop-opacity="0.00"/><stop offset="0.4" stop-color="#fff" stop-opacity="0.08"/><stop offset="0.6" stop-color="#fff" stop-opacity="0.22"/><stop offset="0.8" stop-color="#fff" stop-opacity="0.22"/><stop offset="0.9" stop-color="#fff" stop-opacity="0.10"/><stop offset="1" stop-color="#fff" stop-opacity="0.00"/></radialGradient><radialGradient id="g190" gradientUnits="userSpaceOnUse" cx="246.3" cy="261.6" r="103.6"><stop offset="0" stop-color="#fff" stop-opacity="0.00"/><stop offset="0.4" stop-color="#fff" stop-opacity="0.08"/><stop offset="0.6" stop-color="#fff" stop-opacity="0.22"/><stop offset="0.8" stop-color="#fff" stop-opacity="0.22"/><stop offset="0.9" stop-color="#fff" stop-opacity="0.10"/><stop offset="1" stop-color="#fff" stop-opacity="0.00"/></radialGradient><radialGradient id="g191" gradientUnits="userSpaceOnUse" cx="246.3" cy="261.6" r="121.6"><stop offset="0" stop-color="#fff" stop-opacity="0.00"/><stop offset="0.4" stop-color="#fff" stop-opacity="0.08"/><stop offset="0.6" stop-color="#fff" stop-opacity="0.22"/><stop offset="0.8" stop-color="#fff" stop-opacity="0.22"/><stop offset="0.9" stop-color="#fff" stop-opacity="0.10"/><stop offset="1" stop-color="#fff" stop-opacity="0.00"/></radialGradient><radialGradient id="g192" gradientUnits="userSpaceOnUse" cx="246.3" cy="261.6" r="112.8"><stop offset="0" stop-color="#fff" stop-opacity="0.00"/><stop offset="0.4" stop-color="#fff" stop-opacity="0.08"/><stop offset="0.6" stop-color="#fff" stop-opacity="0.22"/><stop offset="0.8" stop-color="#fff" stop-opacity="0.22"/><stop offset="0.9" stop-color="#fff" stop-opacity="0.10"/><stop offset="1" stop-color="#fff" stop-opacity="0.00"/></radialGradient><radialGradient id="g193" gradientUnits="userSpaceOnUse" cx="246.3" cy="261.6" r="107"><stop offset="0" stop-color="#fff" stop-opacity="0.00"/><stop offset="0.4" stop-color="#fff" stop-opacity="0.08"/><stop offset="0.6" stop-color="#fff" stop-opacity="0.22"/><stop offset="0.8" stop-color="#fff" stop-opacity="0.22"/><stop offset="0.9" stop-color="#fff" stop-opacity="0.10"/><stop offset="1" stop-color="#fff" stop-opacity="0.00"/></radialGradient><radialGradient id="g194" gradientUnits="userSpaceOnUse" cx="246.3" cy="261.6" r="99.3"><stop offset="0" stop-color="#fff" stop-opacity="0.00"/><stop offset="0.4" stop-color="#fff" stop-opacity="0.08"/><stop offset="0.6" stop-color="#fff" stop-opacity="0.22"/><stop offset="0.8" stop-color="#fff" stop-opacity="0.22"/><stop offset="0.9" stop-color="#fff" stop-opacity="0.10"/><stop offset="1" stop-color="#fff" stop-opacity="0.00"/></radialGradient><radialGradient id="g195" gradientUnits="userSpaceOnUse" cx="246.3" cy="261.6" r="108.8"><stop offset="0" stop-color="#fff" stop-opacity="0.00"/><stop offset="0.4" stop-color="#fff" stop-opacity="0.08"/><stop offset="0.6" stop-color="#fff" stop-opacity="0.22"/><stop offset="0.8" stop-color="#fff" stop-opacity="0.22"/><stop offset="0.9" stop-color="#fff" stop-opacity="0.10"/><stop offset="1" stop-color="#fff" stop-opacity="0.00"/></radialGradient><radialGradient id="g196" gradientUnits="userSpaceOnUse" cx="246.3" cy="261.6" r="109.1"><stop offset="0" stop-color="#fff" stop-opacity="0.00"/><stop offset="0.4" stop-color="#fff" stop-opacity="0.08"/><stop offset="0.6" stop-color="#fff" stop-opacity="0.22"/><stop offset="0.8" stop-color="#fff" stop-opacity="0.22"/><stop offset="0.9" stop-color="#fff" stop-opacity="0.10"/><stop offset="1" stop-color="#fff" stop-opacity="0.00"/></radialGradient><radialGradient id="g197" gradientUnits="userSpaceOnUse" cx="246.3" cy="261.6" r="112.2"><stop offset="0" stop-color="#fff" stop-opacity="0.00"/><stop offset="0.4" stop-color="#fff" stop-opacity="0.08"/><stop offset="0.6" stop-color="#fff" stop-opacity="0.22"/><stop offset="0.8" stop-color="#fff" stop-opacity="0.22"/><stop offset="0.9" stop-color="#fff" stop-opacity="0.10"/><stop offset="1" stop-color="#fff" stop-opacity="0.00"/></radialGradient><radialGradient id="g198" gradientUnits="userSpaceOnUse" cx="246.3" cy="261.6" r="106.6"><stop offset="0" stop-color="#fff" stop-opacity="0.00"/><stop offset="0.4" stop-color="#fff" stop-opacity="0.08"/><stop offset="0.6" stop-color="#fff" stop-opacity="0.22"/><stop offset="0.8" stop-color="#fff" stop-opacity="0.22"/><stop offset="0.9" stop-color="#fff" stop-opacity="0.10"/><stop offset="1" stop-color="#fff" stop-opacity="0.00"/></radialGradient><radialGradient id="g199" gradientUnits="userSpaceOnUse" cx="246.3" cy="261.6" r="82.5"><stop offset="0" stop-color="#fff" stop-opacity="0.00"/><stop offset="0.4" stop-color="#fff" stop-opacity="0.08"/><stop offset="0.6" stop-color="#fff" stop-opacity="0.22"/><stop offset="0.8" stop-color="#fff" stop-opacity="0.22"/><stop offset="0.9" stop-color="#fff" stop-opacity="0.10"/><stop offset="1" stop-color="#fff" stop-opacity="0.00"/></radialGradient><radialGradient id="g200" gradientUnits="userSpaceOnUse" cx="246.3" cy="261.6" r="76.7"><stop offset="0" stop-color="#fff" stop-opacity="0.00"/><stop offset="0.4" stop-color="#fff" stop-opacity="0.08"/><stop offset="0.6" stop-color="#fff" stop-opacity="0.22"/><stop offset="0.8" stop-color="#fff" stop-opacity="0.22"/><stop offset="0.9" stop-color="#fff" stop-opacity="0.10"/><stop offset="1" stop-color="#fff" stop-opacity="0.00"/></radialGradient><clipPath id="clipL"><rect x="59.1" y="74.2" width="374.4" height="374.8"/></clipPath></defs>
<filter id="grain" x="59.1" y="74.2" width="374.4" height="374.8" filterUnits="userSpaceOnUse" color-interpolation-filters="sRGB"><feTurbulence type="fractalNoise" baseFrequency="0.32" numOctaves="2" seed="4" result="n"/><feColorMatrix in="n" type="matrix" values="0 0 0 0 1 0 0 0 0 1 0 0 0 0 1 4 0 0 0 -1.5" result="m"/><feComposite in="SourceGraphic" in2="m" operator="arithmetic" k1="1.0" k2="0" k3="0" k4="0"/></filter>
<filter id="sb" x="-10%%" y="-10%%" width="120%%" height="120%%"><feGaussianBlur stdDeviation="1.8"/></filter><clipPath id="dataL"><polygon points="246.3,261.6 236.2,284.9 243.4,289.7 249,296.4 254.5,305.6 258.2,311.8 265.5,317.9 266.8,324 271,326.5 274.1,333.9 276.6,338.8 286.9,340 291,346 301,347 312,356 330,351 345,365 440,460 440,60 50,60 50,380"/></clipPath><g clip-path="url(#clipL)"><g clip-path="url(#dataL)"><g filter="url(#sb)"><path d="M246.3,261.6L203.8,351.5L208.4,353.6Z" fill="url(#g1)"/><path d="M246.3,261.6L210.5,346L215.8,348.1Z" fill="url(#g2)"/><path d="M246.3,261.6L212.4,354.8L219.3,357Z" fill="url(#g3)"/><path d="M246.3,261.6L220.7,348.5L225.4,349.7Z" fill="url(#g4)"/><path d="M246.3,261.6L223.9,352.1L229.9,353.4Z" fill="url(#g5)"/><path d="M246.3,261.6L228,357.9L233.2,358.7Z" fill="url(#g6)"/><path d="M246.3,261.6L230.4,370.7L239.2,371.6Z" fill="url(#g7)"/><path d="M246.3,261.6L239,358.5L245.5,358.8Z" fill="url(#g8)"/><path d="M246.3,261.6L244.4,362L250.7,361.9Z" fill="url(#g9)"/><path d="M246.3,261.6L249.8,364.2L255.7,363.9Z" fill="url(#g10)"/><path d="M246.3,261.6L256.2,382.4L262.2,381.7Z" fill="url(#g11)"/><path d="M246.3,261.6L259.5,370.3L266.5,369.2Z" fill="url(#g12)"/><path d="M246.3,261.6L264.4,363.9L269.7,362.8Z" fill="url(#g13)"/><path d="M246.3,261.6L272.5,381L278.9,379.4Z" fill="url(#g14)"/><path d="M246.3,261.6L278.8,384.1L288.4,381.1Z" fill="url(#g15)"/><path d="M246.3,261.6L285.4,376.5L293.6,373.4Z" fill="url(#g16)"/><path d="M246.3,261.6L292,373L297.5,370.5Z" fill="url(#g17)"/><path d="M246.3,261.6L301.4,382.1L307.7,379.1Z" fill="url(#g18)"/><path d="M246.3,261.6L300.7,368.4L306.9,365Z" fill="url(#g19)"/><path d="M246.3,261.6L313.4,378.8L320.2,374.7Z" fill="url(#g20)"/><path d="M246.3,261.6L307,356.6L311.3,353.7Z" fill="url(#g21)"/><path d="M246.3,261.6L315.8,362.3L323.6,356.4Z" fill="url(#g22)"/><path d="M246.3,261.6L326.3,361.8L332.6,356.4Z" fill="url(#g23)"/><path d="M246.3,261.6L328.3,353.6L334.2,347.9Z" fill="url(#g24)"/><path d="M246.3,261.6L326.5,342L330.5,337.8Z" fill="url(#g25)"/><path d="M246.3,261.6L332.7,341.4L338.6,334.4Z" fill="url(#g26)"/><path d="M246.3,261.6L333.1,331.5L336.9,326.5Z" fill="url(#g27)"/><path d="M246.3,261.6L349.1,337L354.4,329.2Z" fill="url(#g28)"/><path d="M246.3,261.6L351.3,328.8L355.7,321.4Z" fill="url(#g29)"/><path d="M246.3,261.6L348.4,318.8L352.6,310.6Z" fill="url(#g30)"/><path d="M246.3,261.6L354.7,312.9L358.4,304.2Z" fill="url(#g31)"/><path d="M246.3,261.6L352.1,303.1L354.5,296.4Z" fill="url(#g32)"/><path d="M246.3,261.6L348.3,295.6L350.6,287.7Z" fill="url(#g33)"/><path d="M246.3,261.6L362.5,292L364.4,283.4Z" fill="url(#g34)"/><path d="M246.3,261.6L346.8,281.3L348,273.7Z" fill="url(#g35)"/><path d="M246.3,261.6L355,275.7L355.6,269.6Z" fill="url(#g36)"/><path d="M246.3,261.6L352.8,270.6L353.1,265.5Z" fill="url(#g37)"/><path d="M246.3,261.6L360.9,267L361,257.8Z" fill="url(#g38)"/><path d="M246.3,261.6L365.8,258.9L365.5,252.4Z" fill="url(#g39)"/><path d="M246.3,261.6L345.5,255L344.8,248Z" fill="url(#g40)"/><path d="M246.3,261.6L361.9,246.9L360.5,238.3Z" fill="url(#g41)"/><path d="M246.3,261.6L353.1,241L351.5,233.9Z" fill="url(#g42)"/><path d="M246.3,261.6L349.5,235.6L347.3,227.9Z" fill="url(#g43)"/><path d="M246.3,261.6L357.6,225.8L355.5,219.7Z" fill="url(#g44)"/><path d="M246.3,261.6L360.1,219.3L356.9,211.5Z" fill="url(#g45)"/><path d="M246.3,261.6L351.4,215.4L348.1,208.5Z" fill="url(#g46)"/><path d="M246.3,261.6L341.2,213.4L337.8,207.2Z" fill="url(#g47)"/><path d="M246.3,261.6L351.3,200.7L346.1,192.7Z" fill="url(#g48)"/><path d="M246.3,261.6L332,203.8L329.1,199.7Z" fill="url(#g49)"/><path d="M246.3,261.6L330.7,199.8L326.8,194.7Z" fill="url(#g50)"/><path d="M246.3,261.6L327.5,195.6L322.8,190.2Z" fill="url(#g51)"/><path d="M246.3,261.6L329.8,185.3L325.4,180.6Z" fill="url(#g52)"/><path d="M246.3,261.6L321.4,186.3L317.5,182.6Z" fill="url(#g53)"/><path d="M246.3,261.6L324.1,177L318,171.7Z" fill="url(#g54)"/><path d="M246.3,261.6L323.8,166.5L316.9,161.3Z" fill="url(#g55)"/><path d="M246.3,261.6L306.6,177.9L300.3,173.7Z" fill="url(#g56)"/><path d="M246.3,261.6L310.6,159.4L305.7,156.4Z" fill="url(#g57)"/><path d="M246.3,261.6L301,167L294.3,163.4Z" fill="url(#g58)"/><path d="M246.3,261.6L293.2,168L287.9,165.5Z" fill="url(#g59)"/><path d="M246.3,261.6L297,147.6L290.6,144.9Z" fill="url(#g60)"/><path d="M246.3,261.6L288.9,152.7L282,150.3Z" fill="url(#g61)"/><path d="M246.3,261.6L283.6,149.3L278.1,147.6Z" fill="url(#g62)"/><path d="M246.3,261.6L281.7,139.5L273,137.3Z" fill="url(#g63)"/><path d="M246.3,261.6L272.1,147.3L264,145.7Z" fill="url(#g64)"/><path d="M246.3,261.6L266.4,139L260.5,138.2Z" fill="url(#g65)"/><path d="M246.3,261.6L260.4,149.7L253.9,149Z" fill="url(#g66)"/><path d="M246.3,261.6L254.7,154.6L249.4,154.3Z" fill="url(#g67)"/><path d="M246.3,261.6L251.2,138L242,138Z" fill="url(#g68)"/><path d="M246.3,261.6L243.8,156L236.7,156.4Z" fill="url(#g69)"/><path d="M246.3,261.6L236.9,145.4L229.9,146.2Z" fill="url(#g70)"/><path d="M246.3,261.6L232,153.3L225.6,154.4Z" fill="url(#g71)"/><path d="M246.3,261.6L226.8,154.3L220.3,155.6Z" fill="url(#g72)"/><path d="M246.3,261.6L219.1,145.5L210.6,147.8Z" fill="url(#g73)"/><path d="M246.3,261.6L214.2,155.4L208.6,157.3Z" fill="url(#g74)"/><path d="M246.3,261.6L205.6,145.2L197.8,148.2Z" fill="url(#g75)"/><path d="M246.3,261.6L203.4,158.2L197,161.1Z" fill="url(#g76)"/><path d="M246.3,261.6L196.3,156.7L188.4,160.9Z" fill="url(#g77)"/><path d="M246.3,261.6L192,164.8L185.2,169Z" fill="url(#g78)"/><path d="M246.3,261.6L187.4,170.3L181.2,174.6Z" fill="url(#g79)"/><path d="M246.3,261.6L187.3,181L181.3,185.8Z" fill="url(#g80)"/><path d="M246.3,261.6L176.4,178.4L170.4,183.8Z" fill="url(#g81)"/><path d="M246.3,261.6L181.4,193.7L179,196.1Z" fill="url(#g82)"/><path d="M246.3,261.6L136.9,262L137.1,268.4Z" fill="url(#g83)"/><path d="M246.3,261.6L134.9,267.4L135.4,272.8Z" fill="url(#g84)"/><path d="M246.3,261.6L133.4,271.8L134.4,279.8Z" fill="url(#g85)"/><path d="M246.3,261.6L131.3,279L133,288Z" fill="url(#g86)"/><path d="M246.3,261.6L136.3,286.1L137.9,292.3Z" fill="url(#g87)"/><path d="M246.3,261.6L132.9,292.4L134.7,298.6Z" fill="url(#g88)"/><path d="M246.3,261.6L138.2,296.2L140.2,302Z" fill="url(#g89)"/><path d="M246.3,261.6L157.1,294.5L159.6,300.6Z" fill="url(#g90)"/><path d="M246.3,261.6L164.3,297.4L166.4,301.9Z" fill="url(#g91)"/><path d="M246.3,261.6L172.8,297.7L175.1,302.2Z" fill="url(#g92)"/><path d="M246.3,261.6L185.7,295.3L187.6,298.6Z" fill="url(#g93)"/><path d="M246.3,261.6L190.4,296.1L190.8,296.7Z" fill="url(#g94)"/><path d="M246.3,261.6L200.6,360.1L206,362.5Z" fill="url(#g95)"/><path d="M246.3,261.6L216.4,340.7L219.9,341.9Z" fill="url(#g96)"/><path d="M246.3,261.6L223.9,344.7L226.7,345.4Z" fill="url(#g97)"/><path d="M246.3,261.6L225.5,360.7L229.2,361.4Z" fill="url(#g98)"/><path d="M246.3,261.6L231.2,374.6L234.7,375Z" fill="url(#g99)"/><path d="M246.3,261.6L240.8,358.5L243.5,358.6Z" fill="url(#g100)"/><path d="M246.3,261.6L248.4,381L252.4,380.8Z" fill="url(#g101)"/><path d="M246.3,261.6L257.6,357.4L263,356.6Z" fill="url(#g102)"/><path d="M246.3,261.6L270.4,383L277.3,381.4Z" fill="url(#g103)"/><path d="M246.3,261.6L281.9,385L285.4,383.9Z" fill="url(#g104)"/><path d="M246.3,261.6L292.2,384L297.4,381.9Z" fill="url(#g105)"/><path d="M246.3,261.6L294.4,365.7L298.4,363.8Z" fill="url(#g106)"/><path d="M246.3,261.6L300.9,353.6L303.5,352Z" fill="url(#g107)"/><path d="M246.3,261.6L312.3,354.6L315.3,352.4Z" fill="url(#g108)"/><path d="M246.3,261.6L326.2,362.6L330.6,359Z" fill="url(#g109)"/><path d="M246.3,261.6L339,363.3L342,360.5Z" fill="url(#g110)"/><path d="M246.3,261.6L340.1,351.3L344.5,346.5Z" fill="url(#g111)"/><path d="M246.3,261.6L331.6,332.2L335.3,327.4Z" fill="url(#g112)"/><path d="M246.3,261.6L349.7,332.4L352.8,327.7Z" fill="url(#g113)"/><path d="M246.3,261.6L340.4,313.2L342.6,309Z" fill="url(#g114)"/><path d="M246.3,261.6L360.1,309.4L362.6,302.8Z" fill="url(#g115)"/><path d="M246.3,261.6L357.5,293.8L359.2,287.4Z" fill="url(#g116)"/><path d="M246.3,261.6L371.7,281.3L372.4,276.3Z" fill="url(#g117)"/><path d="M246.3,261.6L351.4,267.6L351.5,264.8Z" fill="url(#g118)"/><path d="M246.3,261.6L360.5,259.5L360.3,253.5Z" fill="url(#g119)"/><path d="M246.3,261.6L367.8,244.8L366.9,239.4Z" fill="url(#g120)"/><path d="M246.3,261.6L362.3,231.7L360.9,226.5Z" fill="url(#g121)"/><path d="M246.3,261.6L337.3,227.2L335.9,223.7Z" fill="url(#g122)"/><path d="M246.3,261.6L357.5,211.1L355.1,206.1Z" fill="url(#g123)"/><path d="M246.3,261.6L342.5,209.6L341,207Z" fill="url(#g124)"/><path d="M246.3,261.6L334.1,208.7L331.4,204.5Z" fill="url(#g125)"/><path d="M246.3,261.6L346.2,184.5L342.7,180.1Z" fill="url(#g126)"/><path d="M246.3,261.6L329,188.2L326.4,185.4Z" fill="url(#g127)"/><path d="M246.3,261.6L327.6,174.9L322.9,170.7Z" fill="url(#g128)"/><path d="M246.3,261.6L316.1,171.7L312.5,169Z" fill="url(#g129)"/><path d="M246.3,261.6L300,178.8L296.4,176.6Z" fill="url(#g130)"/><path d="M246.3,261.6L303.8,152.5L297.8,149.5Z" fill="url(#g131)"/><path d="M246.3,261.6L285.9,156.8L281.8,155.3Z" fill="url(#g132)"/><path d="M246.3,261.6L278,147L272.6,145.6Z" fill="url(#g133)"/><path d="M246.3,261.6L270.5,139.1L266.4,138.4Z" fill="url(#g134)"/><path d="M246.3,261.6L259.6,149.9L256.5,149.6Z" fill="url(#g135)"/><path d="M246.3,261.6L251.6,148.2L246.8,148Z" fill="url(#g136)"/><path d="M246.3,261.6L240.6,132.2L234.1,132.7Z" fill="url(#g137)"/><path d="M246.3,261.6L229.8,137.2L225.5,137.9Z" fill="url(#g138)"/><path d="M246.3,261.6L217.2,138.7L213.1,139.7Z" fill="url(#g139)"/><path d="M246.3,261.6L212.8,148.2L208.6,149.5Z" fill="url(#g140)"/><path d="M246.3,261.6L201.8,151.7L197.9,153.4Z" fill="url(#g141)"/><path d="M246.3,261.6L198.2,161.9L194.9,163.6Z" fill="url(#g142)"/><path d="M246.3,261.6L196.1,172.3L191.7,174.9Z" fill="url(#g143)"/><path d="M246.3,261.6L193.7,184.5L191.2,186.3Z" fill="url(#g144)"/><path d="M246.3,261.6L189.7,192.4L187,194.8Z" fill="url(#g145)"/><path d="M246.3,261.6L173.4,187.5L172.2,188.8Z" fill="url(#g146)"/><path d="M246.3,261.6L134.3,265.5L134.7,272.2Z" fill="url(#g147)"/><path d="M246.3,261.6L139.9,277.2L140.6,281.3Z" fill="url(#g148)"/><path d="M246.3,261.6L139.7,287.1L140.8,291.6Z" fill="url(#g149)"/><path d="M246.3,261.6L142.3,297.9L143.3,300.7Z" fill="url(#g150)"/><path d="M246.3,261.6L155.3,299.2L157.1,303.4Z" fill="url(#g151)"/><path d="M246.3,261.6L168,302.5L169.3,305Z" fill="url(#g152)"/></g><g filter="url(#grain)"><path d="M246.3,261.6L207.3,344.1L217,348.1Z" fill="url(#g153)"/><path d="M246.3,261.6L216.2,347.4L226.3,350.3Z" fill="url(#g154)"/><path d="M246.3,261.6L224.1,355.7L235,357.6Z" fill="url(#g155)"/><path d="M246.3,261.6L233.7,359.7L245.1,360.5Z" fill="url(#g156)"/><path d="M246.3,261.6L243.8,373.8L256.7,373.3Z" fill="url(#g157)"/><path d="M246.3,261.6L256.2,381.7L269.9,379.7Z" fill="url(#g158)"/><path d="M246.3,261.6L266.6,369L278.8,366Z" fill="url(#g159)"/><path d="M246.3,261.6L277.8,366.7L289.7,362.4Z" fill="url(#g160)"/><path d="M246.3,261.6L293.8,375.1L306.5,368.9Z" fill="url(#g161)"/><path d="M246.3,261.6L300.8,361.1L311.8,354.2Z" fill="url(#g162)"/><path d="M246.3,261.6L314.6,360.3L325.5,351.8Z" fill="url(#g163)"/><path d="M246.3,261.6L329.9,358.8L340.5,348.5Z" fill="url(#g164)"/><path d="M246.3,261.6L329.3,339.8L337.8,329.8Z" fill="url(#g165)"/><path d="M246.3,261.6L346.2,337.7L354.3,325.7Z" fill="url(#g166)"/><path d="M246.3,261.6L349.3,324.2L355.8,312Z" fill="url(#g167)"/><path d="M246.3,261.6L343.6,307.6L348.3,296.1Z" fill="url(#g168)"/><path d="M246.3,261.6L349.4,297.7L352.9,285.6Z" fill="url(#g169)"/><path d="M246.3,261.6L358.4,288.1L360.7,275Z" fill="url(#g170)"/><path d="M246.3,261.6L347.2,274.5L348,262.8Z" fill="url(#g171)"/><path d="M246.3,261.6L349.2,263.9L348.8,252.1Z" fill="url(#g172)"/><path d="M246.3,261.6L357.6,252.5L355.8,239.7Z" fill="url(#g173)"/><path d="M246.3,261.6L361.8,239.8L358.5,226.6Z" fill="url(#g174)"/><path d="M246.3,261.6L353.1,229.6L348.7,217.5Z" fill="url(#g175)"/><path d="M246.3,261.6L352.6,217.1L346.8,205.2Z" fill="url(#g176)"/><path d="M246.3,261.6L335,213L328.9,203.1Z" fill="url(#g177)"/><path d="M246.3,261.6L335.3,199.9L327.7,190.1Z" fill="url(#g178)"/><path d="M246.3,261.6L329.1,190.4L320.3,181.4Z" fill="url(#g179)"/><path d="M246.3,261.6L330.8,171.9L320,162.8Z" fill="url(#g180)"/><path d="M246.3,261.6L313.7,173.2L303.1,166Z" fill="url(#g181)"/><path d="M246.3,261.6L309.4,157.8L297.1,151.2Z" fill="url(#g182)"/><path d="M246.3,261.6L291.1,166.9L279.9,162.3Z" fill="url(#g183)"/><path d="M246.3,261.6L284.7,152.1L271.8,148.4Z" fill="url(#g184)"/><path d="M246.3,261.6L275.2,139.2L261,136.7Z" fill="url(#g185)"/><path d="M246.3,261.6L262,139L247.8,138Z" fill="url(#g186)"/><path d="M246.3,261.6L249,142.6L235.3,143.1Z" fill="url(#g187)"/><path d="M246.3,261.6L237.4,153.5L225.1,155.3Z" fill="url(#g188)"/><path d="M246.3,261.6L223.2,139.5L209.4,143Z" fill="url(#g189)"/><path d="M246.3,261.6L216.5,162.4L205.3,166.4Z" fill="url(#g190)"/><path d="M246.3,261.6L199.4,149.4L186.8,155.5Z" fill="url(#g191)"/><path d="M246.3,261.6L192.1,162.7L181.1,169.5Z" fill="url(#g192)"/><path d="M246.3,261.6L185.4,173.6L175.7,181.2Z" fill="url(#g193)"/><path d="M246.3,261.6L181.6,186.3L175.1,192.4Z" fill="url(#g194)"/><path d="M246.3,261.6L137.5,262L138.2,274.5Z" fill="url(#g195)"/><path d="M246.3,261.6L137.9,273.4L139.9,285.8Z" fill="url(#g196)"/><path d="M246.3,261.6L136.6,285.3L140.1,297.8Z" fill="url(#g197)"/><path d="M246.3,261.6L145,294.9L149.5,306.3Z" fill="url(#g198)"/><path d="M246.3,261.6L171.1,295.4L175.5,303.8Z" fill="url(#g199)"/><path d="M246.3,261.6L180,300.2L181.4,302.6Z" fill="url(#g200)"/></g></g></g>
<filter id="halo" x="-50%" y="-50%" width="200%" height="200%"><feGaussianBlur stdDeviation="1.1"/></filter>
<polygon points="81.4,276.8 88.3,276.1 88.3,284.8 87.8,294.2 90.3,302.1 93.8,308.4 90.9,311.3 84.6,305.8 80.3,297.8 79.3,286.8" fill="#ccc" filter="url(#halo)"/>
<polygon points="101.8,305.3 107.5,304.5 111.8,306.8 114.8,315.5 109.8,317.3 105.8,310.3 102.3,308.5" fill="#ccc" filter="url(#halo)"/>
<polygon points="81.4,329.8 89.3,328.2 97.2,332.1 101.2,337.6 106.7,337.6 111.4,341.6 116.2,347.9 114.6,350.3 108.3,349.5 103.5,343.2 98.0,343.2 92.5,336.8 84.6,331.3" fill="#ccc" filter="url(#halo)"/>
<polygon points="285.9,340.0 293.3,340.0 294.3,345.3 290.1,347.4 289.1,363.2 285.9,365.3 284.8,354.8 285.9,346.3" fill="#ccc" filter="url(#halo)"/>
<polygon points="298.5,347.4 302.8,348.4 307.0,354.8 308.0,361.1 305.9,362.1 302.8,356.9 299.6,352.7" fill="#ccc" filter="url(#halo)"/>
<polygon points="309.1,349.5 313.3,346.3 321.7,344.2 327.0,346.3 330.2,352.7 323.8,351.6 317.5,352.7 313.3,359.0 310.1,356.9" fill="#ccc" filter="url(#halo)"/>
<polygon points="273.3,333.7 277.5,332.6 279.6,328.4 281.7,330.5 279.6,335.8 276.4,339.0 274.3,337.9" fill="#ccc" filter="url(#halo)"/>
<polygon points="85.5,276.0 89.8,275.3 89.8,284.0 89.5,293.0 91.5,301.0 95.5,307.5 92.5,309.5 88.5,305.0 85.5,298.0 84.0,290.0 84.5,282.0" fill="#ff0"/>
<polygon points="110.2,306.0 113.0,307.0 115.8,314.7 112.6,315.8 110.5,310.0" fill="#ff0"/>
<polygon points="88.0,327.5 91.0,327.0 96.5,330.0 100.5,336.0 103.0,338.0 98.5,339.0 94.5,333.5 89.0,330.0" fill="#ff0"/>
<polygon points="106.5,337.0 109.5,337.5 113.0,342.0 117.5,347.0 115.0,348.5 111.0,347.0 108.5,342.0" fill="#ff0"/>
<polygon points="286.9,338.5 294.3,338.5 295.3,343.8 291.1,345.9 290.1,361.7 286.9,363.8 285.8,353.3 286.9,344.8" fill="#ff0"/>
<polygon points="299.5,345.9 303.8,346.9 308.0,353.3 309.0,359.6 306.9,360.6 303.8,355.4 300.6,351.2" fill="#ff0"/>
<polygon points="310.1,348.0 314.3,344.8 322.7,342.7 328.0,344.8 331.2,351.2 324.8,350.1 318.5,351.2 314.3,357.5 311.1,355.4" fill="#ff0"/>
<polygon points="274.3,332.2 278.5,331.1 280.6,326.9 282.7,329.0 280.6,334.3 277.4,337.5 275.3,336.4" fill="#ff0"/>
<polygon points="236.2,284.9 240.0,287.0 243.4,289.7 246.0,293.0 249.0,296.4 251.5,301.0 254.5,305.6 256.0,308.5 258.2,311.8 262.0,315.0 265.5,317.9 266.8,324.0 271.0,326.5 272.5,330.0 274.1,333.9 276.6,338.8 278.8,337.7 277.4,332.4 275.3,328.8 273.6,324.0 269.2,322.4 267.4,316.9 264.2,312.4 260.6,309.6 257.9,307.3 257.9,303.5 254.2,299.4 250.7,295.2 249.0,290.5 245.1,288.0 241.6,284.6 237.7,282.2" fill="#ff0"/>
<polygon points="239.0,232.9 240.7,232.5 242.1,229.3 242.6,233.1 243.2,237.2 245.4,237.6 245.7,239.5 246.1,242.4 246.4,241.9 246.7,244.2 248.8,245.2 250.3,244.9 250.9,248.2 252.7,245.6 254.6,243.1 256.1,241.8 257.3,240.9 259.4,241.9 259.6,241.8 257.9,244.7 256.4,247.0 257.7,248.5 258.8,250.1 260.9,250.7 262.6,251.8 263.8,253.2 263.9,255.1 265.1,256.5 266.8,257.1 267.7,257.9 266.8,259.7 269.2,261.6 267.8,264.5 261.8,265.1 260.2,266.1 266.0,269.4 262.0,268.8 263.9,270.6 266.7,273.1 267.7,274.6 266.1,274.5 267.0,275.8 269.0,278.0 273.9,282.5 268.1,278.7 268.1,279.3 265.3,277.7 264.2,277.5 262.3,276.7 261.6,277.0 258.8,275.1 256.8,274.0 257.9,278.0 258.5,281.8 258.1,284.4 256.1,284.5 252.6,280.6 252.0,278.5 252.6,280.0 251.4,276.1 250.4,273.0 250.3,272.4 248.6,272.8 247.2,274.1 245.8,275.1 243.7,280.9 242.7,279.0 241.7,278.6 240.3,279.9 238.6,281.7 237.6,282.0 236.6,283.9 237.1,282.6 238.0,280.1 237.9,280.0 238.8,277.7 239.8,275.1 240.3,273.7 239.9,274.0 241.3,270.7 241.3,270.1 240.3,271.0 242.2,267.3 243.7,264.5 242.1,265.2 239.2,266.6 240.1,265.4 236.1,267.4 235.8,267.1 232.8,268.3 231.8,268.4 230.3,268.5 229.8,268.3 223.7,270.3 229.4,267.3 231.5,265.9 231.0,265.8 231.9,265.3 230.5,265.3 237.4,263.4 237.4,263.0 239.8,262.2 240.7,261.6 241.8,259.9 241.0,257.7 240.2,256.7 238.7,255.0 238.4,254.5 235.5,251.5 232.5,248.3 232.0,247.5 233.8,249.1 232.4,247.5 229.1,243.9 230.8,243.4 233.4,244.0 236.6,246.0 237.2,244.2 238.1,242.9 238.8,240.9 238.8,240.5 238.5,239.1 237.4,235.6 238.6,235.5" fill="#ff0"/>
<path d="M112,315.5L99.2,322.6" stroke="#ff0" stroke-width="1"/>
<path d="M302,240.5L306.5,238.5" stroke="#ff0" stroke-width="2.2" stroke-linecap="round"/>
<linearGradient id="wl" gradientUnits="userSpaceOnUse" x1="246.3" y1="261.6" x2="138.7" y2="215.1"><stop offset="0" stop-color="#f0f0f0"/><stop offset="0.5" stop-color="#aaa"/><stop offset="1" stop-color="#444"/></linearGradient>
<path d="M246.3,261.6L138.2,216.3L139.2,213.9Z" fill="url(#wl)"/>
<path d="M246.3,261.6L206,320.4" stroke="#000" stroke-width="3"/><path d="M246.3,261.6L206,320.4" stroke="#888" stroke-width="0.6"/>
<path d="M206.5,319.5L212,310" stroke="#ff0" stroke-width="1.8" stroke-linecap="round"/>
<circle cx="246.3" cy="261.6" r="4.9" fill="#000"/>
<polyline points="59.9,179.4 69.1,179.4 71.5,177.8 72.9,173.9 74.9,173 78.2,174.9 82.6,176.8 87.9,181.2 92.7,179.7 100.4,177.3 111.1,171.5 119.8,166.2 126.5,162.3 127.8,154.6 130.4,153.8 130.4,149.4 133,147.2 129.5,143.2 127.3,145.9 124.3,141.9 127.8,139.3 130.4,134.5 153.2,133.2 154.5,145.9 157.6,145.9 159.8,145 162,145.9 164.2,139.3 161.5,138.4 162.4,134 165.5,134.5 168.1,131.4 169,133.2 172.5,136.2 178.4,135.9 185.6,138.8 190.9,137.3 196.2,137.8 203,139.3 204.9,142.7 208.3,143.4 213.6,141.2 217.5,142.2 222.3,139.8 224.7,136.4 227.6,138.3 232,137.8 234.9,133 238.3,136 243.7,131.7 243.2,129.3 238.8,131.2 242.7,127.8 247.5,125.4 249.9,126.9 256.2,122.5 254.3,125.9 257.2,128.3 260.1,126.9 259.6,124 262,123.5 263.4,116.2 271.2,117.2 271.2,121.1 275.5,121.6 276.5,120.1 279.9,122.5 282.3,131.7 283.2,137.5 278.4,138 275.5,137.5 277.9,145.2 284.7,143.3 285.2,140.4 290,145.2 294.3,142.8 292.9,137.5 294.3,137 295.8,140.9 305.5,136 301.1,129.4 294.1,132.5 287.1,128.9 294.1,125.4 287.1,109.6 298.5,104.4 309,123.2 312.1,123.2 313,125.9 307.3,128.5 309,132.9 318.7,127.6 313.9,116.7 314.7,115.4 317.8,117.1 319.1,118.9 324.4,116.2 322.2,111.8 320.4,114 320.4,111.4 311.7,103.1 317.4,96.3 332.5,108.2 337.7,101.2 334.9,99.1 333.2,101.9 319.8,90.4 323.3,81.2 330.4,79.1 351.4,84.7 352.5,75.6 350,75.3 348.2,80.2 346.5,79.1 346.5,77 340.9,74.2" fill="none" stroke="#fff" stroke-width="1.2" stroke-linejoin="round"/>
<polyline points="98.7,74.2 97.6,77.9 92.8,81.5 91.2,84.6 92,90.2 91.6,95.7 94.8,97.7 96.4,102 98.3,106 101.5,110.7 108.6,111.5 112.2,108.3 114.9,109.1 117.7,107.1 120.8,106.7 122.8,102.8 122.4,99.2 128,97.3 129.5,91.7 131.1,90.2 134.3,89.4 132.7,85.8 133.5,82.3 131.9,77.5 131.9,74.2" fill="none" stroke="#fff" stroke-width="1.2" stroke-linejoin="round"/>
<path d="M247.5,112.9L249.9,117.2" stroke="#fff" stroke-width="1.6" stroke-linecap="round"/>
<circle cx="87.3" cy="85" r="1.3" fill="#fff"/>
<polyline points="480.9,179.4 490.1,179.4 492.5,177.8 493.9,173.9 495.9,173 499.2,174.9 503.6,176.8 508.9,181.2 513.7,179.7 521.4,177.3 532.1,171.5 540.8,166.2 547.5,162.3 548.8,154.6 551.4,153.8 551.4,149.4 554,147.2 550.5,143.2 548.3,145.9 545.3,141.9 548.8,139.3 551.4,134.5 574.2,133.2 575.5,145.9 578.6,145.9 580.8,145 583,145.9 585.2,139.3 582.5,138.4 583.4,134 586.5,134.5 589.1,131.4 590,133.2 593.5,136.2 599.4,135.9 606.6,138.8 611.9,137.3 617.2,137.8 624,139.3 625.9,142.7 629.3,143.4 634.6,141.2 638.5,142.2 643.3,139.8 645.7,136.4 648.6,138.3 653,137.8 655.9,133 659.3,136 664.7,131.7 664.2,129.3 659.8,131.2 663.7,127.8 668.5,125.4 670.9,126.9 677.2,122.5 675.3,125.9 678.2,128.3 681.1,126.9 680.6,124 683,123.5 684.4,116.2 692.2,117.2 692.2,121.1 696.5,121.6 697.5,120.1 700.9,122.5 703.3,131.7 704.2,137.5 699.4,138 696.5,137.5 698.9,145.2 705.7,143.3 706.2,140.4 711,145.2 715.3,142.8 713.9,137.5 715.3,137 716.8,140.9 726.5,136 722.1,129.4 715.1,132.5 708.1,128.9 715.1,125.4 708.1,109.6 719.5,104.4 730,123.2 733.1,123.2 734,125.9 728.3,128.5 730,132.9 739.7,127.6 734.9,116.7 735.7,115.4 738.8,117.1 740.1,118.9 745.4,116.2 743.2,111.8 741.4,114 741.4,111.4 732.7,103.1 738.4,96.3 753.5,108.2 758.7,101.2 755.9,99.1 754.2,101.9 740.8,90.4 744.3,81.2 751.4,79.1 772.4,84.7 773.5,75.6 771,75.3 769.2,80.2 767.5,79.1 767.5,77 761.9,74.2" fill="none" stroke="#000" stroke-width="1.2" stroke-linejoin="round"/>
<polyline points="519.7,74.2 518.6,77.9 513.8,81.5 512.2,84.6 513,90.2 512.6,95.7 515.8,97.7 517.4,102 519.3,106 522.5,110.7 529.6,111.5 533.2,108.3 535.9,109.1 538.7,107.1 541.8,106.7 543.8,102.8 543.4,99.2 549,97.3 550.5,91.7 552.1,90.2 555.3,89.4 553.7,85.8 554.5,82.3 552.9,77.5 552.9,74.2" fill="none" stroke="#000" stroke-width="1.2" stroke-linejoin="round"/>
<path d="M668.5,112.9L670.9,117.2" stroke="#000" stroke-width="1.6" stroke-linecap="round"/>
<circle cx="508.3" cy="85" r="1.3" fill="#000"/>
<clipPath id="navc"><polygon points="664.3,260.0 662.8,258.6 661.4,257.3 659.9,255.9 658.4,254.5 656.9,253.2 655.5,251.8 654.0,250.5 652.5,249.1 651.1,247.7 649.6,246.4 648.1,245.0 646.7,243.6 645.2,242.3 643.7,240.9 642.2,239.6 640.8,238.2 639.3,236.8 637.8,235.5 636.4,234.1 634.9,232.7 633.4,231.4 632.0,230.0 630.5,228.7 627.5,225.9 626.0,224.6 625.6,224.1 624.5,223.1 624.0,221.8 621.5,218.5 621.2,217.4 620.5,215.8 620.9,215.4 619.0,212.6 617.6,210.4 618.2,210.3 616.0,207.2 616.1,206.5 615.3,204.9 612.5,201.5 612.5,201.2 610.8,198.9 609.1,196.7 608.8,196.0 605.8,192.3 609.0,193.1 612.8,194.6 613.7,197.6 614.8,200.9 617.3,201.4 619.6,201.6 621.7,201.6 623.1,200.6 622.8,197.6 623.3,194.8 625.9,195.0 627.8,198.1 628.9,200.0 629.8,198.5 629.2,194.4 630.2,192.9 631.5,192.8 630.4,188.1 631.5,187.5 631.4,184.9 630.7,180.5 633.4,186.2 633.4,186.0 635.2,187.4 637.8,190.7 635.4,189.5 636.2,195.2 637.6,192.7 640.3,192.6 641.6,191.5 641.3,185.9 643.4,185.5 644.7,182.4 645.8,186.9 646.4,189.9 646.7,191.6 647.6,191.6 649.7,195.7 651.5,194.8 653.6,194.5 653.3,192.3 654.8,198.6 655.6,201.6 655.7,198.7 656.0,196.2 656.6,196.0 656.5,191.4 656.8,189.1 657.2,187.7 657.5,185.5 657.9,183.9 658.1,181.4 658.3,178.7 658.9,179.3 658.9,174.6 659.5,175.0 659.9,172.3 659.9,166.6 660.4,165.8 660.4,162.0 660.6,160.9 661.5,168.5 661.9,170.2 662.3,170.1 662.9,172.8 663.6,175.9 664.1,177.4 664.6,178.0 665.5,179.4 666.5,183.3 667.4,184.8 667.1,189.5 666.7,190.0 666.4,194.8 665.9,192.7 665.1,198.5 664.2,201.0 663.3,202.8 661.5,201.3 660.3,205.1 659.1,208.2 656.9,205.9 656.7,212.6 655.2,212.7 654.1,215.0 653.0,217.0 651.9,219.0 650.8,221.1 649.8,223.2 650.3,225.4 650.8,227.6 651.3,229.8 651.8,232.0 652.3,234.2 652.8,236.4 653.3,238.6 654.4,240.5 655.5,242.4 656.6,244.3 657.8,246.2 658.9,248.1 660.0,250.0 661.4,252.2 662.9,254.3 664.3,256.5"/></clipPath>
<clipPath id="orc"><polygon points="659.2,174.3 661.4,174.7 663.6,173.2 666.0,175.0 668.1,178.5 670.2,179.1 670.2,181.2 670.2,184.5 670.3,184.2 670.3,186.9 670.3,191.4 670.4,191.8 670.3,195.9 670.4,196.6 670.5,197.3 673.8,196.1 676.2,195.8 678.7,194.6 681.4,192.9 680.8,191.4 680.3,190.1 679.9,188.1 682.9,189.6 685.2,188.3 687.4,187.5 688.0,189.0 689.4,188.1 688.4,192.8 687.8,196.1 687.2,199.3 687.4,200.1 686.6,203.8 688.2,200.3 687.6,203.7 686.8,207.4 685.7,211.8 685.5,213.8 687.2,211.3 689.5,207.7 690.9,206.1 691.1,207.6 694.3,201.8 695.3,201.2 696.4,200.5 698.0,198.7 698.5,199.0 700.6,197.2 702.6,195.7 704.5,194.4 706.2,193.5 708.4,191.6 709.2,194.4 711.2,195.3 709.3,198.6 711.4,195.9 710.6,197.7 707.5,202.7 706.4,204.8 707.0,204.4 705.2,207.5 706.1,207.7 708.5,205.6 709.8,205.2 711.6,204.1 713.2,203.2 717.5,198.8 714.5,202.5 712.0,205.5 713.2,203.8 711.6,205.6 708.1,209.9 707.0,211.2 705.0,213.6 704.7,213.8 702.9,215.9 700.8,218.4 703.1,217.6 707.6,214.0 708.6,214.7 710.7,214.1 711.2,215.2 714.9,215.1 715.8,217.7 718.1,218.6 722.0,218.2 719.8,219.4 718.1,220.2 716.2,221.2 712.5,223.7 712.3,223.2 709.7,224.9 707.4,226.2 708.8,226.8 711.5,226.2 712.9,226.7 716.8,225.3 719.5,224.9 723.8,223.4 721.6,226.3 725.1,225.4 726.5,225.8 727.6,227.6 727.0,230.3 728.2,232.0 732.0,232.6 730.5,233.7 726.0,236.2 725.9,236.7 727.1,237.4 725.9,239.0 728.5,239.0 732.9,238.5 735.1,238.8 736.7,239.2 735.8,240.4 738.7,240.4 740.9,241.7 743.8,242.8 744.5,244.4 746.4,245.7 747.0,247.0 747.8,248.4 743.8,250.6 740.9,250.7 739.7,250.5 736.7,250.7 735.8,250.5 737.8,252.1 738.4,253.9 740.3,254.5 734.8,255.9 734.5,256.7 732.2,257.1 727.9,257.6 725.3,258.0 725.1,258.3 723.4,258.6 721.1,259.0 718.9,261.1 724.4,263.3 724.6,263.6 726.6,264.0 730.9,264.5 729.4,264.7 732.1,265.7 736.5,266.8 734.2,267.3 734.6,268.1 740.6,269.4 739.8,270.0 744.0,271.2 743.2,272.7 743.8,274.3 745.2,276.1 750.3,278.6 750.0,280.0 753.6,282.3 751.7,284.2 751.9,286.6 751.3,288.8 753.6,292.2 750.1,293.4 747.5,294.9 744.6,294.2 742.5,293.8 740.8,293.5 739.9,293.7 736.6,292.7 734.8,292.5 733.3,292.3 733.9,293.2 731.5,292.6 726.2,290.4 723.5,289.6 722.5,289.6 723.5,291.7 725.6,294.4 725.6,295.9 727.8,298.7 728.9,299.9 729.6,300.9 730.4,301.9 733.1,304.2 735.1,306.1 731.2,304.3 729.3,303.9 729.1,305.2 725.3,303.9 723.4,304.0 723.6,305.8 723.1,307.3 722.2,308.3 725.1,312.6 723.1,312.6 723.2,314.9 725.8,319.6 726.6,322.8 727.7,326.5 727.8,329.0 724.4,327.6 725.3,331.0 723.0,329.7 721.2,329.1 719.0,327.5 716.7,325.9 712.7,322.2 710.4,324.9 708.2,323.1 706.0,324.4 707.0,330.6 705.2,332.2 703.2,329.8 702.7,333.2 701.1,334.2 699.5,335.5 699.7,340.9 697.9,335.6 697.1,333.1 695.5,329.8 696.0,331.9 693.3,326.2 692.4,324.8 691.5,323.2 690.9,322.7 690.4,322.6 689.9,322.2 687.7,319.2 685.2,315.2 684.1,315.1 683.0,315.6 680.6,309.6 679.7,308.9 678.2,305.8 677.3,305.5 676.0,303.5 675.1,301.5 674.1,299.5 673.2,297.6 672.3,295.6 671.3,293.6 670.4,291.6 668.7,290.4 667.0,289.2 665.3,288.0 663.6,286.8 661.9,285.6 660.2,284.4 658.5,283.2 659.2,281.1 659.9,279.0 660.6,276.9 661.3,274.7 662.0,272.6 662.7,270.5 663.4,268.4 664.8,266.1 666.1,263.9 667.5,261.6 666.3,259.9 665.1,258.2 663.9,256.5 662.8,254.8 661.6,253.1 660.4,251.4 659.2,249.7 658.0,248.0 657.1,246.0 656.2,244.0 655.4,242.0 654.5,240.0 653.6,238.0 652.8,236.0 651.9,234.0 651.0,232.0 650.4,230.0 649.8,228.0 649.2,226.0 648.6,224.0 648.0,222.0 650.0,222.2 649.8,217.4 651.4,217.1 652.1,214.4 652.7,211.1 654.4,211.4 655.2,208.8 655.5,203.1 657.4,205.0 658.7,203.9 660.0,203.4 661.3,202.4 661.4,198.2 661.8,196.5 661.9,190.6 662.4,189.8 662.8,187.3 662.7,187.1 662.4,185.2 662.3,185.6 661.9,181.8 661.6,179.3 661.4,178.4 660.9,174.2"/></clipPath>
<filter id="rb" x="-10%" y="-10%" width="120%" height="120%"><feGaussianBlur stdDeviation="0.9"/></filter>
<polygon points="659.2,174.3 661.4,174.7 663.6,173.2 666.0,175.0 668.1,178.5 670.2,179.1 670.2,181.2 670.2,184.5 670.3,184.2 670.3,186.9 670.3,191.4 670.4,191.8 670.3,195.9 670.4,196.6 670.5,197.3 673.8,196.1 676.2,195.8 678.7,194.6 681.4,192.9 680.8,191.4 680.3,190.1 679.9,188.1 682.9,189.6 685.2,188.3 687.4,187.5 688.0,189.0 689.4,188.1 688.4,192.8 687.8,196.1 687.2,199.3 687.4,200.1 686.6,203.8 688.2,200.3 687.6,203.7 686.8,207.4 685.7,211.8 685.5,213.8 687.2,211.3 689.5,207.7 690.9,206.1 691.1,207.6 694.3,201.8 695.3,201.2 696.4,200.5 698.0,198.7 698.5,199.0 700.6,197.2 702.6,195.7 704.5,194.4 706.2,193.5 708.4,191.6 709.2,194.4 711.2,195.3 709.3,198.6 711.4,195.9 710.6,197.7 707.5,202.7 706.4,204.8 707.0,204.4 705.2,207.5 706.1,207.7 708.5,205.6 709.8,205.2 711.6,204.1 713.2,203.2 717.5,198.8 714.5,202.5 712.0,205.5 713.2,203.8 711.6,205.6 708.1,209.9 707.0,211.2 705.0,213.6 704.7,213.8 702.9,215.9 700.8,218.4 703.1,217.6 707.6,214.0 708.6,214.7 710.7,214.1 711.2,215.2 714.9,215.1 715.8,217.7 718.1,218.6 722.0,218.2 719.8,219.4 718.1,220.2 716.2,221.2 712.5,223.7 712.3,223.2 709.7,224.9 707.4,226.2 708.8,226.8 711.5,226.2 712.9,226.7 716.8,225.3 719.5,224.9 723.8,223.4 721.6,226.3 725.1,225.4 726.5,225.8 727.6,227.6 727.0,230.3 728.2,232.0 732.0,232.6 730.5,233.7 726.0,236.2 725.9,236.7 727.1,237.4 725.9,239.0 728.5,239.0 732.9,238.5 735.1,238.8 736.7,239.2 735.8,240.4 738.7,240.4 740.9,241.7 743.8,242.8 744.5,244.4 746.4,245.7 747.0,247.0 747.8,248.4 743.8,250.6 740.9,250.7 739.7,250.5 736.7,250.7 735.8,250.5 737.8,252.1 738.4,253.9 740.3,254.5 734.8,255.9 734.5,256.7 732.2,257.1 727.9,257.6 725.3,258.0 725.1,258.3 723.4,258.6 721.1,259.0 718.9,261.1 724.4,263.3 724.6,263.6 726.6,264.0 730.9,264.5 729.4,264.7 732.1,265.7 736.5,266.8 734.2,267.3 734.6,268.1 740.6,269.4 739.8,270.0 744.0,271.2 743.2,272.7 743.8,274.3 745.2,276.1 750.3,278.6 750.0,280.0 753.6,282.3 751.7,284.2 751.9,286.6 751.3,288.8 753.6,292.2 750.1,293.4 747.5,294.9 744.6,294.2 742.5,293.8 740.8,293.5 739.9,293.7 736.6,292.7 734.8,292.5 733.3,292.3 733.9,293.2 731.5,292.6 726.2,290.4 723.5,289.6 722.5,289.6 723.5,291.7 725.6,294.4 725.6,295.9 727.8,298.7 728.9,299.9 729.6,300.9 730.4,301.9 733.1,304.2 735.1,306.1 731.2,304.3 729.3,303.9 729.1,305.2 725.3,303.9 723.4,304.0 723.6,305.8 723.1,307.3 722.2,308.3 725.1,312.6 723.1,312.6 723.2,314.9 725.8,319.6 726.6,322.8 727.7,326.5 727.8,329.0 724.4,327.6 725.3,331.0 723.0,329.7 721.2,329.1 719.0,327.5 716.7,325.9 712.7,322.2 710.4,324.9 708.2,323.1 706.0,324.4 707.0,330.6 705.2,332.2 703.2,329.8 702.7,333.2 701.1,334.2 699.5,335.5 699.7,340.9 697.9,335.6 697.1,333.1 695.5,329.8 696.0,331.9 693.3,326.2 692.4,324.8 691.5,323.2 690.9,322.7 690.4,322.6 689.9,322.2 687.7,319.2 685.2,315.2 684.1,315.1 683.0,315.6 680.6,309.6 679.7,308.9 678.2,305.8 677.3,305.5 676.0,303.5 675.1,301.5 674.1,299.5 673.2,297.6 672.3,295.6 671.3,293.6 670.4,291.6 668.7,290.4 667.0,289.2 665.3,288.0 663.6,286.8 661.9,285.6 660.2,284.4 658.5,283.2 659.2,281.1 659.9,279.0 660.6,276.9 661.3,274.7 662.0,272.6 662.7,270.5 663.4,268.4 664.8,266.1 666.1,263.9 667.5,261.6 666.3,259.9 665.1,258.2 663.9,256.5 662.8,254.8 661.6,253.1 660.4,251.4 659.2,249.7 658.0,248.0 657.1,246.0 656.2,244.0 655.4,242.0 654.5,240.0 653.6,238.0 652.8,236.0 651.9,234.0 651.0,232.0 650.4,230.0 649.8,228.0 649.2,226.0 648.6,224.0 648.0,222.0 650.0,222.2 649.8,217.4 651.4,217.1 652.1,214.4 652.7,211.1 654.4,211.4 655.2,208.8 655.5,203.1 657.4,205.0 658.7,203.9 660.0,203.4 661.3,202.4 661.4,198.2 661.8,196.5 661.9,190.6 662.4,189.8 662.8,187.3 662.7,187.1 662.4,185.2 662.3,185.6 661.9,181.8 661.6,179.3 661.4,178.4 660.9,174.2" fill="#ff6400"/>
<g clip-path="url(#orc)"><g filter="url(#rb)">
<polygon points="667.8,261.6 676.6,286.2 678.0,285.6 667.8,261.6" fill="rgb(255,95,4)"/>
<polygon points="676.6,286.2 686.6,314.2 689.6,313.0 678.0,285.6" fill="rgb(255,56,0)"/>
<polygon points="686.6,314.2 694.4,336.1 698.7,334.4 689.6,313.0" fill="rgb(255,106,8)"/>
<polygon points="694.4,336.1 704.8,365.2 710.8,362.8 698.7,334.4" fill="rgb(255,126,16)"/>
<polygon points="667.8,261.6 676.6,283.0 677.6,282.6 667.8,261.6" fill="rgb(255,66,0)"/>
<polygon points="676.6,283.0 687.4,309.2 689.5,308.2 677.6,282.6" fill="rgb(255,105,8)"/>
<polygon points="687.4,309.2 692.6,321.9 695.3,320.7 689.5,308.2" fill="rgb(255,63,0)"/>
<polygon points="692.6,321.9 709.7,363.3 714.3,361.3 695.3,320.7" fill="rgb(255,62,0)"/>
<polygon points="667.8,261.6 674.0,275.3 674.5,275.0 667.8,261.6" fill="rgb(255,66,0)"/>
<polygon points="674.0,275.3 691.5,313.9 693.6,312.9 674.5,275.0" fill="rgb(255,102,7)"/>
<polygon points="691.5,313.9 695.9,323.6 698.5,322.4 693.6,312.9" fill="rgb(255,107,9)"/>
<polygon points="695.9,323.6 713.3,361.7 717.3,359.8 698.5,322.4" fill="rgb(255,92,2)"/>
<polygon points="667.8,261.6 678.9,284.4 680.5,283.5 667.8,261.6" fill="rgb(255,71,0)"/>
<polygon points="678.9,284.4 693.9,314.8 697.6,312.9 680.5,283.5" fill="rgb(255,116,12)"/>
<polygon points="693.9,314.8 702.4,332.0 707.2,329.4 697.6,312.9" fill="rgb(255,71,0)"/>
<polygon points="702.4,332.0 716.3,360.3 723.0,356.7 707.2,329.4" fill="rgb(255,55,0)"/>
<polygon points="667.8,261.6 677.4,278.7 678.3,278.2 667.8,261.6" fill="rgb(255,72,0)"/>
<polygon points="677.4,278.7 695.6,310.6 697.9,309.2 678.3,278.2" fill="rgb(255,139,21)"/>
<polygon points="695.6,310.6 703.4,324.4 706.4,322.6 697.9,309.2" fill="rgb(255,56,0)"/>
<polygon points="703.4,324.4 722.0,357.3 726.6,354.5 706.4,322.6" fill="rgb(255,134,19)"/>
<polygon points="667.8,261.6 680.2,281.7 681.2,281.1 667.8,261.6" fill="rgb(255,64,0)"/>
<polygon points="680.2,281.7 688.9,295.8 690.6,294.7 681.2,281.1" fill="rgb(255,65,0)"/>
<polygon points="688.9,295.8 702.3,317.5 705.0,315.7 690.6,294.7" fill="rgb(255,106,8)"/>
<polygon points="702.3,317.5 725.6,355.1 730.2,352.2 705.0,315.7" fill="rgb(255,73,0)"/>
<polygon points="667.8,261.6 682.6,283.7 683.8,282.8 667.8,261.6" fill="rgb(255,98,5)"/>
<polygon points="682.6,283.7 691.3,296.6 693.2,295.2 683.8,282.8" fill="rgb(255,57,0)"/>
<polygon points="691.3,296.6 710.4,324.8 713.8,322.4 693.2,295.2" fill="rgb(255,60,0)"/>
<polygon points="710.4,324.8 729.2,352.8 734.2,349.3 713.8,322.4" fill="rgb(255,88,1)"/>
<polygon points="667.8,261.6 684.9,284.8 686.0,283.9 667.8,261.6" fill="rgb(255,116,12)"/>
<polygon points="684.9,284.8 698.1,302.5 700.0,301.0 686.0,283.9" fill="rgb(255,63,0)"/>
<polygon points="698.1,302.5 709.2,317.6 711.9,315.5 700.0,301.0" fill="rgb(255,116,12)"/>
<polygon points="709.2,317.6 733.2,350.0 737.4,346.7 711.9,315.5" fill="rgb(255,109,9)"/>
<polygon points="667.8,261.6 679.4,276.1 680.1,275.5 667.8,261.6" fill="rgb(255,85,0)"/>
<polygon points="679.4,276.1 700.2,302.1 702.2,300.4 680.1,275.5" fill="rgb(255,63,0)"/>
<polygon points="700.2,302.1 716.2,322.0 719.2,319.5 702.2,300.4" fill="rgb(255,61,0)"/>
<polygon points="716.2,322.0 736.5,347.4 740.8,343.8 719.2,319.5" fill="rgb(255,138,21)"/>
<polygon points="667.8,261.6 683.8,280.1 685.0,278.9 667.8,261.6" fill="rgb(255,143,22)"/>
<polygon points="683.8,280.1 704.3,303.7 707.2,301.0 685.0,278.9" fill="rgb(255,78,0)"/>
<polygon points="704.3,303.7 711.5,311.8 714.9,308.7 707.2,301.0" fill="rgb(255,116,11)"/>
<polygon points="711.5,311.8 740.0,344.6 745.6,339.4 714.9,308.7" fill="rgb(255,115,11)"/>
<polygon points="667.8,261.6 685.9,280.1 686.9,279.1 667.8,261.6" fill="rgb(255,134,18)"/>
<polygon points="685.9,280.1 702.5,297.0 704.3,295.1 686.9,279.1" fill="rgb(255,119,12)"/>
<polygon points="702.5,297.0 716.3,311.1 718.9,308.5 704.3,295.1" fill="rgb(255,99,4)"/>
<polygon points="716.3,311.1 744.7,340.2 748.8,335.9 718.9,308.5" fill="rgb(255,131,17)"/>
<polygon points="667.8,261.6 688.2,280.7 689.4,279.4 667.8,261.6" fill="rgb(255,109,9)"/>
<polygon points="688.2,280.7 702.2,293.9 704.2,291.6 689.4,279.4" fill="rgb(255,103,6)"/>
<polygon points="702.2,293.9 723.8,314.1 727.1,310.4 704.2,291.6" fill="rgb(255,86,0)"/>
<polygon points="723.8,314.1 748.1,336.8 752.7,331.5 727.1,310.4" fill="rgb(255,82,0)"/>
<polygon points="667.8,261.6 687.2,277.9 688.2,276.6 667.8,261.6" fill="rgb(255,105,6)"/>
<polygon points="687.2,277.9 702.9,291.1 704.7,288.8 688.2,276.6" fill="rgb(255,70,0)"/>
<polygon points="702.9,291.1 728.4,312.5 731.5,308.6 704.7,288.8" fill="rgb(255,83,0)"/>
<polygon points="728.4,312.5 752.0,332.4 756.3,326.9 731.5,308.6" fill="rgb(255,95,2)"/>
<polygon points="667.8,261.6 689.3,277.8 690.2,276.5 667.8,261.6" fill="rgb(255,112,9)"/>
<polygon points="689.3,277.8 705.3,289.9 706.9,287.6 690.2,276.5" fill="rgb(255,91,0)"/>
<polygon points="705.3,289.9 727.4,306.5 729.9,302.9 706.9,287.6" fill="rgb(255,119,12)"/>
<polygon points="727.4,306.5 755.6,327.8 759.4,322.5 729.9,302.9" fill="rgb(255,125,14)"/>
<polygon points="667.8,261.6 686.7,274.5 687.4,273.4 667.8,261.6" fill="rgb(255,126,14)"/>
<polygon points="686.7,274.5 703.6,286.0 704.9,284.0 687.4,273.4" fill="rgb(255,113,9)"/>
<polygon points="703.6,286.0 731.9,305.2 734.2,301.6 704.9,284.0" fill="rgb(255,154,25)"/>
<polygon points="731.9,305.2 758.7,323.4 762.0,318.4 734.2,301.6" fill="rgb(255,106,6)"/>
<polygon points="667.8,261.6 688.5,274.4 689.1,273.3 667.8,261.6" fill="rgb(255,141,19)"/>
<polygon points="688.5,274.4 715.0,290.7 716.4,288.3 689.1,273.3" fill="rgb(255,101,3)"/>
<polygon points="715.0,290.7 731.2,300.7 733.1,297.4 716.4,288.3" fill="rgb(255,89,0)"/>
<polygon points="731.2,300.7 761.4,319.3 764.2,314.5 733.1,297.4" fill="rgb(255,148,22)"/>
<polygon points="667.8,261.6 681.5,269.3 681.9,268.7 667.8,261.6" fill="rgb(255,139,19)"/>
<polygon points="681.5,269.3 705.0,282.5 705.8,280.8 681.9,268.7" fill="rgb(255,104,5)"/>
<polygon points="705.0,282.5 728.6,295.8 730.0,293.0 705.8,280.8" fill="rgb(255,112,8)"/>
<polygon points="728.6,295.8 763.7,315.5 766.0,311.1 730.0,293.0" fill="rgb(255,92,0)"/>
<polygon points="667.8,261.6 686.5,271.3 686.8,270.6 667.8,261.6" fill="rgb(255,86,0)"/>
<polygon points="686.5,271.3 708.2,282.6 709.0,281.1 686.8,270.6" fill="rgb(255,155,25)"/>
<polygon points="708.2,282.6 730.9,294.3 732.1,292.0 709.0,281.1" fill="rgb(255,85,0)"/>
<polygon points="730.9,294.3 765.4,312.2 767.2,308.6 732.1,292.0" fill="rgb(255,98,2)"/>
<polygon points="667.8,261.6 692.3,273.5 693.1,271.8 667.8,261.6" fill="rgb(255,117,10)"/>
<polygon points="692.3,273.5 711.3,282.7 712.7,279.6 693.1,271.8" fill="rgb(255,89,0)"/>
<polygon points="711.3,282.7 737.2,295.3 739.4,290.3 712.7,279.6" fill="rgb(255,113,8)"/>
<polygon points="737.2,295.3 766.7,309.6 769.8,302.5 739.4,290.3" fill="rgb(255,135,17)"/>
<polygon points="667.8,261.6 694.0,272.4 694.5,271.2 667.8,261.6" fill="rgb(255,113,8)"/>
<polygon points="694.0,272.4 704.7,276.9 705.4,275.1 694.5,271.2" fill="rgb(255,89,0)"/>
<polygon points="704.7,276.9 729.3,287.0 730.5,284.0 705.4,275.1" fill="rgb(255,131,15)"/>
<polygon points="729.3,287.0 769.4,303.6 771.3,298.6 730.5,284.0" fill="rgb(255,105,5)"/>
<polygon points="667.8,261.6 695.5,271.8 696.0,270.5 667.8,261.6" fill="rgb(255,132,16)"/>
<polygon points="695.5,271.8 712.4,278.1 713.1,276.0 696.0,270.5" fill="rgb(255,96,1)"/>
<polygon points="712.4,278.1 742.3,289.1 743.5,285.6 713.1,276.0" fill="rgb(255,109,6)"/>
<polygon points="742.3,289.1 770.9,299.7 772.6,294.8 743.5,285.6" fill="rgb(255,99,3)"/>
<polygon points="667.8,261.6 686.1,267.6 686.4,266.6 667.8,261.6" fill="rgb(255,116,9)"/>
<polygon points="686.1,267.6 714.8,277.0 715.6,274.5 686.4,266.6" fill="rgb(255,98,2)"/>
<polygon points="714.8,277.0 731.2,282.4 732.3,279.0 715.6,274.5" fill="rgb(255,155,25)"/>
<polygon points="731.2,282.4 772.3,295.9 774.0,290.2 732.3,279.0" fill="rgb(255,97,2)"/>
<polygon points="667.8,261.6 685.7,266.7 686.0,265.5 667.8,261.6" fill="rgb(255,136,17)"/>
<polygon points="685.7,266.7 711.4,273.9 712.1,271.0 686.0,265.5" fill="rgb(255,115,9)"/>
<polygon points="711.4,273.9 732.6,279.8 733.6,275.6 712.1,271.0" fill="rgb(255,117,10)"/>
<polygon points="732.6,279.8 773.7,291.3 775.3,284.5 733.6,275.6" fill="rgb(255,161,27)"/>
<polygon points="667.8,261.6 690.2,266.6 690.4,265.6 667.8,261.6" fill="rgb(255,111,7)"/>
<polygon points="690.2,266.6 713.3,271.8 713.8,269.6 690.4,265.6" fill="rgb(255,101,3)"/>
<polygon points="713.3,271.8 735.5,276.8 736.2,273.6 713.8,269.6" fill="rgb(255,148,22)"/>
<polygon points="735.5,276.8 775.1,285.6 776.1,280.5 736.2,273.6" fill="rgb(255,107,6)"/>
<polygon points="667.8,261.6 690.5,265.8 690.8,264.3 667.8,261.6" fill="rgb(255,105,5)"/>
<polygon points="690.5,265.8 707.4,269.0 707.8,266.3 690.8,264.3" fill="rgb(255,120,11)"/>
<polygon points="707.4,269.0 743.1,275.6 743.9,270.5 707.8,266.3" fill="rgb(255,108,6)"/>
<polygon points="743.1,275.6 775.9,281.7 777.0,274.3 743.9,270.5" fill="rgb(255,103,4)"/>
<polygon points="667.8,261.6 685.6,263.9 685.7,262.7 667.8,261.6" fill="rgb(255,85,0)"/>
<polygon points="685.6,263.9 713.3,267.4 713.6,264.4 685.7,262.7" fill="rgb(255,120,11)"/>
<polygon points="713.3,267.4 744.6,271.4 745.1,266.2 713.6,264.4" fill="rgb(255,97,2)"/>
<polygon points="744.6,271.4 776.9,275.5 777.6,268.2 745.1,266.2" fill="rgb(255,153,24)"/>
<polygon points="667.8,261.6 690.2,263.2 690.2,261.9 667.8,261.6" fill="rgb(255,114,8)"/>
<polygon points="690.2,263.2 714.2,264.9 714.4,262.3 690.2,261.9" fill="rgb(255,85,0)"/>
<polygon points="714.2,264.9 734.9,266.3 735.0,262.6 714.4,262.3" fill="rgb(255,127,14)"/>
<polygon points="734.9,266.3 777.5,269.4 777.7,263.2 735.0,262.6" fill="rgb(255,160,27)"/>
<polygon points="667.8,261.6 697.7,262.4 697.7,260.2 667.8,261.6" fill="rgb(255,128,14)"/>
<polygon points="697.7,262.4 721.8,263.0 721.7,259.1 697.7,260.2" fill="rgb(255,117,10)"/>
<polygon points="721.8,263.0 733.5,263.3 733.4,258.6 721.7,259.1" fill="rgb(255,149,22)"/>
<polygon points="733.5,263.3 777.7,264.4 777.6,256.6 733.4,258.6" fill="rgb(255,157,26)"/>
<polygon points="667.8,261.6 685.2,261.0 685.1,260.1 667.8,261.6" fill="rgb(255,87,0)"/>
<polygon points="685.2,261.0 720.2,259.8 720.0,257.1 685.1,260.1" fill="rgb(255,156,25)"/>
<polygon points="720.2,259.8 733.4,259.3 733.2,255.9 720.0,257.1" fill="rgb(255,122,12)"/>
<polygon points="733.4,259.3 777.7,257.7 777.3,252.1 733.2,255.9" fill="rgb(255,89,0)"/>
<polygon points="667.8,261.6 691.7,259.8 691.6,258.6 667.8,261.6" fill="rgb(255,159,26)"/>
<polygon points="691.7,259.8 717.4,257.8 717.2,255.5 691.6,258.6" fill="rgb(255,90,0)"/>
<polygon points="717.4,257.8 746.6,255.6 746.2,251.9 717.2,255.5" fill="rgb(255,109,7)"/>
<polygon points="746.6,255.6 777.4,253.3 776.9,248.1 746.2,251.9" fill="rgb(255,112,8)"/>
<polygon points="667.8,261.6 690.9,259.0 690.7,257.9 667.8,261.6" fill="rgb(255,147,22)"/>
<polygon points="690.9,259.0 712.5,256.5 712.3,254.5 690.7,257.9" fill="rgb(255,102,4)"/>
<polygon points="712.5,256.5 743.5,253.0 743.0,249.5 712.3,254.5" fill="rgb(255,91,0)"/>
<polygon points="743.5,253.0 777.0,249.2 776.4,244.2 743.0,249.5" fill="rgb(255,158,26)"/>
<polygon points="667.8,261.6 684.4,259.1 684.3,258.4 667.8,261.6" fill="rgb(255,130,15)"/>
<polygon points="684.4,259.1 719.1,253.9 718.7,251.9 684.3,258.4" fill="rgb(255,99,3)"/>
<polygon points="719.1,253.9 735.6,251.5 735.1,248.8 718.7,251.9" fill="rgb(255,83,0)"/>
<polygon points="735.6,251.5 776.5,245.3 775.8,241.0 735.1,248.8" fill="rgb(255,165,29)"/>
<polygon points="667.8,261.6 685.8,258.4 685.6,257.3 667.8,261.6" fill="rgb(255,118,10)"/>
<polygon points="685.8,258.4 709.4,254.1 708.9,251.6 685.6,257.3" fill="rgb(255,89,0)"/>
<polygon points="709.4,254.1 746.1,247.5 745.1,242.8 708.9,251.6" fill="rgb(255,101,3)"/>
<polygon points="746.1,247.5 776.0,242.2 774.6,235.7 745.1,242.8" fill="rgb(255,100,3)"/>
<polygon points="667.8,261.6 688.0,256.9 687.7,255.9 667.8,261.6" fill="rgb(255,117,10)"/>
<polygon points="688.0,256.9 709.4,252.0 708.9,249.9 687.7,255.9" fill="rgb(255,105,5)"/>
<polygon points="709.4,252.0 743.2,244.1 742.3,240.5 708.9,249.9" fill="rgb(255,110,7)"/>
<polygon points="743.2,244.1 774.9,236.8 773.6,231.6 742.3,240.5" fill="rgb(255,113,8)"/>
<polygon points="667.8,261.6 683.6,257.3 683.4,256.5 667.8,261.6" fill="rgb(255,84,0)"/>
<polygon points="683.6,257.3 707.0,250.9 706.4,248.9 683.4,256.5" fill="rgb(255,108,6)"/>
<polygon points="707.0,250.9 733.4,243.7 732.4,240.4 706.4,248.9" fill="rgb(255,82,0)"/>
<polygon points="733.4,243.7 773.9,232.7 772.3,227.4 732.4,240.4" fill="rgb(255,130,15)"/>
<polygon points="667.8,261.6 688.7,255.0 688.3,253.9 667.8,261.6" fill="rgb(255,90,0)"/>
<polygon points="688.7,255.0 707.8,248.9 707.1,246.9 688.3,253.9" fill="rgb(255,103,4)"/>
<polygon points="707.8,248.9 731.9,241.3 730.8,238.0 707.1,246.9" fill="rgb(255,90,0)"/>
<polygon points="731.9,241.3 772.6,228.5 770.8,223.1 730.8,238.0" fill="rgb(255,149,22)"/>
<polygon points="667.8,261.6 688.7,254.0 688.3,253.1 667.8,261.6" fill="rgb(255,102,4)"/>
<polygon points="688.7,254.0 706.0,247.8 705.3,246.1 688.3,253.1" fill="rgb(255,119,11)"/>
<polygon points="706.0,247.8 741.9,234.8 740.6,231.5 705.3,246.1" fill="rgb(255,107,6)"/>
<polygon points="741.9,234.8 771.2,224.2 769.4,219.6 740.6,231.5" fill="rgb(255,88,0)"/>
<polygon points="667.8,261.6 691.1,252.2 690.6,251.2 667.8,261.6" fill="rgb(255,147,22)"/>
<polygon points="691.1,252.2 718.4,241.3 717.4,238.9 690.6,251.2" fill="rgb(255,86,0)"/>
<polygon points="718.4,241.3 730.3,236.5 729.1,233.6 717.4,238.9" fill="rgb(255,135,17)"/>
<polygon points="730.3,236.5 769.8,220.6 767.8,215.9 729.1,233.6" fill="rgb(255,99,2)"/>
<polygon points="667.8,261.6 691.5,251.1 691.0,250.0 667.8,261.6" fill="rgb(255,87,0)"/>
<polygon points="691.5,251.1 717.4,239.5 716.4,237.3 691.0,250.0" fill="rgb(255,125,11)"/>
<polygon points="717.4,239.5 729.4,234.2 728.1,231.4 716.4,237.3" fill="rgb(255,97,0)"/>
<polygon points="729.4,234.2 768.3,217.0 766.1,212.3 728.1,231.4" fill="rgb(255,153,22)"/>
<polygon points="667.8,261.6 681.8,254.7 681.5,254.0 667.8,261.6" fill="rgb(255,99,2)"/>
<polygon points="681.8,254.7 713.6,239.3 712.4,236.9 681.5,254.0" fill="rgb(255,153,23)"/>
<polygon points="713.6,239.3 739.5,226.6 737.6,223.0 712.4,236.9" fill="rgb(255,98,1)"/>
<polygon points="739.5,226.6 766.6,213.4 764.0,208.4 737.6,223.0" fill="rgb(255,73,0)"/>
<polygon points="667.8,261.6 686.2,251.7 685.8,251.0 667.8,261.6" fill="rgb(255,90,0)"/>
<polygon points="686.2,251.7 704.0,242.0 703.2,240.7 685.8,251.0" fill="rgb(255,152,24)"/>
<polygon points="704.0,242.0 728.3,228.9 727.0,226.6 703.2,240.7" fill="rgb(255,77,0)"/>
<polygon points="728.3,228.9 764.6,209.4 762.5,205.7 727.0,226.6" fill="rgb(255,90,0)"/>
<polygon points="667.8,261.6 684.8,251.8 684.4,251.1 667.8,261.6" fill="rgb(255,116,11)"/>
<polygon points="684.8,251.8 704.3,240.6 703.4,239.1 684.4,251.1" fill="rgb(255,113,9)"/>
<polygon points="704.3,240.6 731.1,225.1 729.6,222.6 703.4,239.1" fill="rgb(255,66,0)"/>
<polygon points="731.1,225.1 763.1,206.7 760.8,203.0 729.6,222.6" fill="rgb(255,92,1)"/>
<polygon points="667.8,261.6 688.5,248.8 687.9,247.8 667.8,261.6" fill="rgb(255,79,0)"/>
<polygon points="688.5,248.8 714.2,233.0 712.7,230.8 687.9,247.8" fill="rgb(255,108,9)"/>
<polygon points="714.2,233.0 734.8,220.4 732.6,217.1 712.7,230.8" fill="rgb(255,69,0)"/>
<polygon points="734.8,220.4 761.4,204.0 758.5,199.4 732.6,217.1" fill="rgb(255,67,0)"/>
<polygon points="667.8,261.6 684.1,250.6 683.4,249.6 667.8,261.6" fill="rgb(255,129,18)"/>
<polygon points="684.1,250.6 703.1,237.9 701.5,235.6 683.4,249.6" fill="rgb(255,90,2)"/>
<polygon points="703.1,237.9 722.8,224.7 720.2,221.2 701.5,235.6" fill="rgb(255,62,0)"/>
<polygon points="722.8,224.7 759.1,200.3 754.9,194.5 720.2,221.2" fill="rgb(255,126,16)"/>
<polygon points="667.8,261.6 680.9,251.7 680.4,251.0 667.8,261.6" fill="rgb(255,96,6)"/>
<polygon points="680.9,251.7 706.4,232.5 704.9,230.6 680.4,251.0" fill="rgb(255,104,9)"/>
<polygon points="706.4,232.5 723.4,219.7 721.3,216.9 704.9,230.6" fill="rgb(255,96,6)"/>
<polygon points="723.4,219.7 755.6,195.4 752.2,191.1 721.3,216.9" fill="rgb(255,79,0)"/>
<polygon points="667.8,261.6 690.5,243.1 689.3,241.7 667.8,261.6" fill="rgb(255,66,0)"/>
<polygon points="690.5,243.1 710.0,227.1 707.9,224.6 689.3,241.7" fill="rgb(255,113,14)"/>
<polygon points="710.0,227.1 726.2,213.8 723.3,210.4 707.9,224.6" fill="rgb(255,61,0)"/>
<polygon points="726.2,213.8 752.9,192.0 748.7,187.1 723.3,210.4" fill="rgb(255,89,4)"/>
<polygon points="667.8,261.6 687.4,243.9 686.7,243.1 667.8,261.6" fill="rgb(255,117,16)"/>
<polygon points="687.4,243.9 705.7,227.3 704.4,225.9 686.7,243.1" fill="rgb(255,96,7)"/>
<polygon points="705.7,227.3 716.3,217.8 714.6,215.9 704.4,225.9" fill="rgb(255,82,2)"/>
<polygon points="716.3,217.8 749.4,187.9 746.5,184.8 714.6,215.9" fill="rgb(255,72,0)"/>
<polygon points="667.8,261.6 678.7,251.1 678.2,250.6 667.8,261.6" fill="rgb(255,119,18)"/>
<polygon points="678.7,251.1 705.1,225.9 703.4,224.1 678.2,250.6" fill="rgb(255,55,0)"/>
<polygon points="705.1,225.9 723.7,208.1 721.1,205.5 703.4,224.1" fill="rgb(255,70,0)"/>
<polygon points="723.7,208.1 747.3,185.6 743.6,181.9 721.1,205.5" fill="rgb(255,113,16)"/>
<polygon points="667.8,261.6 683.0,245.9 681.9,244.9 667.8,261.6" fill="rgb(255,84,5)"/>
<polygon points="683.0,245.9 701.7,226.7 699.2,224.4 681.9,244.9" fill="rgb(255,71,0)"/>
<polygon points="701.7,226.7 717.6,210.2 714.0,206.9 699.2,224.4" fill="rgb(255,122,21)"/>
<polygon points="717.6,210.2 744.4,182.7 738.8,177.6 714.0,206.9" fill="rgb(255,126,22)"/>
<polygon points="667.8,261.6 683.2,243.7 682.5,243.1 667.8,261.6" fill="rgb(255,59,0)"/>
<polygon points="683.2,243.7 700.2,224.0 698.8,222.8 682.5,243.1" fill="rgb(255,53,0)"/>
<polygon points="700.2,224.0 718.9,202.4 716.6,200.5 698.8,222.8" fill="rgb(255,68,1)"/>
<polygon points="718.9,202.4 739.7,178.4 736.5,175.7 716.6,200.5" fill="rgb(255,79,5)"/>
<polygon points="667.8,261.6 679.6,247.1 678.9,246.5 667.8,261.6" fill="rgb(255,82,6)"/>
<polygon points="679.6,247.1 705.5,215.4 703.2,213.6 678.9,246.5" fill="rgb(255,116,20)"/>
<polygon points="705.5,215.4 716.9,201.5 713.9,199.2 703.2,213.6" fill="rgb(255,100,13)"/>
<polygon points="716.9,201.5 737.4,176.4 733.1,173.1 713.9,199.2" fill="rgb(255,41,0)"/>
<polygon points="667.8,261.6 678.6,247.2 677.6,246.5 667.8,261.6" fill="rgb(255,69,3)"/>
<polygon points="678.6,247.2 701.5,217.0 698.4,214.8 677.6,246.5" fill="rgb(255,66,1)"/>
<polygon points="701.5,217.0 709.9,205.9 706.0,203.1 698.4,214.8" fill="rgb(255,104,17)"/>
<polygon points="709.9,205.9 734.0,173.8 727.9,169.5 706.0,203.1" fill="rgb(255,101,15)"/>
<polygon points="667.8,261.6 676.3,248.8 675.7,248.4 667.8,261.6" fill="rgb(255,54,0)"/>
<polygon points="676.3,248.8 693.4,223.2 691.6,222.0 675.7,248.4" fill="rgb(255,49,0)"/>
<polygon points="693.4,223.2 707.1,202.8 704.2,201.0 691.6,222.0" fill="rgb(255,72,5)"/>
<polygon points="707.1,202.8 728.9,170.2 724.5,167.3 704.2,201.0" fill="rgb(255,66,3)"/>
<polygon points="667.8,261.6 681.9,238.6 680.6,237.9 667.8,261.6" fill="rgb(255,62,2)"/>
<polygon points="681.9,238.6 692.5,221.4 690.3,220.1 680.6,237.9" fill="rgb(255,87,12)"/>
<polygon points="692.5,221.4 706.5,198.7 703.0,196.6 690.3,220.1" fill="rgb(255,44,0)"/>
<polygon points="706.5,198.7 725.4,167.9 720.2,164.9 703.0,196.6" fill="rgb(255,66,4)"/>
<polygon points="667.8,261.6 681.8,236.3 680.6,235.7 667.8,261.6" fill="rgb(255,25,0)"/>
<polygon points="681.8,236.3 689.8,221.8 687.9,220.8 680.6,235.7" fill="rgb(255,58,2)"/>
<polygon points="689.8,221.8 704.5,195.4 701.4,193.7 687.9,220.8" fill="rgb(255,71,7)"/>
<polygon points="704.5,195.4 721.2,165.4 716.6,163.0 701.4,193.7" fill="rgb(255,68,6)"/>
<polygon points="667.8,261.6 676.0,245.4 675.0,245.0 667.8,261.6" fill="rgb(255,32,0)"/>
<polygon points="676.0,245.4 690.6,216.7 687.9,215.5 675.0,245.0" fill="rgb(255,48,0)"/>
<polygon points="690.6,216.7 703.3,191.7 699.2,189.7 687.9,215.5" fill="rgb(255,19,0)"/>
<polygon points="703.3,191.7 717.6,163.5 711.8,160.8 699.2,189.7" fill="rgb(255,28,0)"/>
<polygon points="667.8,261.6 679.5,235.5 677.7,234.7 667.8,261.6" fill="rgb(255,21,0)"/>
<polygon points="679.5,235.5 689.2,213.9 685.9,212.6 677.7,234.7" fill="rgb(255,46,0)"/>
<polygon points="689.2,213.9 696.8,197.0 692.3,195.2 685.9,212.6" fill="rgb(255,36,0)"/>
<polygon points="696.8,197.0 712.9,161.3 706.0,158.4 692.3,195.2" fill="rgb(255,27,0)"/>
<polygon points="667.8,261.6 676.4,238.9 675.4,238.5 667.8,261.6" fill="rgb(255,47,1)"/>
<polygon points="676.4,238.9 688.4,207.5 685.9,206.6 675.4,238.5" fill="rgb(255,87,17)"/>
<polygon points="688.4,207.5 691.9,198.5 688.9,197.5 685.9,206.6" fill="rgb(255,58,6)"/>
<polygon points="691.9,198.5 707.0,158.9 702.3,157.2 688.9,197.5" fill="rgb(255,53,4)"/>
<polygon points="667.8,261.6 675.2,239.9 674.0,239.5 667.8,261.6" fill="rgb(255,25,0)"/>
<polygon points="675.2,239.9 686.6,206.6 683.7,205.7 674.0,239.5" fill="rgb(255,70,12)"/>
<polygon points="686.6,206.6 690.3,195.8 686.8,194.7 683.7,205.7" fill="rgb(255,16,0)"/>
<polygon points="690.3,195.8 703.4,157.5 698.0,155.8 686.8,194.7" fill="rgb(255,74,13)"/>
<polygon points="667.8,261.6 674.8,237.9 673.4,237.6 667.8,261.6" fill="rgb(255,10,0)"/>
<polygon points="674.8,237.9 683.1,210.0 680.1,209.2 673.4,237.6" fill="rgb(255,52,6)"/>
<polygon points="683.1,210.0 689.4,188.8 685.1,187.7 680.1,209.2" fill="rgb(255,24,0)"/>
<polygon points="689.4,188.8 699.1,156.1 693.0,154.5 685.1,187.7" fill="rgb(255,42,2)"/>
<polygon points="667.8,261.6 673.8,236.9 672.7,236.6 667.8,261.6" fill="rgb(255,68,13)"/>
<polygon points="673.8,236.9 681.3,206.4 678.9,205.9 672.7,236.6" fill="rgb(255,80,18)"/>
<polygon points="681.3,206.4 685.0,191.5 681.9,190.8 678.9,205.9" fill="rgb(255,10,0)"/>
<polygon points="685.0,191.5 694.1,154.8 689.3,153.7 681.9,190.8" fill="rgb(255,45,4)"/>
<polygon points="667.8,261.6 673.0,236.5 671.4,236.2 667.8,261.6" fill="rgb(255,36,1)"/>
<polygon points="673.0,236.5 679.8,204.4 676.1,203.7 671.4,236.2" fill="rgb(255,63,12)"/>
<polygon points="679.8,204.4 684.1,183.9 679.0,183.1 676.1,203.7" fill="rgb(255,13,0)"/>
<polygon points="684.1,183.9 690.4,154.0 683.4,152.7 679.0,183.1" fill="rgb(255,27,0)"/>
<polygon points="667.8,261.6 670.2,245.5 669.2,245.4 667.8,261.6" fill="rgb(255,74,17)"/>
<polygon points="670.2,245.5 675.1,214.1 672.1,213.7 669.2,245.4" fill="rgb(255,20,0)"/>
<polygon points="675.1,214.1 678.9,189.3 674.4,188.7 672.1,213.7" fill="rgb(255,27,0)"/>
<polygon points="678.9,189.3 684.5,152.9 677.7,152.1 674.4,188.7" fill="rgb(255,78,19)"/>
<polygon points="667.8,261.6 669.7,242.3 668.5,242.2 667.8,261.6" fill="rgb(255,19,0)"/>
<polygon points="669.7,242.3 672.0,219.5 669.4,219.3 668.5,242.2" fill="rgb(255,50,8)"/>
<polygon points="672.0,219.5 675.0,189.8 670.6,189.5 669.4,219.3" fill="rgb(255,15,0)"/>
<polygon points="675.0,189.8 678.9,152.2 672.1,151.7 670.6,189.5" fill="rgb(255,38,3)"/>
<polygon points="667.8,261.6 668.7,242.2 667.6,242.2 667.8,261.6" fill="rgb(255,70,16)"/>
<polygon points="668.7,242.2 670.1,214.9 667.4,214.9 667.6,242.2" fill="rgb(255,13,0)"/>
<polygon points="670.1,214.9 671.6,184.0 667.2,183.9 667.4,214.9" fill="rgb(255,4,0)"/>
<polygon points="671.6,184.0 673.2,151.7 667.0,151.6 667.2,183.9" fill="rgb(255,5,0)"/>
<polygon points="667.8,261.6 667.8,238.5 666.2,238.5 667.8,261.6" fill="rgb(255,5,0)"/>
<polygon points="667.8,238.5 667.9,213.9 664.5,214.0 666.2,238.5" fill="rgb(255,79,19)"/>
<polygon points="667.9,213.9 668.0,182.6 662.4,182.8 664.5,214.0" fill="rgb(255,66,14)"/>
<polygon points="668.0,182.6 668.1,151.6 660.3,151.9 662.4,182.8" fill="rgb(255,25,0)"/>
<polygon points="667.8,261.6 666.8,245.8 666.0,245.9 667.8,261.6" fill="rgb(255,24,0)"/>
<polygon points="666.8,245.8 665.2,217.3 662.8,217.5 666.0,245.9" fill="rgb(255,4,0)"/>
<polygon points="665.2,217.3 663.2,182.1 658.9,182.5 662.8,217.5" fill="rgb(255,52,9)"/>
<polygon points="663.2,182.1 661.5,151.8 655.5,152.3 658.9,182.5" fill="rgb(255,69,15)"/>
<polygon points="667.8,261.6 665.6,240.2 664.2,240.4 667.8,261.6" fill="rgb(255,35,2)"/>
<polygon points="665.6,240.2 662.5,210.0 659.2,210.4 664.2,240.4" fill="rgb(255,79,19)"/>
<polygon points="662.5,210.0 659.8,183.5 654.8,184.1 659.2,210.4" fill="rgb(255,22,0)"/>
<polygon points="659.8,183.5 656.6,152.2 649.7,153.1 654.8,184.1" fill="rgb(255,45,6)"/>
<polygon points="667.8,261.6 663.1,232.0 661.7,232.2 667.8,261.6" fill="rgb(255,8,0)"/>
<polygon points="663.1,232.0 659.3,207.1 656.6,207.6 661.7,232.2" fill="rgb(255,23,0)"/>
<polygon points="659.3,207.1 655.7,184.2 651.8,184.9 656.6,207.6" fill="rgb(255,54,9)"/>
<polygon points="655.7,184.2 650.8,152.9 645.4,153.9 651.8,184.9" fill="rgb(255,23,0)"/>
</g>
<polyline points="663.4,268.4 658.5,283.2 670.4,291.6 676.0,303.5 682.4,313.3 688.7,319.0 692.9,326.0 697.1,333.0 698.5,337.9" fill="none" stroke="#ff1a00" stroke-width="22" filter="url(#rb)"/>
<polyline points="663.4,268.4 658.5,283.2 670.4,291.6 676.0,303.5 682.4,313.3 688.7,319.0 692.9,326.0 697.1,333.0 698.5,337.9" fill="none" stroke="#000070" stroke-width="6"/>
<polygon points="659,268 669,266 667,281 660,287 656,284" fill="#000080"/>
<polyline points="660.0,175.0 666.0,195.0 660.0,210.0 654.0,224.0 660.0,245.0 666.0,258.0" fill="none" stroke="#ff2200" stroke-width="14" filter="url(#rb)"/>
</g>
<polygon points="664.3,260.0 662.8,258.6 661.4,257.3 659.9,255.9 658.4,254.5 656.9,253.2 655.5,251.8 654.0,250.5 652.5,249.1 651.1,247.7 649.6,246.4 648.1,245.0 646.7,243.6 645.2,242.3 643.7,240.9 642.2,239.6 640.8,238.2 639.3,236.8 637.8,235.5 636.4,234.1 634.9,232.7 633.4,231.4 632.0,230.0 630.5,228.7 627.5,225.9 626.0,224.6 625.6,224.1 624.5,223.1 624.0,221.8 621.5,218.5 621.2,217.4 620.5,215.8 620.9,215.4 619.0,212.6 617.6,210.4 618.2,210.3 616.0,207.2 616.1,206.5 615.3,204.9 612.5,201.5 612.5,201.2 610.8,198.9 609.1,196.7 608.8,196.0 605.8,192.3 609.0,193.1 612.8,194.6 613.7,197.6 614.8,200.9 617.3,201.4 619.6,201.6 621.7,201.6 623.1,200.6 622.8,197.6 623.3,194.8 625.9,195.0 627.8,198.1 628.9,200.0 629.8,198.5 629.2,194.4 630.2,192.9 631.5,192.8 630.4,188.1 631.5,187.5 631.4,184.9 630.7,180.5 633.4,186.2 633.4,186.0 635.2,187.4 637.8,190.7 635.4,189.5 636.2,195.2 637.6,192.7 640.3,192.6 641.6,191.5 641.3,185.9 643.4,185.5 644.7,182.4 645.8,186.9 646.4,189.9 646.7,191.6 647.6,191.6 649.7,195.7 651.5,194.8 653.6,194.5 653.3,192.3 654.8,198.6 655.6,201.6 655.7,198.7 656.0,196.2 656.6,196.0 656.5,191.4 656.8,189.1 657.2,187.7 657.5,185.5 657.9,183.9 658.1,181.4 658.3,178.7 658.9,179.3 658.9,174.6 659.5,175.0 659.9,172.3 659.9,166.6 660.4,165.8 660.4,162.0 660.6,160.9 661.5,168.5 661.9,170.2 662.3,170.1 662.9,172.8 663.6,175.9 664.1,177.4 664.6,178.0 665.5,179.4 666.5,183.3 667.4,184.8 667.1,189.5 666.7,190.0 666.4,194.8 665.9,192.7 665.1,198.5 664.2,201.0 663.3,202.8 661.5,201.3 660.3,205.1 659.1,208.2 656.9,205.9 656.7,212.6 655.2,212.7 654.1,215.0 653.0,217.0 651.9,219.0 650.8,221.1 649.8,223.2 650.3,225.4 650.8,227.6 651.3,229.8 651.8,232.0 652.3,234.2 652.8,236.4 653.3,238.6 654.4,240.5 655.5,242.4 656.6,244.3 657.8,246.2 658.9,248.1 660.0,250.0 661.4,252.2 662.9,254.3 664.3,256.5" fill="#00008c"/>
<path d="M664,260L624.6,223.2L614,203.5" stroke="#0a28b0" stroke-width="5" fill="none" stroke-opacity="0.7" clip-path="url(#navc)"/>
<linearGradient id="bg" gradientUnits="userSpaceOnUse" x1="663" y1="266" x2="595" y2="275"><stop offset="0" stop-color="#0030e8"/><stop offset="0.6" stop-color="#0050ff"/><stop offset="1" stop-color="#2080ff"/></linearGradient>
<polygon points="662.6,261.9 660.4,262.0 658.3,262.1 656.1,262.3 654.0,262.4 651.8,262.5 649.7,262.6 647.5,262.8 645.3,262.9 643.2,263.0 641.0,263.1 638.9,263.3 636.7,263.4 634.6,263.6 632.2,263.8 630.8,263.9 629.7,264.0 626.5,264.2 624.6,264.4 622.6,264.6 619.5,264.8 617.7,264.9 616.4,265.1 612.8,265.3 610.7,265.5 608.7,266.0 608.4,266.4 604.8,267.1 601.2,267.8 602.1,268.0 599.4,268.6 597.3,269.1 594.8,269.7 593.7,270.1 593.3,271.7 594.3,272.1 598.3,272.0 598.2,272.6 596.9,274.1 595.6,275.6 596.8,276.6 593.5,278.5 593.7,279.6 596.2,278.6 596.7,278.0 600.4,276.7 599.3,277.1 605.5,275.9 606.3,276.0 608.0,275.8 610.3,275.4 613.2,275.3 615.8,275.1 617.2,275.3 620.1,275.2 619.7,275.9 620.5,276.1 616.5,277.7 616.4,278.0 613.7,279.3 611.4,281.1 609.8,282.7 606.7,285.0 606.3,286.2 602.2,288.9 604.4,289.9 606.5,293.0 607.5,294.2 611.0,294.1 613.4,294.5 615.4,295.2 616.3,294.7 619.8,292.4 618.4,293.3 623.1,290.3 624.3,289.5 624.5,289.5 626.7,288.0 629.4,286.3 630.4,285.7 631.1,285.2 635.2,282.6 634.2,283.2 635.9,282.2 639.3,280.0 641.0,278.9 642.8,277.8 644.5,276.7 646.2,275.6 648.0,274.5 649.7,273.4 651.5,272.2 653.2,271.1 654.9,270.0 656.7,268.9 658.4,267.8 660.1,266.7 661.9,265.6 663.6,264.5" fill="url(#bg)"/>
<path d="M667.8,261.6L590.5,228.4" stroke="#0038f0" stroke-width="1.1"/>
<path d="M667.8,261.6L650.2,286.7" stroke="#0030c0" stroke-width="1.2" stroke-dasharray="2,2"/>
<path d="M628.5,317.6L633.4,310.2" stroke="#e00000" stroke-width="1.3" stroke-dasharray="2.5,1.5"/>
<polygon points="506.8,276.0 510.0,276.0 510.8,284.0 509.2,293.4 512.4,301.3 515.5,307.6 513.2,308.4 509.2,304.5 506.0,296.6 506.8,285.5" fill="#f00000"/>
<polygon points="527.4,305.3 532.9,306.0 536.8,310.8 536.0,315.5 531.3,317.1 531.3,312.4 529.7,307.6" fill="#f00000"/>
<polygon points="509.2,327.4 513.9,328.2 520.3,331.3 524.2,338.4 525.8,340.0 521.1,340.8 517.1,336.0 513.2,331.3" fill="#f00000"/>
<polygon points="528.2,337.6 532.1,336.8 536.0,342.4 538.4,347.1 536.0,348.7 531.3,347.1 529.7,342.4" fill="#f00000"/>
<polygon points="708.0,337.6 711.8,337.3 715.4,339.7 717.5,343.2 716.0,343.6 713.2,341.8 711.1,345.4 709.4,349.6 709.7,355.9 710.8,361.5 708.7,361.5 706.9,357.3 706.6,346.1 708.0,341.1" fill="#f00000"/>
<polygon points="721.0,348.2 724.5,348.2 728.0,353.1 725.9,354.8 724.1,353.1" fill="#f00000"/>
<polygon points="732.2,345.4 734.3,345.4 737.1,346.8 739.2,347.5 743.4,343.2 748.7,347.5 743.4,352.4 739.9,350.3 736.4,354.5 735.0,360.1 733.2,360.1 730.4,355.9 732.2,353.1" fill="#f00000"/>
<polygon points="505.3,276.0 507.6,276.0 507.0,290.0 508.0,300.0 509.2,306.0 506.0,302.9 503.7,295.0 502.9,288.7" fill="#000066"/>
<polygon points="530.0,307.0 533.0,309.0 533.0,315.0 531.0,316.0" fill="#000066"/>
<polygon points="513.0,330.0 518.0,334.0 523.0,340.0 520.0,340.5 515.0,335.0" fill="#000066"/>
<polygon points="529.0,338.5 532.0,340.0 535.0,347.0 533.0,348.0 530.0,343.0" fill="#000066"/>
<polygon points="711.5,340.0 717.5,343.6 716.0,344.0 712.0,342.0 710.0,347.5 709.5,352.0 711.1,361.5 709.5,361.5 708.5,352.0" fill="#000066"/>
<polygon points="724.5,351.0 727.0,352.5 727.5,354.0 725.9,355.0 724.3,353.5" fill="#000066"/>
<polygon points="748.7,347.5 743.4,352.4 741.5,351.5 746.0,346.5" fill="#000066"/>
<polygon points="737.0,349.0 739.9,350.3 736.4,354.5 735.5,360.1 733.5,359.5 734.5,352.0" fill="#000066"/>
<polygon points="696.4,333.0 704.0,328.5 707.0,330.5 699.0,336.0 698.0,338.3" fill="#000066"/>
<path d="M522.6,321L529,317.9" stroke="#e00000" stroke-width="1.2"/>
<circle cx="667.8" cy="261.6" r="5.2" fill="#fff"/>
<path d="M59.1,74.2V60.2 M59.1,449V463" stroke="#000" stroke-width="1.9" stroke-linecap="round"/>
<path d="M59.1,74.2H45.1 M433.5,74.2H447.5" stroke="#000" stroke-width="1.9" stroke-linecap="round"/>
<path d="M70.8,74.2V67.2 M70.8,449V456" stroke="#000" stroke-width="1.25" stroke-linecap="round"/>
<path d="M59.1,85.9H52.1 M433.5,85.9H440.5" stroke="#000" stroke-width="1.25" stroke-linecap="round"/>
<path d="M82.5,74.2V67.2 M82.5,449V456" stroke="#000" stroke-width="1.25" stroke-linecap="round"/>
<path d="M59.1,97.6H52.1 M433.5,97.6H440.5" stroke="#000" stroke-width="1.25" stroke-linecap="round"/>
<path d="M94.2,74.2V67.2 M94.2,449V456" stroke="#000" stroke-width="1.25" stroke-linecap="round"/>
<path d="M59.1,109.3H52.1 M433.5,109.3H440.5" stroke="#000" stroke-width="1.25" stroke-linecap="round"/>
<path d="M105.9,74.2V67.2 M105.9,449V456" stroke="#000" stroke-width="1.25" stroke-linecap="round"/>
<path d="M59.1,121.1H52.1 M433.5,121.1H440.5" stroke="#000" stroke-width="1.25" stroke-linecap="round"/>
<path d="M117.6,74.2V67.2 M117.6,449V456" stroke="#000" stroke-width="1.25" stroke-linecap="round"/>
<path d="M59.1,132.8H52.1 M433.5,132.8H440.5" stroke="#000" stroke-width="1.25" stroke-linecap="round"/>
<path d="M129.3,74.2V67.2 M129.3,449V456" stroke="#000" stroke-width="1.25" stroke-linecap="round"/>
<path d="M59.1,144.5H52.1 M433.5,144.5H440.5" stroke="#000" stroke-width="1.25" stroke-linecap="round"/>
<path d="M141,74.2V67.2 M141,449V456" stroke="#000" stroke-width="1.25" stroke-linecap="round"/>
<path d="M59.1,156.2H52.1 M433.5,156.2H440.5" stroke="#000" stroke-width="1.25" stroke-linecap="round"/>
<path d="M152.7,74.2V60.2 M152.7,449V463" stroke="#000" stroke-width="1.9" stroke-linecap="round"/>
<path d="M59.1,167.9H45.1 M433.5,167.9H447.5" stroke="#000" stroke-width="1.9" stroke-linecap="round"/>
<path d="M164.4,74.2V67.2 M164.4,449V456" stroke="#000" stroke-width="1.25" stroke-linecap="round"/>
<path d="M59.1,179.6H52.1 M433.5,179.6H440.5" stroke="#000" stroke-width="1.25" stroke-linecap="round"/>
<path d="M176.1,74.2V67.2 M176.1,449V456" stroke="#000" stroke-width="1.25" stroke-linecap="round"/>
<path d="M59.1,191.3H52.1 M433.5,191.3H440.5" stroke="#000" stroke-width="1.25" stroke-linecap="round"/>
<path d="M187.8,74.2V67.2 M187.8,449V456" stroke="#000" stroke-width="1.25" stroke-linecap="round"/>
<path d="M59.1,203H52.1 M433.5,203H440.5" stroke="#000" stroke-width="1.25" stroke-linecap="round"/>
<path d="M199.5,74.2V67.2 M199.5,449V456" stroke="#000" stroke-width="1.25" stroke-linecap="round"/>
<path d="M59.1,214.8H52.1 M433.5,214.8H440.5" stroke="#000" stroke-width="1.25" stroke-linecap="round"/>
<path d="M211.2,74.2V67.2 M211.2,449V456" stroke="#000" stroke-width="1.25" stroke-linecap="round"/>
<path d="M59.1,226.5H52.1 M433.5,226.5H440.5" stroke="#000" stroke-width="1.25" stroke-linecap="round"/>
<path d="M222.9,74.2V67.2 M222.9,449V456" stroke="#000" stroke-width="1.25" stroke-linecap="round"/>
<path d="M59.1,238.2H52.1 M433.5,238.2H440.5" stroke="#000" stroke-width="1.25" stroke-linecap="round"/>
<path d="M234.6,74.2V67.2 M234.6,449V456" stroke="#000" stroke-width="1.25" stroke-linecap="round"/>
<path d="M59.1,249.9H52.1 M433.5,249.9H440.5" stroke="#000" stroke-width="1.25" stroke-linecap="round"/>
<path d="M246.3,74.2V60.2 M246.3,449V463" stroke="#000" stroke-width="1.9" stroke-linecap="round"/>
<path d="M59.1,261.6H45.1 M433.5,261.6H447.5" stroke="#000" stroke-width="1.9" stroke-linecap="round"/>
<path d="M258,74.2V67.2 M258,449V456" stroke="#000" stroke-width="1.25" stroke-linecap="round"/>
<path d="M59.1,273.3H52.1 M433.5,273.3H440.5" stroke="#000" stroke-width="1.25" stroke-linecap="round"/>
<path d="M269.7,74.2V67.2 M269.7,449V456" stroke="#000" stroke-width="1.25" stroke-linecap="round"/>
<path d="M59.1,285H52.1 M433.5,285H440.5" stroke="#000" stroke-width="1.25" stroke-linecap="round"/>
<path d="M281.4,74.2V67.2 M281.4,449V456" stroke="#000" stroke-width="1.25" stroke-linecap="round"/>
<path d="M59.1,296.7H52.1 M433.5,296.7H440.5" stroke="#000" stroke-width="1.25" stroke-linecap="round"/>
<path d="M293.1,74.2V67.2 M293.1,449V456" stroke="#000" stroke-width="1.25" stroke-linecap="round"/>
<path d="M59.1,308.4H52.1 M433.5,308.4H440.5" stroke="#000" stroke-width="1.25" stroke-linecap="round"/>
<path d="M304.8,74.2V67.2 M304.8,449V456" stroke="#000" stroke-width="1.25" stroke-linecap="round"/>
<path d="M59.1,320.2H52.1 M433.5,320.2H440.5" stroke="#000" stroke-width="1.25" stroke-linecap="round"/>
<path d="M316.5,74.2V67.2 M316.5,449V456" stroke="#000" stroke-width="1.25" stroke-linecap="round"/>
<path d="M59.1,331.9H52.1 M433.5,331.9H440.5" stroke="#000" stroke-width="1.25" stroke-linecap="round"/>
<path d="M328.2,74.2V67.2 M328.2,449V456" stroke="#000" stroke-width="1.25" stroke-linecap="round"/>
<path d="M59.1,343.6H52.1 M433.5,343.6H440.5" stroke="#000" stroke-width="1.25" stroke-linecap="round"/>
<path d="M339.9,74.2V60.2 M339.9,449V463" stroke="#000" stroke-width="1.9" stroke-linecap="round"/>
<path d="M59.1,355.3H45.1 M433.5,355.3H447.5" stroke="#000" stroke-width="1.9" stroke-linecap="round"/>
<path d="M351.6,74.2V67.2 M351.6,449V456" stroke="#000" stroke-width="1.25" stroke-linecap="round"/>
<path d="M59.1,367H52.1 M433.5,367H440.5" stroke="#000" stroke-width="1.25" stroke-linecap="round"/>
<path d="M363.3,74.2V67.2 M363.3,449V456" stroke="#000" stroke-width="1.25" stroke-linecap="round"/>
<path d="M59.1,378.7H52.1 M433.5,378.7H440.5" stroke="#000" stroke-width="1.25" stroke-linecap="round"/>
<path d="M375,74.2V67.2 M375,449V456" stroke="#000" stroke-width="1.25" stroke-linecap="round"/>
<path d="M59.1,390.4H52.1 M433.5,390.4H440.5" stroke="#000" stroke-width="1.25" stroke-linecap="round"/>
<path d="M386.7,74.2V67.2 M386.7,449V456" stroke="#000" stroke-width="1.25" stroke-linecap="round"/>
<path d="M59.1,402.1H52.1 M433.5,402.1H440.5" stroke="#000" stroke-width="1.25" stroke-linecap="round"/>
<path d="M398.4,74.2V67.2 M398.4,449V456" stroke="#000" stroke-width="1.25" stroke-linecap="round"/>
<path d="M59.1,413.9H52.1 M433.5,413.9H440.5" stroke="#000" stroke-width="1.25" stroke-linecap="round"/>
<path d="M410.1,74.2V67.2 M410.1,449V456" stroke="#000" stroke-width="1.25" stroke-linecap="round"/>
<path d="M59.1,425.6H52.1 M433.5,425.6H440.5" stroke="#000" stroke-width="1.25" stroke-linecap="round"/>
<path d="M421.8,74.2V67.2 M421.8,449V456" stroke="#000" stroke-width="1.25" stroke-linecap="round"/>
<path d="M59.1,437.3H52.1 M433.5,437.3H440.5" stroke="#000" stroke-width="1.25" stroke-linecap="round"/>
<path d="M433.5,74.2V60.2 M433.5,449V463" stroke="#000" stroke-width="1.9" stroke-linecap="round"/>
<path d="M59.1,449H45.1 M433.5,449H447.5" stroke="#000" stroke-width="1.9" stroke-linecap="round"/>
<rect x="59.1" y="74.2" width="374.4" height="374.8" fill="none" stroke="#000" stroke-width="2.1"/>
<path d="M480.1,74.2V60.2 M480.1,449V463" stroke="#000" stroke-width="1.9" stroke-linecap="round"/>
<path d="M480.1,74.2H466.1 M854.8,74.2H868.8" stroke="#000" stroke-width="1.9" stroke-linecap="round"/>
<path d="M491.8,74.2V67.2 M491.8,449V456" stroke="#000" stroke-width="1.25" stroke-linecap="round"/>
<path d="M480.1,85.9H473.1 M854.8,85.9H861.8" stroke="#000" stroke-width="1.25" stroke-linecap="round"/>
<path d="M503.5,74.2V67.2 M503.5,449V456" stroke="#000" stroke-width="1.25" stroke-linecap="round"/>
<path d="M480.1,97.6H473.1 M854.8,97.6H861.8" stroke="#000" stroke-width="1.25" stroke-linecap="round"/>
<path d="M515.2,74.2V67.2 M515.2,449V456" stroke="#000" stroke-width="1.25" stroke-linecap="round"/>
<path d="M480.1,109.3H473.1 M854.8,109.3H861.8" stroke="#000" stroke-width="1.25" stroke-linecap="round"/>
<path d="M526.9,74.2V67.2 M526.9,449V456" stroke="#000" stroke-width="1.25" stroke-linecap="round"/>
<path d="M480.1,121.1H473.1 M854.8,121.1H861.8" stroke="#000" stroke-width="1.25" stroke-linecap="round"/>
<path d="M538.6,74.2V67.2 M538.6,449V456" stroke="#000" stroke-width="1.25" stroke-linecap="round"/>
<path d="M480.1,132.8H473.1 M854.8,132.8H861.8" stroke="#000" stroke-width="1.25" stroke-linecap="round"/>
<path d="M550.4,74.2V67.2 M550.4,449V456" stroke="#000" stroke-width="1.25" stroke-linecap="round"/>
<path d="M480.1,144.5H473.1 M854.8,144.5H861.8" stroke="#000" stroke-width="1.25" stroke-linecap="round"/>
<path d="M562.1,74.2V67.2 M562.1,449V456" stroke="#000" stroke-width="1.25" stroke-linecap="round"/>
<path d="M480.1,156.2H473.1 M854.8,156.2H861.8" stroke="#000" stroke-width="1.25" stroke-linecap="round"/>
<path d="M573.8,74.2V60.2 M573.8,449V463" stroke="#000" stroke-width="1.9" stroke-linecap="round"/>
<path d="M480.1,167.9H466.1 M854.8,167.9H868.8" stroke="#000" stroke-width="1.9" stroke-linecap="round"/>
<path d="M585.5,74.2V67.2 M585.5,449V456" stroke="#000" stroke-width="1.25" stroke-linecap="round"/>
<path d="M480.1,179.6H473.1 M854.8,179.6H861.8" stroke="#000" stroke-width="1.25" stroke-linecap="round"/>
<path d="M597.2,74.2V67.2 M597.2,449V456" stroke="#000" stroke-width="1.25" stroke-linecap="round"/>
<path d="M480.1,191.3H473.1 M854.8,191.3H861.8" stroke="#000" stroke-width="1.25" stroke-linecap="round"/>
<path d="M608.9,74.2V67.2 M608.9,449V456" stroke="#000" stroke-width="1.25" stroke-linecap="round"/>
<path d="M480.1,203H473.1 M854.8,203H861.8" stroke="#000" stroke-width="1.25" stroke-linecap="round"/>
<path d="M620.6,74.2V67.2 M620.6,449V456" stroke="#000" stroke-width="1.25" stroke-linecap="round"/>
<path d="M480.1,214.8H473.1 M854.8,214.8H861.8" stroke="#000" stroke-width="1.25" stroke-linecap="round"/>
<path d="M632.3,74.2V67.2 M632.3,449V456" stroke="#000" stroke-width="1.25" stroke-linecap="round"/>
<path d="M480.1,226.5H473.1 M854.8,226.5H861.8" stroke="#000" stroke-width="1.25" stroke-linecap="round"/>
<path d="M644,74.2V67.2 M644,449V456" stroke="#000" stroke-width="1.25" stroke-linecap="round"/>
<path d="M480.1,238.2H473.1 M854.8,238.2H861.8" stroke="#000" stroke-width="1.25" stroke-linecap="round"/>
<path d="M655.7,74.2V67.2 M655.7,449V456" stroke="#000" stroke-width="1.25" stroke-linecap="round"/>
<path d="M480.1,249.9H473.1 M854.8,249.9H861.8" stroke="#000" stroke-width="1.25" stroke-linecap="round"/>
<path d="M667.5,74.2V60.2 M667.5,449V463" stroke="#000" stroke-width="1.9" stroke-linecap="round"/>
<path d="M480.1,261.6H466.1 M854.8,261.6H868.8" stroke="#000" stroke-width="1.9" stroke-linecap="round"/>
<path d="M679.2,74.2V67.2 M679.2,449V456" stroke="#000" stroke-width="1.25" stroke-linecap="round"/>
<path d="M480.1,273.3H473.1 M854.8,273.3H861.8" stroke="#000" stroke-width="1.25" stroke-linecap="round"/>
<path d="M690.9,74.2V67.2 M690.9,449V456" stroke="#000" stroke-width="1.25" stroke-linecap="round"/>
<path d="M480.1,285H473.1 M854.8,285H861.8" stroke="#000" stroke-width="1.25" stroke-linecap="round"/>
<path d="M702.6,74.2V67.2 M702.6,449V456" stroke="#000" stroke-width="1.25" stroke-linecap="round"/>
<path d="M480.1,296.7H473.1 M854.8,296.7H861.8" stroke="#000" stroke-width="1.25" stroke-linecap="round"/>
<path d="M714.3,74.2V67.2 M714.3,449V456" stroke="#000" stroke-width="1.25" stroke-linecap="round"/>
<path d="M480.1,308.4H473.1 M854.8,308.4H861.8" stroke="#000" stroke-width="1.25" stroke-linecap="round"/>
<path d="M726,74.2V67.2 M726,449V456" stroke="#000" stroke-width="1.25" stroke-linecap="round"/>
<path d="M480.1,320.2H473.1 M854.8,320.2H861.8" stroke="#000" stroke-width="1.25" stroke-linecap="round"/>
<path d="M737.7,74.2V67.2 M737.7,449V456" stroke="#000" stroke-width="1.25" stroke-linecap="round"/>
<path d="M480.1,331.9H473.1 M854.8,331.9H861.8" stroke="#000" stroke-width="1.25" stroke-linecap="round"/>
<path d="M749.4,74.2V67.2 M749.4,449V456" stroke="#000" stroke-width="1.25" stroke-linecap="round"/>
<path d="M480.1,343.6H473.1 M854.8,343.6H861.8" stroke="#000" stroke-width="1.25" stroke-linecap="round"/>
<path d="M761.1,74.2V60.2 M761.1,449V463" stroke="#000" stroke-width="1.9" stroke-linecap="round"/>
<path d="M480.1,355.3H466.1 M854.8,355.3H868.8" stroke="#000" stroke-width="1.9" stroke-linecap="round"/>
<path d="M772.8,74.2V67.2 M772.8,449V456" stroke="#000" stroke-width="1.25" stroke-linecap="round"/>
<path d="M480.1,367H473.1 M854.8,367H861.8" stroke="#000" stroke-width="1.25" stroke-linecap="round"/>
<path d="M784.5,74.2V67.2 M784.5,449V456" stroke="#000" stroke-width="1.25" stroke-linecap="round"/>
<path d="M480.1,378.7H473.1 M854.8,378.7H861.8" stroke="#000" stroke-width="1.25" stroke-linecap="round"/>
<path d="M796.3,74.2V67.2 M796.3,449V456" stroke="#000" stroke-width="1.25" stroke-linecap="round"/>
<path d="M480.1,390.4H473.1 M854.8,390.4H861.8" stroke="#000" stroke-width="1.25" stroke-linecap="round"/>
<path d="M808,74.2V67.2 M808,449V456" stroke="#000" stroke-width="1.25" stroke-linecap="round"/>
<path d="M480.1,402.1H473.1 M854.8,402.1H861.8" stroke="#000" stroke-width="1.25" stroke-linecap="round"/>
<path d="M819.7,74.2V67.2 M819.7,449V456" stroke="#000" stroke-width="1.25" stroke-linecap="round"/>
<path d="M480.1,413.9H473.1 M854.8,413.9H861.8" stroke="#000" stroke-width="1.25" stroke-linecap="round"/>
<path d="M831.4,74.2V67.2 M831.4,449V456" stroke="#000" stroke-width="1.25" stroke-linecap="round"/>
<path d="M480.1,425.6H473.1 M854.8,425.6H861.8" stroke="#000" stroke-width="1.25" stroke-linecap="round"/>
<path d="M843.1,74.2V67.2 M843.1,449V456" stroke="#000" stroke-width="1.25" stroke-linecap="round"/>
<path d="M480.1,437.3H473.1 M854.8,437.3H861.8" stroke="#000" stroke-width="1.25" stroke-linecap="round"/>
<path d="M854.8,74.2V60.2 M854.8,449V463" stroke="#000" stroke-width="1.9" stroke-linecap="round"/>
<path d="M480.1,449H466.1 M854.8,449H868.8" stroke="#000" stroke-width="1.9" stroke-linecap="round"/>
<rect x="480.1" y="74.2" width="374.7" height="374.8" fill="none" stroke="#000" stroke-width="2.1"/>
<text x="31.2" y="84.4" font-size="29.7" text-anchor="end">8</text>
<text x="31.2" y="178.1" font-size="29.7" text-anchor="end">4</text>
<text x="31.2" y="271.8" font-size="29.7" text-anchor="end">0</text>
<text x="31.2" y="365.5" font-size="29.7" text-anchor="end">−4</text>
<text x="31.2" y="459.2" font-size="29.7" text-anchor="end">−8</text>
<text x="59.1" y="499.5" font-size="29.7" text-anchor="middle">−8</text>
<text x="152.7" y="499.5" font-size="29.7" text-anchor="middle">−4</text>
<text x="246.3" y="499.5" font-size="29.7" text-anchor="middle">0</text>
<text x="339.9" y="499.5" font-size="29.7" text-anchor="middle">4</text>
<text x="433.5" y="499.5" font-size="29.7" text-anchor="middle">8</text>
<text x="480.1" y="499.5" font-size="29.7" text-anchor="middle">−8</text>
<text x="573.7" y="499.5" font-size="29.7" text-anchor="middle">−4</text>
<text x="667.3" y="499.5" font-size="29.7" text-anchor="middle">0</text>
<text x="760.9" y="499.5" font-size="29.7" text-anchor="middle">4</text>
<text x="854.5" y="499.5" font-size="29.7" text-anchor="middle">8</text>
<rect x="59" y="509.5" width="9.1" height="9.2" fill="rgb(0,0,0)" stroke="#000" stroke-width="2"/>
<rect x="68.1" y="509.5" width="9.1" height="9.2" fill="rgb(0,0,0)" stroke="#000" stroke-width="2"/>
<rect x="77.2" y="509.5" width="9.1" height="9.2" fill="rgb(0,0,0)" stroke="#000" stroke-width="2"/>
<rect x="86.3" y="509.5" width="9.1" height="9.2" fill="rgb(0,0,0)" stroke="#000" stroke-width="2"/>
<rect x="95.4" y="509.5" width="9.1" height="9.2" fill="rgb(0,0,0)" stroke="#000" stroke-width="2"/>
<rect x="104.5" y="509.5" width="9.1" height="9.2" fill="rgb(0,0,0)" stroke="#000" stroke-width="2"/>
<rect x="113.6" y="509.5" width="9.1" height="9.2" fill="rgb(0,0,0)" stroke="#000" stroke-width="2"/>
<rect x="122.7" y="509.5" width="9.1" height="9.2" fill="rgb(0,0,0)" stroke="#000" stroke-width="2"/>
<rect x="131.8" y="509.5" width="9.1" height="9.2" fill="rgb(0,0,0)" stroke="#000" stroke-width="2"/>
<rect x="140.9" y="509.5" width="9.1" height="9.2" fill="rgb(0,0,0)" stroke="#000" stroke-width="2"/>
<rect x="150" y="509.5" width="9.1" height="9.2" fill="rgb(16,16,16)" stroke="#000" stroke-width="2"/>
<rect x="159.1" y="509.5" width="9.1" height="9.2" fill="rgb(25,25,25)" stroke="#000" stroke-width="2"/>
<rect x="168.2" y="509.5" width="9.1" height="9.2" fill="rgb(34,34,34)" stroke="#000" stroke-width="2"/>
<rect x="177.3" y="509.5" width="9.1" height="9.2" fill="rgb(43,43,43)" stroke="#000" stroke-width="2"/>
<rect x="186.4" y="509.5" width="9.1" height="9.2" fill="rgb(53,53,53)" stroke="#000" stroke-width="2"/>
<rect x="195.5" y="509.5" width="9.1" height="9.2" fill="rgb(62,62,62)" stroke="#000" stroke-width="2"/>
<rect x="204.6" y="509.5" width="9.1" height="9.2" fill="rgb(71,71,71)" stroke="#000" stroke-width="2"/>
<rect x="213.7" y="509.5" width="9.1" height="9.2" fill="rgb(80,80,80)" stroke="#000" stroke-width="2"/>
<rect x="222.8" y="509.5" width="9.1" height="9.2" fill="rgb(89,89,89)" stroke="#000" stroke-width="2"/>
<rect x="231.9" y="509.5" width="9.1" height="9.2" fill="rgb(98,98,98)" stroke="#000" stroke-width="2"/>
<rect x="241" y="509.5" width="9.1" height="9.2" fill="rgb(108,108,108)" stroke="#000" stroke-width="2"/>
<rect x="250.1" y="509.5" width="9.1" height="9.2" fill="rgb(117,117,117)" stroke="#000" stroke-width="2"/>
<rect x="259.2" y="509.5" width="9.1" height="9.2" fill="rgb(126,126,126)" stroke="#000" stroke-width="2"/>
<rect x="268.3" y="509.5" width="9.1" height="9.2" fill="rgb(135,135,135)" stroke="#000" stroke-width="2"/>
<rect x="277.4" y="509.5" width="9.1" height="9.2" fill="rgb(144,144,144)" stroke="#000" stroke-width="2"/>
<rect x="286.5" y="509.5" width="9.1" height="9.2" fill="rgb(153,153,153)" stroke="#000" stroke-width="2"/>
<rect x="295.6" y="509.5" width="9.1" height="9.2" fill="rgb(163,163,163)" stroke="#000" stroke-width="2"/>
<rect x="304.7" y="509.5" width="9.1" height="9.2" fill="rgb(172,172,172)" stroke="#000" stroke-width="2"/>
<rect x="313.8" y="509.5" width="9.1" height="9.2" fill="rgb(181,181,181)" stroke="#000" stroke-width="2"/>
<rect x="322.9" y="509.5" width="9.1" height="9.2" fill="rgb(190,190,190)" stroke="#000" stroke-width="2"/>
<rect x="332" y="509.5" width="9.1" height="9.2" fill="rgb(199,199,199)" stroke="#000" stroke-width="2"/>
<rect x="341.1" y="509.5" width="9.1" height="9.2" fill="rgb(208,208,208)" stroke="#000" stroke-width="2"/>
<rect x="350.2" y="509.5" width="9.1" height="9.2" fill="rgb(218,218,218)" stroke="#000" stroke-width="2"/>
<rect x="359.3" y="509.5" width="9.1" height="9.2" fill="rgb(227,227,227)" stroke="#000" stroke-width="2"/>
<rect x="368.4" y="509.5" width="9.1" height="9.2" fill="rgb(236,236,236)" stroke="#000" stroke-width="2"/>
<rect x="377.5" y="509.5" width="9.1" height="9.2" fill="rgb(245,245,245)" stroke="#000" stroke-width="2"/>
<path d="M386.6,509.5L396.6,514.1L386.6,518.7Z" fill="#ffff00" stroke="#000" stroke-width="1.3" stroke-linejoin="round"/>
<path d="M59,518.7V533.6" stroke="#000" stroke-width="1.9" stroke-linecap="round"/>
<path d="M68.1,518.7V526.3" stroke="#000" stroke-width="1.3" stroke-linecap="round"/>
<path d="M77.2,518.7V526.3" stroke="#000" stroke-width="1.3" stroke-linecap="round"/>
<path d="M86.3,518.7V526.3" stroke="#000" stroke-width="1.3" stroke-linecap="round"/>
<path d="M95.4,518.7V526.3" stroke="#000" stroke-width="1.3" stroke-linecap="round"/>
<path d="M104.5,518.7V533.6" stroke="#000" stroke-width="1.9" stroke-linecap="round"/>
<path d="M113.6,518.7V526.3" stroke="#000" stroke-width="1.3" stroke-linecap="round"/>
<path d="M122.7,518.7V526.3" stroke="#000" stroke-width="1.3" stroke-linecap="round"/>
<path d="M131.8,518.7V526.3" stroke="#000" stroke-width="1.3" stroke-linecap="round"/>
<path d="M140.9,518.7V526.3" stroke="#000" stroke-width="1.3" stroke-linecap="round"/>
<path d="M150,518.7V533.6" stroke="#000" stroke-width="1.9" stroke-linecap="round"/>
<path d="M159.1,518.7V526.3" stroke="#000" stroke-width="1.3" stroke-linecap="round"/>
<path d="M168.2,518.7V526.3" stroke="#000" stroke-width="1.3" stroke-linecap="round"/>
<path d="M177.3,518.7V526.3" stroke="#000" stroke-width="1.3" stroke-linecap="round"/>
<path d="M186.4,518.7V526.3" stroke="#000" stroke-width="1.3" stroke-linecap="round"/>
<path d="M195.5,518.7V533.6" stroke="#000" stroke-width="1.9" stroke-linecap="round"/>
<path d="M204.6,518.7V526.3" stroke="#000" stroke-width="1.3" stroke-linecap="round"/>
<path d="M213.7,518.7V526.3" stroke="#000" stroke-width="1.3" stroke-linecap="round"/>
<path d="M222.8,518.7V526.3" stroke="#000" stroke-width="1.3" stroke-linecap="round"/>
<path d="M231.9,518.7V526.3" stroke="#000" stroke-width="1.3" stroke-linecap="round"/>
<path d="M241,518.7V533.6" stroke="#000" stroke-width="1.9" stroke-linecap="round"/>
<path d="M250.1,518.7V526.3" stroke="#000" stroke-width="1.3" stroke-linecap="round"/>
<path d="M259.2,518.7V526.3" stroke="#000" stroke-width="1.3" stroke-linecap="round"/>
<path d="M268.3,518.7V526.3" stroke="#000" stroke-width="1.3" stroke-linecap="round"/>
<path d="M277.4,518.7V526.3" stroke="#000" stroke-width="1.3" stroke-linecap="round"/>
<path d="M286.5,518.7V533.6" stroke="#000" stroke-width="1.9" stroke-linecap="round"/>
<path d="M295.6,518.7V526.3" stroke="#000" stroke-width="1.3" stroke-linecap="round"/>
<path d="M304.7,518.7V526.3" stroke="#000" stroke-width="1.3" stroke-linecap="round"/>
<path d="M313.8,518.7V526.3" stroke="#000" stroke-width="1.3" stroke-linecap="round"/>
<path d="M322.9,518.7V526.3" stroke="#000" stroke-width="1.3" stroke-linecap="round"/>
<path d="M332,518.7V533.6" stroke="#000" stroke-width="1.9" stroke-linecap="round"/>
<path d="M341.1,518.7V526.3" stroke="#000" stroke-width="1.3" stroke-linecap="round"/>
<path d="M350.2,518.7V526.3" stroke="#000" stroke-width="1.3" stroke-linecap="round"/>
<path d="M359.3,518.7V526.3" stroke="#000" stroke-width="1.3" stroke-linecap="round"/>
<path d="M368.4,518.7V526.3" stroke="#000" stroke-width="1.3" stroke-linecap="round"/>
<path d="M377.5,518.7V533.6" stroke="#000" stroke-width="1.9" stroke-linecap="round"/>
<path d="M386.6,518.7V526.3" stroke="#000" stroke-width="1.3" stroke-linecap="round"/>
<text x="59" y="569" font-size="28.5" text-anchor="middle">0</text>
<text x="104.5" y="569" font-size="28.5" text-anchor="middle">2.5</text>
<text x="150" y="569" font-size="28.5" text-anchor="middle">5</text>
<text x="195.5" y="569" font-size="28.5" text-anchor="middle">7.5</text>
<text x="241" y="569" font-size="28.5" text-anchor="middle">10</text>
<text x="286.5" y="569" font-size="28.5" text-anchor="middle">12.5</text>
<text x="332" y="569" font-size="28.5" text-anchor="middle">15</text>
<text x="377.5" y="569" font-size="28.5" text-anchor="middle">17.5</text>
<rect x="480.5" y="509.5" width="8.6" height="9.2" fill="#c8ffff" stroke="#000" stroke-width="2"/>
<rect x="489.1" y="509.5" width="8.6" height="9.2" fill="#b0ffff" stroke="#000" stroke-width="2"/>
<rect x="497.7" y="509.5" width="8.6" height="9.2" fill="#a0ffff" stroke="#000" stroke-width="2"/>
<rect x="506.3" y="509.5" width="8.6" height="9.2" fill="#90ffff" stroke="#000" stroke-width="2"/>
<rect x="514.9" y="509.5" width="8.6" height="9.2" fill="#70fcff" stroke="#000" stroke-width="2"/>
<rect x="523.5" y="509.5" width="8.6" height="9.2" fill="#50e8ff" stroke="#000" stroke-width="2"/>
<rect x="532.1" y="509.5" width="8.6" height="9.2" fill="#30d0ff" stroke="#000" stroke-width="2"/>
<rect x="540.7" y="509.5" width="8.6" height="9.2" fill="#20b8ff" stroke="#000" stroke-width="2"/>
<rect x="549.3" y="509.5" width="8.6" height="9.2" fill="#10a0ff" stroke="#000" stroke-width="2"/>
<rect x="557.9" y="509.5" width="8.6" height="9.2" fill="#0088ff" stroke="#000" stroke-width="2"/>
<rect x="566.5" y="509.5" width="8.6" height="9.2" fill="#0070ff" stroke="#000" stroke-width="2"/>
<rect x="575.1" y="509.5" width="8.6" height="9.2" fill="#0058ff" stroke="#000" stroke-width="2"/>
<rect x="583.7" y="509.5" width="8.6" height="9.2" fill="#0030ff" stroke="#000" stroke-width="2"/>
<rect x="592.3" y="509.5" width="8.6" height="9.2" fill="#0000ff" stroke="#000" stroke-width="2"/>
<rect x="600.9" y="509.5" width="8.6" height="9.2" fill="#0000e0" stroke="#000" stroke-width="2"/>
<rect x="609.5" y="509.5" width="8.6" height="9.2" fill="#0000b0" stroke="#000" stroke-width="2"/>
<rect x="618.1" y="509.5" width="8.6" height="9.2" fill="#000090" stroke="#000" stroke-width="2"/>
<rect x="626.7" y="509.5" width="8.6" height="9.2" fill="#000070" stroke="#000" stroke-width="2"/>
<rect x="635.3" y="509.5" width="8.6" height="9.2" fill="#000050" stroke="#000" stroke-width="2"/>
<rect x="643.9" y="509.5" width="8.6" height="9.2" fill="#f00000" stroke="#000" stroke-width="2"/>
<rect x="652.5" y="509.5" width="8.6" height="9.2" fill="#ff1000" stroke="#000" stroke-width="2"/>
<rect x="661.1" y="509.5" width="8.6" height="9.2" fill="#ff3000" stroke="#000" stroke-width="2"/>
<rect x="669.7" y="509.5" width="8.6" height="9.2" fill="#ff4000" stroke="#000" stroke-width="2"/>
<rect x="678.3" y="509.5" width="8.6" height="9.2" fill="#ff5800" stroke="#000" stroke-width="2"/>
<rect x="686.9" y="509.5" width="8.6" height="9.2" fill="#ff7000" stroke="#000" stroke-width="2"/>
<rect x="695.5" y="509.5" width="8.6" height="9.2" fill="#ff8800" stroke="#000" stroke-width="2"/>
<rect x="704.1" y="509.5" width="8.6" height="9.2" fill="#ffa010" stroke="#000" stroke-width="2"/>
<rect x="712.7" y="509.5" width="8.6" height="9.2" fill="#ffb828" stroke="#000" stroke-width="2"/>
<rect x="721.3" y="509.5" width="8.6" height="9.2" fill="#ffc030" stroke="#000" stroke-width="2"/>
<rect x="729.9" y="509.5" width="8.6" height="9.2" fill="#ffe040" stroke="#000" stroke-width="2"/>
<rect x="738.5" y="509.5" width="8.6" height="9.2" fill="#ffff50" stroke="#000" stroke-width="2"/>
<rect x="747.1" y="509.5" width="8.6" height="9.2" fill="#ffff60" stroke="#000" stroke-width="2"/>
<rect x="755.7" y="509.5" width="8.6" height="9.2" fill="#ffff78" stroke="#000" stroke-width="2"/>
<rect x="764.3" y="509.5" width="8.6" height="9.2" fill="#ffff90" stroke="#000" stroke-width="2"/>
<rect x="772.9" y="509.5" width="8.6" height="9.2" fill="#ffffa8" stroke="#000" stroke-width="2"/>
<rect x="781.5" y="509.5" width="8.6" height="9.2" fill="#ffffc0" stroke="#000" stroke-width="2"/>
<rect x="790.1" y="509.5" width="8.6" height="9.2" fill="#ffffd8" stroke="#000" stroke-width="2"/>
<rect x="798.7" y="509.5" width="8.6" height="9.2" fill="#ffffe8" stroke="#000" stroke-width="2"/>
<path d="M480.5,509.5L471,514.1L480.5,518.7Z" fill="#e0ffff" stroke="#000" stroke-width="1.3" stroke-linejoin="round"/>
<path d="M807.3,509.5L816.8,514.1L807.3,518.7Z" fill="#fffff0" stroke="#000" stroke-width="1.3" stroke-linejoin="round"/>
<path d="M480.5,518.7V526.3" stroke="#000" stroke-width="1.3" stroke-linecap="round"/>
<path d="M489.1,518.7V526.3" stroke="#000" stroke-width="1.3" stroke-linecap="round"/>
<path d="M497.7,518.7V526.3" stroke="#000" stroke-width="1.3" stroke-linecap="round"/>
<path d="M506.3,518.7V533.6" stroke="#000" stroke-width="1.9" stroke-linecap="round"/>
<path d="M514.9,518.7V526.3" stroke="#000" stroke-width="1.3" stroke-linecap="round"/>
<path d="M523.5,518.7V526.3" stroke="#000" stroke-width="1.3" stroke-linecap="round"/>
<path d="M532.1,518.7V526.3" stroke="#000" stroke-width="1.3" stroke-linecap="round"/>
<path d="M540.7,518.7V526.3" stroke="#000" stroke-width="1.3" stroke-linecap="round"/>
<path d="M549.3,518.7V526.3" stroke="#000" stroke-width="1.3" stroke-linecap="round"/>
<path d="M557.9,518.7V526.3" stroke="#000" stroke-width="1.3" stroke-linecap="round"/>
<path d="M566.5,518.7V526.3" stroke="#000" stroke-width="1.3" stroke-linecap="round"/>
<path d="M575.1,518.7V533.6" stroke="#000" stroke-width="1.9" stroke-linecap="round"/>
<path d="M583.7,518.7V526.3" stroke="#000" stroke-width="1.3" stroke-linecap="round"/>
<path d="M592.3,518.7V526.3" stroke="#000" stroke-width="1.3" stroke-linecap="round"/>
<path d="M600.9,518.7V526.3" stroke="#000" stroke-width="1.3" stroke-linecap="round"/>
<path d="M609.5,518.7V526.3" stroke="#000" stroke-width="1.3" stroke-linecap="round"/>
<path d="M618.1,518.7V526.3" stroke="#000" stroke-width="1.3" stroke-linecap="round"/>
<path d="M626.7,518.7V526.3" stroke="#000" stroke-width="1.3" stroke-linecap="round"/>
<path d="M635.3,518.7V526.3" stroke="#000" stroke-width="1.3" stroke-linecap="round"/>
<path d="M643.9,518.7V533.6" stroke="#000" stroke-width="1.9" stroke-linecap="round"/>
<path d="M652.5,518.7V526.3" stroke="#000" stroke-width="1.3" stroke-linecap="round"/>
<path d="M661.1,518.7V526.3" stroke="#000" stroke-width="1.3" stroke-linecap="round"/>
<path d="M669.7,518.7V526.3" stroke="#000" stroke-width="1.3" stroke-linecap="round"/>
<path d="M678.3,518.7V526.3" stroke="#000" stroke-width="1.3" stroke-linecap="round"/>
<path d="M686.9,518.7V526.3" stroke="#000" stroke-width="1.3" stroke-linecap="round"/>
<path d="M695.5,518.7V526.3" stroke="#000" stroke-width="1.3" stroke-linecap="round"/>
<path d="M704.1,518.7V526.3" stroke="#000" stroke-width="1.3" stroke-linecap="round"/>
<path d="M712.7,518.7V533.6" stroke="#000" stroke-width="1.9" stroke-linecap="round"/>
<path d="M721.3,518.7V526.3" stroke="#000" stroke-width="1.3" stroke-linecap="round"/>
<path d="M729.9,518.7V526.3" stroke="#000" stroke-width="1.3" stroke-linecap="round"/>
<path d="M738.5,518.7V526.3" stroke="#000" stroke-width="1.3" stroke-linecap="round"/>
<path d="M747.1,518.7V526.3" stroke="#000" stroke-width="1.3" stroke-linecap="round"/>
<path d="M755.7,518.7V526.3" stroke="#000" stroke-width="1.3" stroke-linecap="round"/>
<path d="M764.3,518.7V526.3" stroke="#000" stroke-width="1.3" stroke-linecap="round"/>
<path d="M772.9,518.7V526.3" stroke="#000" stroke-width="1.3" stroke-linecap="round"/>
<path d="M781.5,518.7V533.6" stroke="#000" stroke-width="1.9" stroke-linecap="round"/>
<path d="M790.1,518.7V526.3" stroke="#000" stroke-width="1.3" stroke-linecap="round"/>
<path d="M798.7,518.7V526.3" stroke="#000" stroke-width="1.3" stroke-linecap="round"/>
<path d="M807.3,518.7V526.3" stroke="#000" stroke-width="1.3" stroke-linecap="round"/>
<text x="506.3" y="569" font-size="28.5" text-anchor="middle">−8</text>
<text x="575.1" y="569" font-size="28.5" text-anchor="middle">−4</text>
<text x="643.9" y="569" font-size="28.5" text-anchor="middle">0</text>
<text x="712.7" y="569" font-size="28.5" text-anchor="middle">4</text>
<text x="781.5" y="569" font-size="28.5" text-anchor="middle">8</text>
</svg></body></html>
